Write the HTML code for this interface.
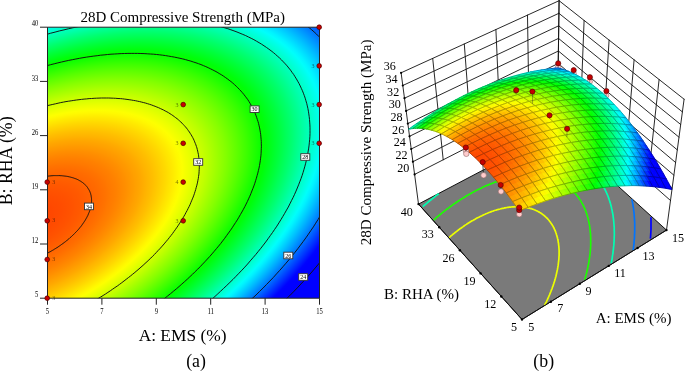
<!DOCTYPE html><html><head><meta charset="utf-8"><style>html,body{margin:0;padding:0;background:#fff}svg{display:block;will-change:transform}path.c{fill:currentColor;stroke:currentColor;stroke-width:.9;stroke-linejoin:round}path.m{fill:none;stroke:#000;stroke-opacity:.55;stroke-width:.5;stroke-linejoin:round}text{font-family:"Liberation Serif",serif;fill:#000}</style></head><body>
<svg width="685" height="371" viewBox="0 0 685 371">
<rect width="685" height="371" fill="#fff"/>
<defs><radialGradient id="g" gradientUnits="userSpaceOnUse" cx="0" cy="0" r="1" gradientTransform="matrix(-385.3995 193.5474 -107.9328 -213.3428 28.974 220.615)">
<stop offset="0.0000" stop-color="#ff4400"/>
<stop offset="0.0083" stop-color="#ff4400"/>
<stop offset="0.0167" stop-color="#ff4400"/>
<stop offset="0.0250" stop-color="#ff4500"/>
<stop offset="0.0333" stop-color="#ff4500"/>
<stop offset="0.0417" stop-color="#ff4600"/>
<stop offset="0.0500" stop-color="#ff4700"/>
<stop offset="0.0583" stop-color="#ff4800"/>
<stop offset="0.0667" stop-color="#ff4a00"/>
<stop offset="0.0750" stop-color="#ff4b00"/>
<stop offset="0.0833" stop-color="#ff4d00"/>
<stop offset="0.0917" stop-color="#ff4f00"/>
<stop offset="0.1000" stop-color="#ff5100"/>
<stop offset="0.1083" stop-color="#ff5300"/>
<stop offset="0.1167" stop-color="#ff5600"/>
<stop offset="0.1250" stop-color="#ff5800"/>
<stop offset="0.1333" stop-color="#ff5b00"/>
<stop offset="0.1417" stop-color="#ff5e00"/>
<stop offset="0.1500" stop-color="#ff6100"/>
<stop offset="0.1583" stop-color="#ff6400"/>
<stop offset="0.1667" stop-color="#ff6800"/>
<stop offset="0.1750" stop-color="#ff6b00"/>
<stop offset="0.1833" stop-color="#ff6f00"/>
<stop offset="0.1917" stop-color="#ff7300"/>
<stop offset="0.2000" stop-color="#ff7800"/>
<stop offset="0.2083" stop-color="#ff7c00"/>
<stop offset="0.2167" stop-color="#ff8000"/>
<stop offset="0.2250" stop-color="#ff8500"/>
<stop offset="0.2333" stop-color="#ff8a00"/>
<stop offset="0.2417" stop-color="#ff8f00"/>
<stop offset="0.2500" stop-color="#ff9500"/>
<stop offset="0.2583" stop-color="#ff9a00"/>
<stop offset="0.2667" stop-color="#ffa000"/>
<stop offset="0.2750" stop-color="#ffa500"/>
<stop offset="0.2833" stop-color="#ffab00"/>
<stop offset="0.2917" stop-color="#ffb200"/>
<stop offset="0.3000" stop-color="#ffb800"/>
<stop offset="0.3083" stop-color="#ffbe00"/>
<stop offset="0.3167" stop-color="#ffc500"/>
<stop offset="0.3250" stop-color="#ffcc00"/>
<stop offset="0.3333" stop-color="#ffd300"/>
<stop offset="0.3417" stop-color="#ffda00"/>
<stop offset="0.3500" stop-color="#ffe200"/>
<stop offset="0.3583" stop-color="#ffe900"/>
<stop offset="0.3667" stop-color="#fff100"/>
<stop offset="0.3750" stop-color="#fff900"/>
<stop offset="0.3833" stop-color="#fdff00"/>
<stop offset="0.3917" stop-color="#f4ff00"/>
<stop offset="0.4000" stop-color="#ecff00"/>
<stop offset="0.4083" stop-color="#e3ff00"/>
<stop offset="0.4167" stop-color="#daff00"/>
<stop offset="0.4250" stop-color="#d1ff00"/>
<stop offset="0.4333" stop-color="#c8ff00"/>
<stop offset="0.4417" stop-color="#bfff00"/>
<stop offset="0.4500" stop-color="#b5ff00"/>
<stop offset="0.4583" stop-color="#abff00"/>
<stop offset="0.4667" stop-color="#a1ff00"/>
<stop offset="0.4750" stop-color="#97ff00"/>
<stop offset="0.4833" stop-color="#8dff00"/>
<stop offset="0.4917" stop-color="#83ff00"/>
<stop offset="0.5000" stop-color="#78ff00"/>
<stop offset="0.5083" stop-color="#6dff00"/>
<stop offset="0.5167" stop-color="#62ff00"/>
<stop offset="0.5250" stop-color="#57ff00"/>
<stop offset="0.5333" stop-color="#4bff00"/>
<stop offset="0.5417" stop-color="#40ff00"/>
<stop offset="0.5500" stop-color="#34ff00"/>
<stop offset="0.5583" stop-color="#28ff00"/>
<stop offset="0.5667" stop-color="#1cff00"/>
<stop offset="0.5750" stop-color="#10ff00"/>
<stop offset="0.5833" stop-color="#04ff00"/>
<stop offset="0.5917" stop-color="#00ff09"/>
<stop offset="0.6000" stop-color="#00ff16"/>
<stop offset="0.6083" stop-color="#00ff23"/>
<stop offset="0.6167" stop-color="#00ff30"/>
<stop offset="0.6250" stop-color="#00ff3d"/>
<stop offset="0.6333" stop-color="#00ff4b"/>
<stop offset="0.6417" stop-color="#00ff59"/>
<stop offset="0.6500" stop-color="#00ff66"/>
<stop offset="0.6583" stop-color="#00ff74"/>
<stop offset="0.6667" stop-color="#00ff83"/>
<stop offset="0.6750" stop-color="#00ff91"/>
<stop offset="0.6833" stop-color="#00ffa0"/>
<stop offset="0.6917" stop-color="#00ffae"/>
<stop offset="0.7000" stop-color="#00ffbd"/>
<stop offset="0.7083" stop-color="#00ffcd"/>
<stop offset="0.7167" stop-color="#00ffdc"/>
<stop offset="0.7250" stop-color="#00ffeb"/>
<stop offset="0.7333" stop-color="#00fffb"/>
<stop offset="0.7417" stop-color="#00f3ff"/>
<stop offset="0.7500" stop-color="#00e3ff"/>
<stop offset="0.7583" stop-color="#00d3ff"/>
<stop offset="0.7667" stop-color="#00c3ff"/>
<stop offset="0.7750" stop-color="#00b2ff"/>
<stop offset="0.7833" stop-color="#00a1ff"/>
<stop offset="0.7917" stop-color="#0090ff"/>
<stop offset="0.8000" stop-color="#007fff"/>
<stop offset="0.8083" stop-color="#006eff"/>
<stop offset="0.8167" stop-color="#005dff"/>
<stop offset="0.8250" stop-color="#004bff"/>
<stop offset="0.8333" stop-color="#0039ff"/>
<stop offset="0.8417" stop-color="#0027ff"/>
<stop offset="0.8500" stop-color="#0015ff"/>
<stop offset="0.8583" stop-color="#0003ff"/>
<stop offset="0.8667" stop-color="#0000ff"/>
<stop offset="0.8750" stop-color="#0000ff"/>
<stop offset="0.8833" stop-color="#0000ff"/>
<stop offset="0.8917" stop-color="#0000ff"/>
<stop offset="0.9000" stop-color="#0000ff"/>
<stop offset="0.9083" stop-color="#0000ff"/>
<stop offset="0.9167" stop-color="#0000ff"/>
<stop offset="0.9250" stop-color="#0000ff"/>
<stop offset="0.9333" stop-color="#0000ff"/>
<stop offset="0.9417" stop-color="#0000ff"/>
<stop offset="0.9500" stop-color="#0000ff"/>
<stop offset="0.9583" stop-color="#0000ff"/>
<stop offset="0.9667" stop-color="#0000ff"/>
<stop offset="0.9750" stop-color="#0000ff"/>
<stop offset="0.9833" stop-color="#0000ff"/>
<stop offset="0.9917" stop-color="#0000ff"/>
<stop offset="1.0000" stop-color="#0000ff"/>
</radialGradient><clipPath id="cp"><rect x="47.5" y="27.2" width="272.0" height="271.0"/></clipPath></defs>
<rect x="47.5" y="27.2" width="272.0" height="271.0" fill="url(#g)"/>
<g clip-path="url(#cp)" fill="none" stroke="#111" stroke-width="0.95">
<path d="M-316.8 394.3 L-318.3 391.2 L-319.7 388.2 L-321.0 385.0 L-322.2 381.9 L-323.4 378.7 L-324.4 375.4 L-325.4 372.2 L-326.3 368.8 L-327.0 365.5 L-327.7 362.1 L-328.3 358.7 L-328.9 355.2 L-329.3 351.7 L-329.6 348.2 L-329.9 344.7 L-330.0 341.1 L-330.1 337.5 L-330.1 333.8 L-330.0 330.1 L-329.8 326.4 L-329.5 322.7 L-329.2 319.0 L-328.7 315.2 L-328.2 311.4 L-327.5 307.6 L-326.8 303.7 L-326.0 299.9 L-325.1 296.0 L-324.1 292.1 L-323.0 288.1 L-321.9 284.2 L-320.6 280.3 L-319.3 276.3 L-317.8 272.3 L-316.3 268.3 L-314.7 264.3 L-313.1 260.3 L-311.3 256.3 L-309.4 252.2 L-307.5 248.2 L-305.5 244.1 L-303.4 240.1 L-301.2 236.0 L-298.9 232.0 L-296.6 227.9 L-294.2 223.8 L-291.7 219.8 L-289.1 215.7 L-286.4 211.6 L-283.7 207.5 L-280.9 203.5 L-278.0 199.4 L-275.0 195.4 L-271.9 191.3 L-268.8 187.3 L-265.6 183.3 L-262.3 179.2 L-259.0 175.2 L-255.6 171.2 L-252.1 167.2 L-248.5 163.3 L-244.9 159.3 L-241.2 155.3 L-237.5 151.4 L-233.7 147.5 L-229.8 143.6 L-225.8 139.7 L-221.8 135.9 L-217.7 132.0 L-213.6 128.2 L-209.4 124.4 L-205.1 120.7 L-200.8 116.9 L-196.4 113.2 L-192.0 109.5 L-187.5 105.9 L-183.0 102.2 L-178.4 98.6 L-173.7 95.1 L-169.0 91.5 L-164.3 88.0 L-159.5 84.5 L-154.7 81.1 L-149.8 77.7 L-144.9 74.3 L-139.9 71.0 L-134.9 67.7 L-129.8 64.4 L-124.7 61.2 L-119.6 58.0 L-114.4 54.9 L-109.2 51.8 L-104.0 48.7 L-98.7 45.7 L-93.4 42.7 L-88.1 39.8 L-82.7 36.9 L-77.4 34.1 L-71.9 31.3 L-66.5 28.5 L-61.0 25.8 L-55.6 23.2 L-50.1 20.6 L-44.5 18.0 L-39.0 15.5 L-33.4 13.1 L-27.8 10.7 L-22.3 8.3 L-16.7 6.0 L-11.0 3.8 L-5.4 1.6 L0.2 -0.5 L5.9 -2.6 L11.5 -4.6 L17.2 -6.6 L22.8 -8.5 L28.5 -10.4 L34.1 -12.2 L39.8 -13.9 L45.4 -15.6 L51.1 -17.2 L56.7 -18.8 L62.3 -20.3 L68.0 -21.7 L73.6 -23.1 L79.2 -24.4 L84.8 -25.7 L90.4 -26.9 L95.9 -28.0 L101.5 -29.1 L107.0 -30.1 L112.5 -31.1 L118.0 -32.0 L123.5 -32.8 L128.9 -33.6 L134.3 -34.3 L139.7 -34.9 L145.1 -35.5 L150.4 -36.0 L155.7 -36.5 L161.0 -36.9 L166.3 -37.2 L171.5 -37.4 L176.6 -37.6 L181.8 -37.8 L186.9 -37.8 L191.9 -37.8 L196.9 -37.8 L201.9 -37.6 L206.9 -37.5 L211.7 -37.2 L216.6 -36.9 L221.4 -36.5 L226.1 -36.1 L230.8 -35.5 L235.5 -35.0 L240.1 -34.3 L244.6 -33.6 L249.1 -32.9 L253.6 -32.1 L258.0 -31.2 L262.3 -30.2 L266.6 -29.2 L270.8 -28.1 L274.9 -27.0 L279.0 -25.8 L283.0 -24.5 L287.0 -23.2 L290.9 -21.8 L294.7 -20.4 L298.5 -18.9 L302.2 -17.3 L305.8 -15.7 L309.4 -14.0 L312.9 -12.3 L316.3 -10.5 L319.7 -8.7 L323.0 -6.8 L326.2 -4.8 L329.3 -2.8 L332.4 -0.7 L335.4 1.4 L338.3 3.6 L341.1 5.8 L343.9 8.1 L346.6 10.5 L349.2 12.9 L351.7 15.3 L354.1 17.8 L356.5 20.4 L358.8 23.0 L361.0 25.6 L363.1 28.3 L365.1 31.0 L367.0 33.8 L368.9 36.7 L370.7 39.6 L372.4 42.5 L374.0 45.5 L375.5 48.5 L377.0 51.5 L378.3 54.6 L379.6 57.8 L380.8 60.9 L381.9 64.2 L382.9 67.4 L383.8 70.7 L384.6 74.1 L385.3 77.4 L386.0 80.8 L386.6 84.3 L387.0 87.7 L387.4 91.3 L387.7 94.8 L387.9 98.4 L388.0 102.0 L388.1 105.6 L388.0 109.3 L387.9 112.9 L387.6 116.7 L387.3 120.4 L386.9 124.2 L386.4 127.9 L385.8 131.8 L385.1 135.6 L384.3 139.4 L383.5 143.3 L382.5 147.2 L381.5 151.1 L380.4 155.0 L379.2 159.0 L377.9 163.0 L376.5 166.9 L375.0 170.9 L373.5 174.9 L371.9 178.9 L370.1 182.9 L368.3 187.0 L366.4 191.0 L364.5 195.1 L362.4 199.1 L360.3 203.2 L358.0 207.2 L355.7 211.3 L353.3 215.4 L350.9 219.4 L348.3 223.5 L345.7 227.6 L343.0 231.6 L340.2 235.7 L337.4 239.8 L334.4 243.8 L331.4 247.9 L328.3 251.9 L325.2 256.0 L321.9 260.0 L318.6 264.0 L315.2 268.0 L311.8 272.0 L308.3 276.0 L304.7 280.0 L301.0 283.9 L297.3 287.9 L293.5 291.8 L289.7 295.7 L285.7 299.6 L281.8 303.4 L277.7 307.3 L273.6 311.1 L269.4 314.9 L265.2 318.7 L260.9 322.4 L256.6 326.2 L252.2 329.9 L247.7 333.5 L243.2 337.2 L238.6 340.8 L234.0 344.4 L229.3 347.9 L224.6 351.5 L219.9 355.0 L215.0 358.4 L210.2 361.8 L205.3 365.2 L200.3 368.6 L195.3 371.9 L190.3 375.2 L185.2 378.4 L180.1 381.6 L175.0 384.8 L169.8 387.9 L164.6 391.0 L159.3 394.0 L154.0 397.0 L148.7 400.0 L143.4 402.9 L138.0 405.8 L132.6 408.6 L127.2 411.4 L121.7 414.1 L116.3 416.7 L110.8 419.4 L105.2 422.0 L99.7 424.5 L94.2 427.0 L88.6 429.4 L83.0 431.8 L77.4 434.1 L71.8 436.3 L66.2 438.6 L60.5 440.7 L54.9 442.8 L49.3 444.9 L43.6 446.9 L38.0 448.8 L32.3 450.7 L26.7 452.5 L21.0 454.3 L15.3 456.0 L9.7 457.6 L4.1 459.2 L-1.6 460.8 L-7.2 462.2 L-12.8 463.7 L-18.4 465.0 L-24.0 466.3 L-29.6 467.5 L-35.2 468.7 L-40.8 469.8 L-46.3 470.9 L-51.8 471.9 L-57.3 472.8 L-62.8 473.6 L-68.2 474.4 L-73.7 475.2 L-79.1 475.8 L-84.5 476.5 L-89.8 477.0 L-95.1 477.5 L-100.4 477.9 L-105.7 478.3 L-110.9 478.5 L-116.1 478.8 L-121.3 478.9 L-126.4 479.0 L-131.5 479.1 L-136.5 479.0 L-141.5 478.9 L-146.4 478.8 L-151.4 478.6 L-156.2 478.3 L-161.0 477.9 L-165.8 477.5 L-170.6 477.0 L-175.2 476.5 L-179.9 475.9 L-184.4 475.2 L-188.9 474.5 L-193.4 473.7 L-197.8 472.8 L-202.2 471.9 L-206.5 470.9 L-210.7 469.9 L-214.9 468.8 L-219.0 467.6 L-223.1 466.4 L-227.1 465.1 L-231.0 463.8 L-234.9 462.4 L-238.7 460.9 L-242.4 459.4 L-246.1 457.8 L-249.7 456.1 L-253.2 454.4 L-256.7 452.7 L-260.1 450.8 L-263.4 449.0 L-266.6 447.0 L-269.8 445.0 L-272.9 443.0 L-275.9 440.9 L-278.9 438.7 L-281.8 436.5 L-284.6 434.2 L-287.3 431.9 L-289.9 429.6 L-292.5 427.1 L-295.0 424.7 L-297.4 422.1 L-299.7 419.6 L-301.9 416.9 L-304.1 414.3 L-306.1 411.6 L-308.1 408.8 L-310.0 406.0 L-311.9 403.1 L-313.6 400.2 L-315.3 397.3 L-316.8 394.3Z"/>
<path d="M-281.5 376.5 L-282.9 373.8 L-284.1 371.1 L-285.3 368.3 L-286.4 365.4 L-287.4 362.5 L-288.3 359.6 L-289.2 356.7 L-290.0 353.7 L-290.7 350.7 L-291.3 347.7 L-291.9 344.6 L-292.3 341.5 L-292.7 338.4 L-293.0 335.2 L-293.3 332.0 L-293.4 328.8 L-293.5 325.5 L-293.5 322.3 L-293.4 319.0 L-293.2 315.6 L-292.9 312.3 L-292.6 308.9 L-292.2 305.5 L-291.7 302.1 L-291.1 298.7 L-290.5 295.2 L-289.7 291.8 L-288.9 288.3 L-288.1 284.8 L-287.1 281.3 L-286.0 277.7 L-284.9 274.2 L-283.7 270.6 L-282.4 267.0 L-281.1 263.4 L-279.7 259.9 L-278.1 256.2 L-276.6 252.6 L-274.9 249.0 L-273.2 245.4 L-271.4 241.7 L-269.5 238.1 L-267.5 234.4 L-265.5 230.8 L-263.4 227.1 L-261.2 223.5 L-258.9 219.8 L-256.6 216.2 L-254.2 212.5 L-251.8 208.9 L-249.2 205.2 L-246.6 201.6 L-244.0 197.9 L-241.2 194.3 L-238.4 190.7 L-235.5 187.1 L-232.6 183.5 L-229.6 179.9 L-226.5 176.3 L-223.4 172.7 L-220.2 169.1 L-217.0 165.6 L-213.7 162.0 L-210.3 158.5 L-206.8 155.0 L-203.4 151.5 L-199.8 148.0 L-196.2 144.5 L-192.5 141.1 L-188.8 137.7 L-185.0 134.3 L-181.2 130.9 L-177.3 127.5 L-173.4 124.2 L-169.4 120.9 L-165.4 117.6 L-161.3 114.3 L-157.2 111.1 L-153.0 107.9 L-148.8 104.7 L-144.6 101.5 L-140.3 98.4 L-135.9 95.3 L-131.5 92.3 L-127.1 89.2 L-122.7 86.2 L-118.2 83.3 L-113.6 80.4 L-109.1 77.5 L-104.4 74.6 L-99.8 71.8 L-95.1 69.0 L-90.4 66.2 L-85.7 63.5 L-80.9 60.9 L-76.2 58.2 L-71.3 55.6 L-66.5 53.1 L-61.6 50.6 L-56.8 48.1 L-51.9 45.7 L-46.9 43.3 L-42.0 41.0 L-37.0 38.7 L-32.0 36.4 L-27.1 34.2 L-22.0 32.1 L-17.0 30.0 L-12.0 27.9 L-7.0 25.9 L-1.9 23.9 L3.2 22.0 L8.2 20.2 L13.3 18.3 L18.4 16.6 L23.4 14.9 L28.5 13.2 L33.6 11.6 L38.7 10.0 L43.7 8.5 L48.8 7.1 L53.9 5.7 L58.9 4.3 L64.0 3.0 L69.0 1.8 L74.1 0.6 L79.1 -0.6 L84.1 -1.6 L89.1 -2.7 L94.1 -3.6 L99.0 -4.5 L104.0 -5.4 L108.9 -6.2 L113.8 -7.0 L118.7 -7.6 L123.6 -8.3 L128.4 -8.8 L133.2 -9.4 L138.0 -9.8 L142.8 -10.2 L147.5 -10.6 L152.2 -10.9 L156.9 -11.1 L161.6 -11.3 L166.2 -11.4 L170.8 -11.5 L175.3 -11.5 L179.8 -11.4 L184.3 -11.3 L188.7 -11.1 L193.1 -10.9 L197.4 -10.6 L201.7 -10.3 L206.0 -9.9 L210.2 -9.4 L214.4 -8.9 L218.5 -8.3 L222.6 -7.7 L226.7 -7.0 L230.7 -6.3 L234.6 -5.5 L238.5 -4.6 L242.3 -3.7 L246.1 -2.7 L249.8 -1.7 L253.5 -0.6 L257.1 0.5 L260.7 1.7 L264.2 2.9 L267.6 4.2 L271.0 5.5 L274.3 6.9 L277.6 8.4 L280.8 9.9 L283.9 11.5 L287.0 13.1 L290.0 14.7 L293.0 16.4 L295.8 18.2 L298.7 20.0 L301.4 21.9 L304.1 23.8 L306.7 25.8 L309.3 27.8 L311.7 29.8 L314.1 31.9 L316.5 34.1 L318.7 36.3 L320.9 38.5 L323.0 40.8 L325.1 43.1 L327.1 45.5 L329.0 47.9 L330.8 50.4 L332.5 52.9 L334.2 55.4 L335.8 58.0 L337.3 60.7 L338.8 63.3 L340.1 66.0 L341.4 68.8 L342.7 71.6 L343.8 74.4 L344.9 77.2 L345.8 80.1 L346.7 83.1 L347.6 86.0 L348.3 89.0 L349.0 92.0 L349.6 95.1 L350.1 98.2 L350.5 101.3 L350.8 104.5 L351.1 107.6 L351.3 110.8 L351.4 114.1 L351.4 117.3 L351.4 120.6 L351.2 123.9 L351.0 127.3 L350.7 130.6 L350.4 134.0 L349.9 137.4 L349.4 140.8 L348.8 144.3 L348.1 147.7 L347.3 151.2 L346.5 154.7 L345.5 158.2 L344.5 161.7 L343.4 165.3 L342.3 168.8 L341.0 172.4 L339.7 176.0 L338.3 179.6 L336.9 183.2 L335.3 186.8 L333.7 190.4 L332.0 194.0 L330.2 197.7 L328.4 201.3 L326.4 205.0 L324.4 208.6 L322.4 212.3 L320.2 215.9 L318.0 219.6 L315.7 223.2 L313.4 226.9 L310.9 230.5 L308.4 234.2 L305.9 237.8 L303.2 241.5 L300.5 245.1 L297.8 248.7 L294.9 252.4 L292.0 256.0 L289.1 259.6 L286.0 263.2 L282.9 266.8 L279.8 270.3 L276.5 273.9 L273.3 277.5 L269.9 281.0 L266.5 284.5 L263.1 288.0 L259.5 291.5 L256.0 295.0 L252.3 298.4 L248.6 301.9 L244.9 305.3 L241.1 308.7 L237.2 312.0 L233.3 315.4 L229.4 318.7 L225.4 322.0 L221.3 325.3 L217.2 328.5 L213.1 331.8 L208.9 334.9 L204.7 338.1 L200.4 341.2 L196.1 344.4 L191.7 347.4 L187.3 350.5 L182.8 353.5 L178.4 356.5 L173.8 359.4 L169.3 362.3 L164.7 365.2 L160.1 368.0 L155.4 370.8 L150.7 373.6 L146.0 376.3 L141.3 379.0 L136.5 381.7 L131.7 384.3 L126.9 386.9 L122.0 389.4 L117.2 391.9 L112.3 394.3 L107.3 396.7 L102.4 399.1 L97.5 401.4 L92.5 403.7 L87.5 405.9 L82.5 408.1 L77.5 410.2 L72.5 412.3 L67.4 414.3 L62.4 416.3 L57.3 418.3 L52.3 420.1 L47.2 422.0 L42.1 423.8 L37.0 425.5 L32.0 427.2 L26.9 428.8 L21.8 430.4 L16.7 432.0 L11.7 433.5 L6.6 434.9 L1.5 436.3 L-3.5 437.6 L-8.6 438.9 L-13.6 440.1 L-18.6 441.2 L-23.6 442.3 L-28.7 443.4 L-33.6 444.4 L-38.6 445.3 L-43.6 446.2 L-48.5 447.0 L-53.4 447.8 L-58.3 448.5 L-63.2 449.2 L-68.1 449.8 L-72.9 450.3 L-77.7 450.8 L-82.5 451.3 L-87.2 451.6 L-91.9 452.0 L-96.6 452.2 L-101.3 452.4 L-105.9 452.6 L-110.5 452.7 L-115.1 452.7 L-119.6 452.7 L-124.1 452.6 L-128.5 452.4 L-133.0 452.2 L-137.3 452.0 L-141.7 451.7 L-145.9 451.3 L-150.2 450.9 L-154.4 450.4 L-158.5 449.8 L-162.6 449.2 L-166.7 448.6 L-170.7 447.9 L-174.7 447.1 L-178.6 446.3 L-182.4 445.4 L-186.3 444.5 L-190.0 443.5 L-193.7 442.4 L-197.4 441.3 L-200.9 440.2 L-204.5 438.9 L-207.9 437.7 L-211.4 436.4 L-214.7 435.0 L-218.0 433.6 L-221.2 432.1 L-224.4 430.6 L-227.5 429.0 L-230.6 427.3 L-233.6 425.6 L-236.5 423.9 L-239.3 422.1 L-242.1 420.3 L-244.8 418.4 L-247.5 416.5 L-250.0 414.5 L-252.6 412.4 L-255.0 410.4 L-257.4 408.2 L-259.7 406.1 L-261.9 403.8 L-264.0 401.6 L-266.1 399.3 L-268.1 396.9 L-270.1 394.5 L-271.9 392.1 L-273.7 389.6 L-275.4 387.1 L-277.1 384.5 L-278.6 381.9 L-280.1 379.2 L-281.5 376.5Z"/>
<path d="M-241.7 356.5 L-242.8 354.2 L-243.9 351.7 L-244.9 349.3 L-245.9 346.8 L-246.8 344.3 L-247.6 341.8 L-248.4 339.2 L-249.0 336.6 L-249.7 334.0 L-250.2 331.4 L-250.7 328.7 L-251.1 326.0 L-251.4 323.2 L-251.7 320.5 L-251.9 317.7 L-252.0 314.9 L-252.1 312.1 L-252.1 309.2 L-252.0 306.3 L-251.8 303.4 L-251.6 300.5 L-251.3 297.6 L-251.0 294.6 L-250.5 291.7 L-250.0 288.7 L-249.5 285.7 L-248.8 282.6 L-248.1 279.6 L-247.4 276.5 L-246.5 273.5 L-245.6 270.4 L-244.6 267.3 L-243.6 264.2 L-242.5 261.1 L-241.3 257.9 L-240.0 254.8 L-238.7 251.7 L-237.3 248.5 L-235.9 245.4 L-234.4 242.2 L-232.8 239.0 L-231.2 235.9 L-229.4 232.7 L-227.7 229.5 L-225.8 226.3 L-223.9 223.1 L-222.0 219.9 L-220.0 216.8 L-217.9 213.6 L-215.7 210.4 L-213.5 207.2 L-211.2 204.0 L-208.9 200.9 L-206.5 197.7 L-204.1 194.5 L-201.6 191.4 L-199.0 188.2 L-196.4 185.1 L-193.7 182.0 L-191.0 178.8 L-188.2 175.7 L-185.4 172.6 L-182.5 169.5 L-179.6 166.5 L-176.6 163.4 L-173.5 160.3 L-170.4 157.3 L-167.3 154.3 L-164.1 151.3 L-160.9 148.3 L-157.6 145.3 L-154.2 142.4 L-150.9 139.5 L-147.4 136.6 L-144.0 133.7 L-140.5 130.8 L-136.9 128.0 L-133.3 125.1 L-129.7 122.4 L-126.0 119.6 L-122.3 116.8 L-118.5 114.1 L-114.8 111.4 L-110.9 108.7 L-107.1 106.1 L-103.2 103.5 L-99.3 100.9 L-95.3 98.4 L-91.3 95.8 L-87.3 93.3 L-83.3 90.9 L-79.2 88.5 L-75.1 86.1 L-71.0 83.7 L-66.8 81.4 L-62.7 79.1 L-58.5 76.8 L-54.2 74.6 L-50.0 72.4 L-45.8 70.3 L-41.5 68.2 L-37.2 66.1 L-32.9 64.0 L-28.6 62.0 L-24.2 60.1 L-19.9 58.2 L-15.5 56.3 L-11.1 54.5 L-6.7 52.7 L-2.3 50.9 L2.1 49.2 L6.5 47.5 L10.9 45.9 L15.3 44.3 L19.7 42.8 L24.1 41.3 L28.6 39.8 L33.0 38.4 L37.4 37.1 L41.8 35.7 L46.3 34.5 L50.7 33.2 L55.1 32.1 L59.5 30.9 L63.9 29.9 L68.3 28.8 L72.7 27.8 L77.0 26.9 L81.4 26.0 L85.7 25.2 L90.0 24.4 L94.4 23.6 L98.7 22.9 L102.9 22.3 L107.2 21.7 L111.4 21.1 L115.7 20.6 L119.9 20.2 L124.0 19.8 L128.2 19.4 L132.3 19.1 L136.4 18.9 L140.5 18.6 L144.5 18.5 L148.6 18.4 L152.5 18.3 L156.5 18.3 L160.4 18.4 L164.3 18.5 L168.2 18.6 L172.0 18.8 L175.8 19.1 L179.6 19.4 L183.3 19.7 L187.0 20.1 L190.6 20.6 L194.2 21.1 L197.8 21.6 L201.3 22.2 L204.8 22.9 L208.2 23.6 L211.6 24.3 L214.9 25.1 L218.2 25.9 L221.5 26.8 L224.7 27.8 L227.8 28.7 L230.9 29.8 L234.0 30.9 L237.0 32.0 L239.9 33.2 L242.8 34.4 L245.7 35.6 L248.5 37.0 L251.2 38.3 L253.9 39.7 L256.5 41.2 L259.1 42.7 L261.6 44.2 L264.0 45.8 L266.4 47.4 L268.8 49.1 L271.1 50.8 L273.3 52.5 L275.4 54.3 L277.5 56.2 L279.6 58.0 L281.5 59.9 L283.4 61.9 L285.3 63.9 L287.1 65.9 L288.8 68.0 L290.5 70.1 L292.0 72.3 L293.6 74.4 L295.0 76.7 L296.4 78.9 L297.7 81.2 L299.0 83.5 L300.2 85.9 L301.3 88.3 L302.4 90.7 L303.4 93.2 L304.3 95.6 L305.2 98.2 L305.9 100.7 L306.7 103.3 L307.3 105.9 L307.9 108.5 L308.4 111.2 L308.8 113.9 L309.2 116.6 L309.5 119.4 L309.7 122.1 L309.9 124.9 L310.0 127.8 L310.0 130.6 L310.0 133.5 L309.9 136.3 L309.7 139.2 L309.4 142.2 L309.1 145.1 L308.7 148.1 L308.2 151.1 L307.7 154.1 L307.1 157.1 L306.4 160.1 L305.7 163.2 L304.9 166.2 L304.0 169.3 L303.1 172.4 L302.1 175.5 L301.0 178.6 L299.8 181.7 L298.6 184.8 L297.3 188.0 L296.0 191.1 L294.6 194.3 L293.1 197.5 L291.5 200.6 L289.9 203.8 L288.3 207.0 L286.5 210.1 L284.7 213.3 L282.8 216.5 L280.9 219.7 L278.9 222.9 L276.9 226.1 L274.7 229.3 L272.6 232.4 L270.3 235.6 L268.0 238.8 L265.7 242.0 L263.3 245.1 L260.8 248.3 L258.3 251.4 L255.7 254.6 L253.0 257.7 L250.3 260.8 L247.6 264.0 L244.8 267.1 L241.9 270.2 L239.0 273.2 L236.0 276.3 L233.0 279.4 L229.9 282.4 L226.8 285.4 L223.6 288.4 L220.4 291.4 L217.2 294.4 L213.9 297.4 L210.5 300.3 L207.1 303.2 L203.7 306.1 L200.2 309.0 L196.6 311.8 L193.1 314.7 L189.4 317.5 L185.8 320.3 L182.1 323.0 L178.4 325.8 L174.6 328.5 L170.8 331.2 L167.0 333.8 L163.1 336.4 L159.2 339.0 L155.2 341.6 L151.3 344.1 L147.3 346.6 L143.2 349.1 L139.2 351.6 L135.1 354.0 L131.0 356.3 L126.9 358.7 L122.7 361.0 L118.5 363.3 L114.3 365.5 L110.1 367.7 L105.8 369.9 L101.6 372.0 L97.3 374.1 L93.0 376.2 L88.7 378.2 L84.3 380.2 L80.0 382.1 L75.6 384.0 L71.3 385.9 L66.9 387.7 L62.5 389.5 L58.1 391.2 L53.7 392.9 L49.3 394.5 L44.9 396.1 L40.4 397.7 L36.0 399.2 L31.6 400.7 L27.2 402.1 L22.7 403.5 L18.3 404.8 L13.9 406.1 L9.5 407.4 L5.1 408.6 L0.7 409.7 L-3.7 410.8 L-8.1 411.9 L-12.5 412.9 L-16.9 413.9 L-21.3 414.8 L-25.6 415.7 L-29.9 416.5 L-34.3 417.2 L-38.6 418.0 L-42.8 418.6 L-47.1 419.3 L-51.4 419.8 L-55.6 420.4 L-59.8 420.8 L-64.0 421.3 L-68.2 421.7 L-72.3 422.0 L-76.4 422.3 L-80.5 422.5 L-84.6 422.7 L-88.6 422.8 L-92.6 422.9 L-96.6 422.9 L-100.5 422.9 L-104.4 422.8 L-108.3 422.7 L-112.2 422.5 L-116.0 422.3 L-119.7 422.0 L-123.5 421.7 L-127.2 421.3 L-130.8 420.9 L-134.5 420.4 L-138.0 419.9 L-141.6 419.3 L-145.1 418.7 L-148.5 418.0 L-151.9 417.3 L-155.3 416.5 L-158.6 415.7 L-161.9 414.9 L-165.1 413.9 L-168.3 413.0 L-171.4 412.0 L-174.5 410.9 L-177.5 409.8 L-180.5 408.7 L-183.4 407.5 L-186.3 406.2 L-189.1 404.9 L-191.9 403.6 L-194.6 402.2 L-197.3 400.8 L-199.8 399.3 L-202.4 397.8 L-204.9 396.3 L-207.3 394.6 L-209.7 393.0 L-212.0 391.3 L-214.2 389.6 L-216.4 387.8 L-218.5 386.0 L-220.6 384.1 L-222.6 382.3 L-224.6 380.3 L-226.4 378.3 L-228.2 376.3 L-230.0 374.3 L-231.7 372.2 L-233.3 370.1 L-234.9 367.9 L-236.4 365.7 L-237.8 363.5 L-239.1 361.2 L-240.4 358.9 L-241.7 356.5Z"/>
<path d="M-194.8 333.0 L-195.8 331.0 L-196.7 329.0 L-197.5 327.0 L-198.3 325.0 L-199.0 322.9 L-199.7 320.8 L-200.3 318.7 L-200.9 316.5 L-201.4 314.4 L-201.9 312.2 L-202.3 310.0 L-202.6 307.7 L-202.9 305.5 L-203.1 303.2 L-203.3 300.9 L-203.4 298.6 L-203.4 296.2 L-203.4 293.9 L-203.3 291.5 L-203.2 289.1 L-203.0 286.7 L-202.8 284.3 L-202.5 281.8 L-202.1 279.4 L-201.7 276.9 L-201.3 274.4 L-200.7 271.9 L-200.2 269.4 L-199.5 266.9 L-198.8 264.3 L-198.1 261.8 L-197.3 259.2 L-196.4 256.6 L-195.5 254.1 L-194.5 251.5 L-193.5 248.9 L-192.4 246.3 L-191.2 243.7 L-190.0 241.1 L-188.8 238.5 L-187.5 235.8 L-186.1 233.2 L-184.7 230.6 L-183.2 228.0 L-181.7 225.3 L-180.2 222.7 L-178.5 220.1 L-176.9 217.4 L-175.1 214.8 L-173.4 212.2 L-171.5 209.5 L-169.7 206.9 L-167.7 204.3 L-165.8 201.7 L-163.7 199.0 L-161.7 196.4 L-159.6 193.8 L-157.4 191.2 L-155.2 188.6 L-152.9 186.1 L-150.6 183.5 L-148.3 180.9 L-145.9 178.4 L-143.5 175.8 L-141.0 173.3 L-138.5 170.8 L-135.9 168.3 L-133.3 165.8 L-130.7 163.3 L-128.0 160.8 L-125.3 158.4 L-122.5 155.9 L-119.7 153.5 L-116.9 151.1 L-114.0 148.7 L-111.1 146.4 L-108.2 144.0 L-105.2 141.7 L-102.2 139.4 L-99.2 137.1 L-96.1 134.8 L-93.0 132.5 L-89.9 130.3 L-86.7 128.1 L-83.5 125.9 L-80.3 123.8 L-77.1 121.6 L-73.8 119.5 L-70.5 117.4 L-67.2 115.4 L-63.8 113.3 L-60.5 111.3 L-57.1 109.4 L-53.7 107.4 L-50.2 105.5 L-46.8 103.6 L-43.3 101.7 L-39.8 99.9 L-36.3 98.1 L-32.8 96.3 L-29.3 94.5 L-25.7 92.8 L-22.2 91.1 L-18.6 89.5 L-15.0 87.9 L-11.4 86.3 L-7.8 84.7 L-4.2 83.2 L-0.6 81.7 L3.1 80.3 L6.7 78.9 L10.4 77.5 L14.0 76.1 L17.7 74.8 L21.3 73.6 L25.0 72.3 L28.6 71.1 L32.3 70.0 L36.0 68.8 L39.6 67.7 L43.3 66.7 L46.9 65.7 L50.6 64.7 L54.2 63.8 L57.8 62.9 L61.5 62.0 L65.1 61.2 L68.7 60.4 L72.3 59.7 L75.9 59.0 L79.5 58.3 L83.0 57.7 L86.6 57.1 L90.1 56.6 L93.7 56.1 L97.2 55.7 L100.6 55.2 L104.1 54.9 L107.6 54.5 L111.0 54.2 L114.4 54.0 L117.8 53.8 L121.2 53.6 L124.5 53.5 L127.9 53.4 L131.2 53.4 L134.4 53.4 L137.7 53.4 L140.9 53.5 L144.1 53.6 L147.3 53.8 L150.4 54.0 L153.5 54.2 L156.6 54.5 L159.6 54.8 L162.6 55.2 L165.6 55.6 L168.5 56.1 L171.5 56.6 L174.3 57.1 L177.2 57.7 L180.0 58.3 L182.7 58.9 L185.5 59.6 L188.1 60.4 L190.8 61.1 L193.4 62.0 L196.0 62.8 L198.5 63.7 L201.0 64.6 L203.4 65.6 L205.8 66.6 L208.2 67.7 L210.5 68.8 L212.7 69.9 L214.9 71.0 L217.1 72.2 L219.2 73.5 L221.3 74.7 L223.3 76.0 L225.3 77.4 L227.3 78.8 L229.1 80.2 L231.0 81.6 L232.8 83.1 L234.5 84.6 L236.2 86.2 L237.8 87.8 L239.4 89.4 L240.9 91.0 L242.4 92.7 L243.8 94.4 L245.2 96.2 L246.5 97.9 L247.8 99.7 L249.0 101.6 L250.1 103.4 L251.2 105.3 L252.3 107.3 L253.2 109.2 L254.2 111.2 L255.1 113.2 L255.9 115.2 L256.6 117.3 L257.3 119.4 L258.0 121.5 L258.6 123.6 L259.1 125.8 L259.6 127.9 L260.0 130.2 L260.4 132.4 L260.7 134.6 L260.9 136.9 L261.1 139.2 L261.3 141.5 L261.3 143.8 L261.4 146.2 L261.3 148.5 L261.2 150.9 L261.1 153.3 L260.9 155.8 L260.6 158.2 L260.3 160.6 L259.9 163.1 L259.5 165.6 L259.0 168.1 L258.4 170.6 L257.8 173.1 L257.1 175.6 L256.4 178.2 L255.6 180.7 L254.8 183.3 L253.9 185.9 L252.9 188.5 L251.9 191.0 L250.9 193.6 L249.8 196.2 L248.6 198.8 L247.4 201.5 L246.1 204.1 L244.8 206.7 L243.4 209.3 L241.9 212.0 L240.4 214.6 L238.9 217.2 L237.3 219.9 L235.6 222.5 L233.9 225.1 L232.2 227.8 L230.4 230.4 L228.5 233.0 L226.6 235.6 L224.7 238.3 L222.7 240.9 L220.7 243.5 L218.6 246.1 L216.4 248.7 L214.2 251.3 L212.0 253.9 L209.7 256.5 L207.4 259.0 L205.0 261.6 L202.6 264.1 L200.2 266.7 L197.7 269.2 L195.1 271.7 L192.6 274.2 L189.9 276.7 L187.3 279.2 L184.6 281.6 L181.8 284.1 L179.1 286.5 L176.3 288.9 L173.4 291.3 L170.5 293.7 L167.6 296.0 L164.7 298.4 L161.7 300.7 L158.6 303.0 L155.6 305.3 L152.5 307.6 L149.4 309.8 L146.2 312.0 L143.1 314.2 L139.9 316.4 L136.6 318.5 L133.4 320.7 L130.1 322.7 L126.8 324.8 L123.5 326.9 L120.1 328.9 L116.7 330.9 L113.3 332.9 L109.9 334.8 L106.5 336.7 L103.0 338.6 L99.5 340.4 L96.0 342.3 L92.5 344.1 L89.0 345.8 L85.5 347.5 L81.9 349.2 L78.3 350.9 L74.7 352.5 L71.2 354.1 L67.5 355.7 L63.9 357.3 L60.3 358.8 L56.7 360.2 L53.0 361.7 L49.4 363.1 L45.8 364.4 L42.1 365.7 L38.4 367.0 L34.8 368.3 L31.1 369.5 L27.5 370.7 L23.8 371.8 L20.2 372.9 L16.5 374.0 L12.8 375.0 L9.2 376.0 L5.6 377.0 L1.9 377.9 L-1.7 378.8 L-5.3 379.6 L-9.0 380.4 L-12.6 381.2 L-16.2 381.9 L-19.7 382.6 L-23.3 383.2 L-26.9 383.8 L-30.4 384.4 L-33.9 384.9 L-37.5 385.4 L-41.0 385.8 L-44.4 386.2 L-47.9 386.5 L-51.3 386.8 L-54.8 387.1 L-58.2 387.3 L-61.6 387.5 L-64.9 387.7 L-68.2 387.8 L-71.6 387.9 L-74.8 387.9 L-78.1 387.9 L-81.3 387.8 L-84.6 387.7 L-87.7 387.6 L-90.9 387.4 L-94.0 387.1 L-97.1 386.9 L-100.1 386.6 L-103.2 386.2 L-106.2 385.8 L-109.1 385.4 L-112.1 384.9 L-114.9 384.4 L-117.8 383.8 L-120.6 383.3 L-123.4 382.6 L-126.1 381.9 L-128.9 381.2 L-131.5 380.5 L-134.1 379.7 L-136.7 378.8 L-139.3 378.0 L-141.8 377.1 L-144.2 376.1 L-146.7 375.1 L-149.0 374.1 L-151.4 373.0 L-153.7 371.9 L-155.9 370.8 L-158.1 369.6 L-160.2 368.4 L-162.3 367.1 L-164.4 365.8 L-166.4 364.5 L-168.4 363.2 L-170.3 361.8 L-172.1 360.3 L-173.9 358.9 L-175.7 357.4 L-177.4 355.8 L-179.1 354.3 L-180.7 352.7 L-182.2 351.0 L-183.7 349.4 L-185.2 347.7 L-186.6 345.9 L-187.9 344.2 L-189.2 342.4 L-190.4 340.6 L-191.6 338.7 L-192.7 336.8 L-193.8 334.9 L-194.8 333.0Z"/>
<path d="M-135.1 303.0 L-135.8 301.6 L-136.4 300.1 L-137.1 298.6 L-137.6 297.1 L-138.2 295.6 L-138.7 294.1 L-139.1 292.5 L-139.6 290.9 L-139.9 289.3 L-140.3 287.7 L-140.5 286.1 L-140.8 284.5 L-141.0 282.8 L-141.2 281.1 L-141.3 279.5 L-141.4 277.8 L-141.4 276.0 L-141.4 274.3 L-141.3 272.6 L-141.2 270.8 L-141.1 269.1 L-140.9 267.3 L-140.7 265.5 L-140.5 263.7 L-140.2 261.9 L-139.8 260.0 L-139.4 258.2 L-139.0 256.4 L-138.5 254.5 L-138.0 252.7 L-137.5 250.8 L-136.9 248.9 L-136.2 247.0 L-135.6 245.1 L-134.8 243.2 L-134.1 241.3 L-133.3 239.4 L-132.5 237.5 L-131.6 235.6 L-130.7 233.7 L-129.7 231.8 L-128.7 229.9 L-127.7 227.9 L-126.6 226.0 L-125.5 224.1 L-124.3 222.1 L-123.1 220.2 L-121.9 218.3 L-120.7 216.3 L-119.4 214.4 L-118.0 212.5 L-116.6 210.6 L-115.2 208.6 L-113.8 206.7 L-112.3 204.8 L-110.8 202.9 L-109.2 201.0 L-107.6 199.1 L-106.0 197.2 L-104.4 195.3 L-102.7 193.4 L-101.0 191.5 L-99.2 189.6 L-97.4 187.8 L-95.6 185.9 L-93.8 184.1 L-91.9 182.2 L-90.0 180.4 L-88.1 178.6 L-86.1 176.8 L-84.1 175.0 L-82.1 173.2 L-80.0 171.4 L-78.0 169.7 L-75.9 167.9 L-73.7 166.2 L-71.6 164.5 L-69.4 162.7 L-67.2 161.0 L-65.0 159.4 L-62.7 157.7 L-60.4 156.1 L-58.2 154.4 L-55.8 152.8 L-53.5 151.2 L-51.1 149.6 L-48.8 148.1 L-46.4 146.5 L-44.0 145.0 L-41.5 143.5 L-39.1 142.0 L-36.6 140.5 L-34.1 139.1 L-31.6 137.6 L-29.1 136.2 L-26.6 134.8 L-24.0 133.5 L-21.5 132.1 L-18.9 130.8 L-16.3 129.5 L-13.7 128.2 L-11.1 126.9 L-8.5 125.7 L-5.9 124.5 L-3.3 123.3 L-0.6 122.1 L2.0 121.0 L4.7 119.9 L7.3 118.8 L10.0 117.7 L12.7 116.7 L15.3 115.7 L18.0 114.7 L20.7 113.7 L23.4 112.8 L26.0 111.9 L28.7 111.0 L31.4 110.2 L34.1 109.3 L36.8 108.5 L39.5 107.8 L42.1 107.0 L44.8 106.3 L47.5 105.6 L50.1 105.0 L52.8 104.4 L55.5 103.8 L58.1 103.2 L60.7 102.6 L63.4 102.1 L66.0 101.6 L68.6 101.2 L71.2 100.8 L73.8 100.4 L76.4 100.0 L79.0 99.7 L81.5 99.4 L84.1 99.1 L86.6 98.9 L89.1 98.6 L91.6 98.5 L94.1 98.3 L96.6 98.2 L99.0 98.1 L101.5 98.0 L103.9 98.0 L106.3 98.0 L108.7 98.0 L111.0 98.1 L113.4 98.2 L115.7 98.3 L118.0 98.5 L120.3 98.6 L122.5 98.8 L124.7 99.1 L127.0 99.4 L129.1 99.7 L131.3 100.0 L133.4 100.4 L135.5 100.7 L137.6 101.2 L139.7 101.6 L141.7 102.1 L143.7 102.6 L145.7 103.1 L147.6 103.7 L149.5 104.3 L151.4 104.9 L153.2 105.6 L155.1 106.3 L156.8 107.0 L158.6 107.7 L160.3 108.5 L162.0 109.3 L163.7 110.1 L165.3 111.0 L166.9 111.8 L168.5 112.7 L170.0 113.7 L171.5 114.6 L172.9 115.6 L174.3 116.6 L175.7 117.7 L177.1 118.7 L178.4 119.8 L179.6 120.9 L180.9 122.1 L182.1 123.2 L183.2 124.4 L184.3 125.6 L185.4 126.8 L186.5 128.1 L187.5 129.4 L188.4 130.7 L189.4 132.0 L190.2 133.3 L191.1 134.7 L191.9 136.1 L192.7 137.5 L193.4 138.9 L194.1 140.4 L194.7 141.9 L195.3 143.4 L195.9 144.9 L196.4 146.4 L196.9 147.9 L197.3 149.5 L197.7 151.1 L198.0 152.7 L198.4 154.3 L198.6 155.9 L198.8 157.6 L199.0 159.2 L199.2 160.9 L199.3 162.6 L199.3 164.3 L199.3 166.0 L199.3 167.8 L199.2 169.5 L199.1 171.3 L199.0 173.1 L198.8 174.9 L198.5 176.6 L198.3 178.5 L197.9 180.3 L197.6 182.1 L197.2 183.9 L196.7 185.8 L196.2 187.6 L195.7 189.5 L195.1 191.4 L194.5 193.3 L193.9 195.1 L193.2 197.0 L192.4 198.9 L191.6 200.8 L190.8 202.7 L190.0 204.7 L189.1 206.6 L188.1 208.5 L187.2 210.4 L186.1 212.3 L185.1 214.3 L184.0 216.2 L182.9 218.1 L181.7 220.1 L180.5 222.0 L179.2 223.9 L178.0 225.8 L176.6 227.8 L175.3 229.7 L173.9 231.6 L172.5 233.6 L171.0 235.5 L169.5 237.4 L168.0 239.3 L166.4 241.2 L164.8 243.1 L163.2 245.0 L161.5 246.9 L159.8 248.8 L158.0 250.6 L156.3 252.5 L154.5 254.4 L152.7 256.2 L150.8 258.1 L148.9 259.9 L147.0 261.7 L145.0 263.5 L143.1 265.3 L141.0 267.1 L139.0 268.9 L136.9 270.7 L134.9 272.4 L132.7 274.2 L130.6 275.9 L128.4 277.6 L126.2 279.3 L124.0 281.0 L121.8 282.7 L119.5 284.4 L117.3 286.0 L114.9 287.6 L112.6 289.2 L110.3 290.8 L107.9 292.4 L105.5 294.0 L103.1 295.5 L100.7 297.0 L98.2 298.5 L95.8 300.0 L93.3 301.5 L90.8 302.9 L88.3 304.3 L85.8 305.7 L83.3 307.1 L80.7 308.5 L78.1 309.8 L75.6 311.1 L73.0 312.4 L70.4 313.7 L67.8 314.9 L65.2 316.1 L62.5 317.3 L59.9 318.5 L57.3 319.7 L54.6 320.8 L51.9 321.9 L49.3 323.0 L46.6 324.0 L44.0 325.0 L41.3 326.0 L38.6 327.0 L35.9 328.0 L33.2 328.9 L30.6 329.8 L27.9 330.6 L25.2 331.5 L22.5 332.3 L19.8 333.1 L17.2 333.8 L14.5 334.6 L11.8 335.3 L9.1 335.9 L6.5 336.6 L3.8 337.2 L1.2 337.8 L-1.5 338.3 L-4.1 338.8 L-6.7 339.3 L-9.4 339.8 L-12.0 340.2 L-14.6 340.7 L-17.2 341.0 L-19.7 341.4 L-22.3 341.7 L-24.8 342.0 L-27.4 342.3 L-29.9 342.5 L-32.4 342.7 L-34.9 342.8 L-37.4 343.0 L-39.9 343.1 L-42.3 343.2 L-44.7 343.2 L-47.1 343.2 L-49.5 343.2 L-51.9 343.2 L-54.3 343.1 L-56.6 343.0 L-58.9 342.9 L-61.2 342.7 L-63.4 342.5 L-65.7 342.3 L-67.9 342.0 L-70.1 341.7 L-72.3 341.4 L-74.4 341.1 L-76.5 340.7 L-78.6 340.3 L-80.7 339.8 L-82.7 339.4 L-84.7 338.9 L-86.7 338.4 L-88.7 337.8 L-90.6 337.2 L-92.5 336.6 L-94.4 336.0 L-96.2 335.3 L-98.0 334.6 L-99.8 333.9 L-101.5 333.1 L-103.2 332.3 L-104.9 331.5 L-106.5 330.7 L-108.2 329.8 L-109.7 328.9 L-111.3 328.0 L-112.8 327.1 L-114.3 326.1 L-115.7 325.1 L-117.1 324.1 L-118.4 323.0 L-119.8 322.0 L-121.1 320.9 L-122.3 319.7 L-123.5 318.6 L-124.7 317.4 L-125.8 316.2 L-126.9 315.0 L-128.0 313.8 L-129.0 312.5 L-130.0 311.2 L-131.0 309.9 L-131.9 308.6 L-132.7 307.2 L-133.6 305.8 L-134.3 304.4 L-135.1 303.0Z"/>
<path d="M-31.3 250.9 L-31.6 250.4 L-31.8 249.8 L-32.0 249.3 L-32.2 248.7 L-32.4 248.2 L-32.6 247.6 L-32.8 247.0 L-32.9 246.5 L-33.1 245.9 L-33.2 245.3 L-33.3 244.7 L-33.4 244.1 L-33.5 243.5 L-33.5 242.9 L-33.6 242.2 L-33.6 241.6 L-33.6 241.0 L-33.6 240.3 L-33.6 239.7 L-33.6 239.1 L-33.5 238.4 L-33.4 237.8 L-33.4 237.1 L-33.3 236.4 L-33.2 235.8 L-33.0 235.1 L-32.9 234.4 L-32.7 233.7 L-32.6 233.1 L-32.4 232.4 L-32.2 231.7 L-32.0 231.0 L-31.7 230.3 L-31.5 229.6 L-31.2 228.9 L-30.9 228.2 L-30.6 227.5 L-30.3 226.8 L-30.0 226.1 L-29.7 225.4 L-29.3 224.7 L-29.0 224.0 L-28.6 223.3 L-28.2 222.6 L-27.8 221.9 L-27.3 221.2 L-26.9 220.5 L-26.5 219.8 L-26.0 219.0 L-25.5 218.3 L-25.0 217.6 L-24.5 216.9 L-24.0 216.2 L-23.5 215.5 L-22.9 214.8 L-22.4 214.1 L-21.8 213.4 L-21.2 212.7 L-20.6 212.0 L-20.0 211.3 L-19.4 210.6 L-18.8 209.9 L-18.1 209.2 L-17.5 208.6 L-16.8 207.9 L-16.1 207.2 L-15.4 206.5 L-14.7 205.8 L-14.0 205.2 L-13.3 204.5 L-12.6 203.9 L-11.8 203.2 L-11.1 202.5 L-10.3 201.9 L-9.5 201.3 L-8.8 200.6 L-8.0 200.0 L-7.2 199.4 L-6.4 198.7 L-5.5 198.1 L-4.7 197.5 L-3.9 196.9 L-3.0 196.3 L-2.2 195.7 L-1.3 195.1 L-0.5 194.5 L0.4 194.0 L1.3 193.4 L2.2 192.8 L3.1 192.3 L4.0 191.7 L4.9 191.2 L5.8 190.7 L6.7 190.1 L7.6 189.6 L8.6 189.1 L9.5 188.6 L10.4 188.1 L11.4 187.6 L12.3 187.1 L13.3 186.7 L14.2 186.2 L15.2 185.7 L16.2 185.3 L17.1 184.9 L18.1 184.4 L19.1 184.0 L20.0 183.6 L21.0 183.2 L22.0 182.8 L23.0 182.4 L24.0 182.1 L24.9 181.7 L25.9 181.4 L26.9 181.0 L27.9 180.7 L28.9 180.4 L29.9 180.0 L30.9 179.7 L31.8 179.4 L32.8 179.2 L33.8 178.9 L34.8 178.6 L35.8 178.4 L36.8 178.1 L37.7 177.9 L38.7 177.7 L39.7 177.5 L40.6 177.3 L41.6 177.1 L42.6 176.9 L43.5 176.7 L44.5 176.6 L45.4 176.4 L46.4 176.3 L47.3 176.2 L48.3 176.1 L49.2 176.0 L50.1 175.9 L51.1 175.8 L52.0 175.7 L52.9 175.7 L53.8 175.6 L54.7 175.6 L55.6 175.6 L56.5 175.6 L57.4 175.6 L58.3 175.6 L59.1 175.6 L60.0 175.6 L60.8 175.7 L61.7 175.7 L62.5 175.8 L63.3 175.9 L64.2 176.0 L65.0 176.1 L65.8 176.2 L66.6 176.3 L67.3 176.4 L68.1 176.6 L68.9 176.7 L69.6 176.9 L70.4 177.1 L71.1 177.3 L71.8 177.5 L72.6 177.7 L73.3 177.9 L73.9 178.1 L74.6 178.4 L75.3 178.6 L76.0 178.9 L76.6 179.1 L77.2 179.4 L77.9 179.7 L78.5 180.0 L79.1 180.3 L79.6 180.7 L80.2 181.0 L80.8 181.3 L81.3 181.7 L81.9 182.0 L82.4 182.4 L82.9 182.8 L83.4 183.2 L83.9 183.6 L84.3 184.0 L84.8 184.4 L85.2 184.8 L85.6 185.3 L86.1 185.7 L86.5 186.2 L86.8 186.6 L87.2 187.1 L87.6 187.6 L87.9 188.1 L88.2 188.6 L88.5 189.1 L88.8 189.6 L89.1 190.1 L89.4 190.6 L89.6 191.1 L89.9 191.7 L90.1 192.2 L90.3 192.8 L90.5 193.3 L90.7 193.9 L90.8 194.5 L91.0 195.1 L91.1 195.7 L91.2 196.3 L91.3 196.9 L91.4 197.5 L91.5 198.1 L91.5 198.7 L91.5 199.3 L91.6 199.9 L91.6 200.6 L91.6 201.2 L91.5 201.8 L91.5 202.5 L91.4 203.1 L91.4 203.8 L91.3 204.5 L91.2 205.1 L91.0 205.8 L90.9 206.5 L90.8 207.1 L90.6 207.8 L90.4 208.5 L90.2 209.2 L90.0 209.9 L89.8 210.6 L89.5 211.3 L89.3 212.0 L89.0 212.6 L88.7 213.3 L88.4 214.0 L88.1 214.8 L87.8 215.5 L87.4 216.2 L87.1 216.9 L86.7 217.6 L86.3 218.3 L85.9 219.0 L85.5 219.7 L85.1 220.4 L84.6 221.1 L84.2 221.8 L83.7 222.5 L83.2 223.2 L82.7 224.0 L82.2 224.7 L81.7 225.4 L81.2 226.1 L80.6 226.8 L80.0 227.5 L79.5 228.2 L78.9 228.9 L78.3 229.6 L77.7 230.3 L77.0 231.0 L76.4 231.6 L75.7 232.3 L75.1 233.0 L74.4 233.7 L73.7 234.4 L73.0 235.0 L72.3 235.7 L71.6 236.4 L70.9 237.0 L70.1 237.7 L69.4 238.4 L68.6 239.0 L67.9 239.7 L67.1 240.3 L66.3 240.9 L65.5 241.6 L64.7 242.2 L63.9 242.8 L63.1 243.4 L62.2 244.0 L61.4 244.6 L60.6 245.2 L59.7 245.8 L58.8 246.4 L58.0 247.0 L57.1 247.6 L56.2 248.1 L55.3 248.7 L54.4 249.2 L53.5 249.8 L52.6 250.3 L51.7 250.8 L50.8 251.4 L49.8 251.9 L48.9 252.4 L48.0 252.9 L47.0 253.4 L46.1 253.9 L45.1 254.3 L44.2 254.8 L43.2 255.3 L42.3 255.7 L41.3 256.1 L40.3 256.6 L39.4 257.0 L38.4 257.4 L37.4 257.8 L36.4 258.2 L35.5 258.6 L34.5 259.0 L33.5 259.3 L32.5 259.7 L31.5 260.1 L30.5 260.4 L29.6 260.7 L28.6 261.0 L27.6 261.3 L26.6 261.6 L25.6 261.9 L24.6 262.2 L23.6 262.5 L22.7 262.7 L21.7 263.0 L20.7 263.2 L19.7 263.4 L18.8 263.7 L17.8 263.9 L16.8 264.1 L15.9 264.2 L14.9 264.4 L13.9 264.6 L13.0 264.7 L12.0 264.9 L11.1 265.0 L10.1 265.1 L9.2 265.2 L8.3 265.3 L7.3 265.4 L6.4 265.5 L5.5 265.5 L4.6 265.6 L3.7 265.6 L2.8 265.6 L1.9 265.7 L1.0 265.7 L0.1 265.7 L-0.7 265.6 L-1.6 265.6 L-2.5 265.6 L-3.3 265.5 L-4.1 265.5 L-5.0 265.4 L-5.8 265.3 L-6.6 265.2 L-7.4 265.1 L-8.2 265.0 L-9.0 264.9 L-9.8 264.7 L-10.6 264.6 L-11.3 264.4 L-12.1 264.2 L-12.8 264.1 L-13.5 263.9 L-14.3 263.7 L-15.0 263.5 L-15.7 263.2 L-16.3 263.0 L-17.0 262.8 L-17.7 262.5 L-18.3 262.2 L-19.0 262.0 L-19.6 261.7 L-20.2 261.4 L-20.8 261.1 L-21.4 260.7 L-22.0 260.4 L-22.6 260.1 L-23.1 259.7 L-23.6 259.4 L-24.2 259.0 L-24.7 258.6 L-25.2 258.2 L-25.7 257.9 L-26.1 257.4 L-26.6 257.0 L-27.1 256.6 L-27.5 256.2 L-27.9 255.7 L-28.3 255.3 L-28.7 254.8 L-29.1 254.4 L-29.4 253.9 L-29.8 253.4 L-30.1 252.9 L-30.4 252.4 L-30.7 251.9 L-31.0 251.4 L-31.3 250.9Z"/>
</g>
<g stroke="#222" stroke-width="1" fill="none">
<path d="M47.5 27.2 V298.2 H319.5"/>
<path d="M47.5 27.2 H319.5 V298.2"/>
<path d="M40.0 27.2 H47.5"/>
<path d="M47.5 298.2 V304.7"/>
<path d="M40.0 81.4 H47.5"/>
<path d="M101.9 298.2 V304.7"/>
<path d="M40.0 135.6 H47.5"/>
<path d="M156.3 298.2 V304.7"/>
<path d="M40.0 189.8 H47.5"/>
<path d="M210.7 298.2 V304.7"/>
<path d="M40.0 244.0 H47.5"/>
<path d="M265.1 298.2 V304.7"/>
<path d="M40.0 298.2 H47.5"/>
<path d="M319.5 298.2 V304.7"/>
</g>
<text x="38.3" y="26.4" font-size="8" text-anchor="end" fill="#222" textLength="6.6" lengthAdjust="spacingAndGlyphs">40</text>
<text x="38.3" y="80.6" font-size="8" text-anchor="end" fill="#222" textLength="6.6" lengthAdjust="spacingAndGlyphs">33</text>
<text x="38.3" y="134.8" font-size="8" text-anchor="end" fill="#222" textLength="6.6" lengthAdjust="spacingAndGlyphs">26</text>
<text x="38.3" y="189.0" font-size="8" text-anchor="end" fill="#222" textLength="6.6" lengthAdjust="spacingAndGlyphs">19</text>
<text x="38.3" y="243.2" font-size="8" text-anchor="end" fill="#222" textLength="6.6" lengthAdjust="spacingAndGlyphs">12</text>
<text x="38.3" y="297.4" font-size="8" text-anchor="end" fill="#222" textLength="3.3" lengthAdjust="spacingAndGlyphs">5</text>
<text x="47.5" y="313.7" font-size="8" text-anchor="middle" fill="#222" textLength="3.3" lengthAdjust="spacingAndGlyphs">5</text>
<text x="101.9" y="313.7" font-size="8" text-anchor="middle" fill="#222" textLength="3.3" lengthAdjust="spacingAndGlyphs">7</text>
<text x="156.3" y="313.7" font-size="8" text-anchor="middle" fill="#222" textLength="3.3" lengthAdjust="spacingAndGlyphs">9</text>
<text x="210.7" y="313.7" font-size="8" text-anchor="middle" fill="#222" textLength="6.6" lengthAdjust="spacingAndGlyphs">11</text>
<text x="265.1" y="313.7" font-size="8" text-anchor="middle" fill="#222" textLength="6.6" lengthAdjust="spacingAndGlyphs">13</text>
<text x="319.5" y="313.7" font-size="8" text-anchor="middle" fill="#222" textLength="6.6" lengthAdjust="spacingAndGlyphs">15</text>
<rect x="84.5" y="203.1" width="9" height="6.6" fill="#fff" stroke="#333" stroke-width="0.9"/>
<text x="89.0" y="208.5" font-size="6" text-anchor="middle" fill="#333">34</text>
<rect x="193.7" y="158.7" width="9" height="6.6" fill="#fff" stroke="#333" stroke-width="0.9"/>
<text x="198.2" y="164.1" font-size="6" text-anchor="middle" fill="#333">32</text>
<rect x="250.1" y="105.9" width="9" height="6.6" fill="#fff" stroke="#333" stroke-width="0.9"/>
<text x="254.6" y="111.3" font-size="6" text-anchor="middle" fill="#333">30</text>
<rect x="300.8" y="153.7" width="9" height="6.6" fill="#fff" stroke="#333" stroke-width="0.9"/>
<text x="305.3" y="159.1" font-size="6" text-anchor="middle" fill="#333">28</text>
<rect x="283.8" y="252.2" width="9" height="6.6" fill="#fff" stroke="#333" stroke-width="0.9"/>
<text x="288.3" y="257.6" font-size="6" text-anchor="middle" fill="#333">26</text>
<rect x="298.7" y="273.7" width="9" height="6.6" fill="#fff" stroke="#333" stroke-width="0.9"/>
<text x="303.2" y="279.1" font-size="6" text-anchor="middle" fill="#333">24</text>
<circle cx="47.2" cy="182.1" r="2.35" fill="#c80000" stroke="#500000" stroke-width="0.7"/>
<text x="53.7" y="183.7" font-size="6" text-anchor="middle" fill="#301800" fill-opacity="0.55">3</text>
<circle cx="47.2" cy="220.8" r="2.35" fill="#c80000" stroke="#500000" stroke-width="0.7"/>
<text x="53.7" y="222.4" font-size="6" text-anchor="middle" fill="#301800" fill-opacity="0.55">3</text>
<circle cx="47.2" cy="259.5" r="2.35" fill="#c80000" stroke="#500000" stroke-width="0.7"/>
<text x="53.7" y="261.1" font-size="6" text-anchor="middle" fill="#301800" fill-opacity="0.55">3</text>
<circle cx="47.2" cy="298.2" r="2.35" fill="#c80000" stroke="#500000" stroke-width="0.7"/>
<text x="53.7" y="299.8" font-size="6" text-anchor="middle" fill="#301800" fill-opacity="0.55">3</text>
<circle cx="183.2" cy="104.6" r="2.35" fill="#c80000" stroke="#500000" stroke-width="0.7"/>
<text x="176.9" y="106.7" font-size="6" text-anchor="middle" fill="#301800" fill-opacity="0.55">3</text>
<circle cx="183.2" cy="143.3" r="2.35" fill="#c80000" stroke="#500000" stroke-width="0.7"/>
<text x="176.9" y="145.4" font-size="6" text-anchor="middle" fill="#301800" fill-opacity="0.55">3</text>
<circle cx="183.2" cy="182.1" r="2.35" fill="#c80000" stroke="#500000" stroke-width="0.7"/>
<text x="176.9" y="184.2" font-size="6" text-anchor="middle" fill="#301800" fill-opacity="0.55">4</text>
<circle cx="183.2" cy="220.8" r="2.35" fill="#c80000" stroke="#500000" stroke-width="0.7"/>
<text x="176.9" y="222.9" font-size="6" text-anchor="middle" fill="#301800" fill-opacity="0.55">3</text>
<circle cx="319.2" cy="27.2" r="2.35" fill="#c80000" stroke="#500000" stroke-width="0.7"/>
<circle cx="319.2" cy="65.9" r="2.35" fill="#c80000" stroke="#500000" stroke-width="0.7"/>
<text x="312.9" y="68.0" font-size="6" text-anchor="middle" fill="#301800" fill-opacity="0.55">3</text>
<circle cx="319.2" cy="104.6" r="2.35" fill="#c80000" stroke="#500000" stroke-width="0.7"/>
<text x="312.9" y="106.7" font-size="6" text-anchor="middle" fill="#301800" fill-opacity="0.55">3</text>
<circle cx="319.2" cy="143.3" r="2.35" fill="#c80000" stroke="#500000" stroke-width="0.7"/>
<text x="312.9" y="145.4" font-size="6" text-anchor="middle" fill="#301800" fill-opacity="0.55">3</text>
<text x="182.7" y="21.5" font-size="15" text-anchor="middle">28D Compressive Strength (MPa)</text>
<text transform="translate(12.2 160.9) rotate(-90)" font-size="17.8" text-anchor="middle">B: RHA (%)</text>
<text x="182.6" y="340.8" font-size="17.4" text-anchor="middle">A: EMS (%)</text>
<text x="196" y="367.1" font-size="17.8" text-anchor="middle">(a)</text>
<g stroke="#111" stroke-width="0.9" fill="none" stroke-linecap="round">
<path d="M414.6 174.4 L557.7 101.3"/>
<path d="M557.7 101.3 L670.5 200.5"/>
<path d="M412.9 161.7 L557.8 88.7"/>
<path d="M557.8 88.7 L672.2 187.9"/>
<path d="M411.2 149.0 L558.0 76.1"/>
<path d="M558.0 76.1 L673.9 175.2"/>
<path d="M409.5 136.3 L558.2 63.5"/>
<path d="M558.2 63.5 L675.6 162.5"/>
<path d="M407.8 123.6 L558.4 51.0"/>
<path d="M558.4 51.0 L677.3 149.9"/>
<path d="M406.1 110.9 L558.5 38.4"/>
<path d="M558.5 38.4 L679.0 137.2"/>
<path d="M404.5 98.2 L558.7 25.8"/>
<path d="M558.7 25.8 L680.7 124.5"/>
<path d="M402.8 85.5 L558.9 13.3"/>
<path d="M558.9 13.3 L682.4 111.9"/>
<path d="M401.1 72.8 L559.1 0.7"/>
<path d="M559.1 0.7 L684.1 99.2"/>
<path d="M414.6 174.4 L401.1 72.8"/>
<path d="M557.7 101.3 L559.1 0.7"/>
<path d="M443.2 159.8 L432.7 58.4"/>
<path d="M580.2 121.1 L584.1 20.4"/>
<path d="M471.8 145.1 L464.3 44.0"/>
<path d="M602.8 141.0 L609.1 40.1"/>
<path d="M500.4 130.5 L495.9 29.5"/>
<path d="M625.4 160.8 L634.1 59.8"/>
<path d="M529.1 115.9 L527.5 15.1"/>
<path d="M648.0 180.7 L659.1 79.5"/>
<path d="M557.7 101.3 L559.1 0.7"/>
<path d="M670.5 200.5 L684.1 99.2"/>
<path d="M414.6 174.4 L418.5 204.1"/>
<path d="M670.5 200.5 L666.5 230.1"/>
</g>
<path d="M522.0 319.5 L666.5 230.1 L557.3 131.0 L418.5 204.1Z" fill="#7a7a7a" stroke="#111" stroke-width="1"/>
<path d="M650.9 217.2 L651.0 218.9 L651.0 220.6 L651.0 222.3 L651.0 224.1 L651.0 225.9 L651.0 227.6 L651.0 229.4 L650.9 231.2 L650.8 233.0 L650.7 234.9 L650.6 236.7 L650.4 238.6" fill="none" stroke="#0000ff" stroke-width="1.7"/>
<path d="M552.3 133.7 L553.6 133.7 L554.9 133.8 L556.2 133.9 L557.4 133.9 L558.7 134.0 L559.9 134.1" fill="none" stroke="#0074ff" stroke-width="1.7"/>
<path d="M631.9 199.4 L632.1 200.7 L632.4 202.1 L632.7 203.5 L632.9 204.9 L633.1 206.3 L633.4 207.7 L633.6 209.1 L633.7 210.6 L633.9 212.0 L634.1 213.5 L634.2 215.0 L634.3 216.5 L634.4 218.0 L634.5 219.5 L634.6 221.0 L634.7 222.5 L634.7 224.1 L634.7 225.7 L634.7 227.2 L634.7 228.8 L634.7 230.4 L634.7 232.0 L634.6 233.6 L634.5 235.3 L634.5 236.9 L634.4 238.5 L634.2 240.2 L634.1 241.9 L634.0 243.6 L633.8 245.2 L633.6 246.9 L633.4 248.7 L633.2 250.4" fill="none" stroke="#0074ff" stroke-width="1.7"/>
<path d="M422.8 206.7 L424.1 205.5 L425.4 204.4 L426.7 203.3 L428.1 202.1 L429.4 201.0 L430.7 200.0 L432.1 198.9 L433.4 197.8 L434.7 196.8 L436.1 195.7 L437.4 194.7 L438.8 193.7" fill="none" stroke="#00ffb2" stroke-width="1.7"/>
<path d="M505.7 158.4 L506.9 158.0 L508.2 157.6 L509.5 157.3 L510.8 157.0 L512.0 156.6 L513.3 156.3 L514.6 156.0 L515.8 155.7 L517.1 155.5 L518.3 155.2 L519.6 154.9 L520.8 154.7 L522.1 154.5 L523.3 154.3 L524.5 154.1 L525.7 153.9 L527.0 153.7 L528.2 153.6 L529.4 153.5 L530.6 153.3 L531.8 153.2 L533.0 153.1 L534.2 153.0 L535.3 153.0 L536.5 152.9 L537.7 152.8 L538.8 152.8 L540.0 152.8 L541.2 152.8 L542.3 152.8 L543.4 152.8 L544.6 152.8 L545.7 152.9 L546.8 152.9 L547.9 153.0 L549.0 153.1 L550.1 153.2 L551.2 153.3 L552.3 153.4 L553.4 153.6 L554.5 153.7 L555.6 153.9 L556.6 154.1 L557.7 154.3 L558.7 154.5 L559.8 154.7 L560.8 154.9 L561.8 155.2 L562.8 155.4 L563.8 155.7 L564.8 156.0 L565.8 156.3 L566.8 156.6 L567.8 156.9 L568.8 157.2 L569.7 157.6 L570.7 158.0 L571.6 158.3 L572.6 158.7 L573.5 159.1 L574.4 159.5 L575.3 160.0 L576.2 160.4 L577.1 160.9 L578.0 161.3 L578.9 161.8 L579.8 162.3 L580.6 162.8 L581.5 163.3 L582.3 163.9 L583.1 164.4 L584.0 165.0 L584.8 165.5 L585.6 166.1 L586.4 166.7 L587.2 167.3 L587.9 168.0 L588.7 168.6 L589.5 169.2 L590.2 169.9 L591.0 170.6 L591.7 171.3 L592.4 172.0 L593.1 172.7 L593.8 173.4 L594.5 174.1 L595.2 174.9 L595.8 175.7 L596.5 176.4 L597.1 177.2 L597.8 178.0 L598.4 178.8 L599.0 179.6 L599.6 180.5 L600.2 181.3 L600.8 182.2 L601.3 183.1 L601.9 183.9 L602.4 184.8 L603.0 185.8 L603.5 186.7 L604.0 187.6 L604.5 188.6 L605.0 189.5 L605.5 190.5 L605.9 191.5 L606.4 192.5 L606.8 193.5 L607.3 194.5 L607.7 195.5 L608.1 196.5 L608.5 197.6 L608.9 198.7 L609.2 199.7 L609.6 200.8 L609.9 201.9 L610.3 203.0 L610.6 204.1 L610.9 205.3 L611.2 206.4 L611.5 207.6 L611.7 208.7 L612.0 209.9 L612.2 211.1 L612.4 212.3 L612.7 213.5 L612.9 214.7 L613.1 215.9 L613.2 217.2 L613.4 218.4 L613.5 219.7 L613.7 220.9 L613.8 222.2 L613.9 223.5 L614.0 224.8 L614.1 226.1 L614.2 227.4 L614.2 228.8 L614.2 230.1 L614.3 231.4 L614.3 232.8 L614.3 234.2 L614.3 235.5 L614.2 236.9 L614.2 238.3 L614.1 239.7 L614.1 241.1 L614.0 242.6 L613.9 244.0 L613.8 245.4 L613.6 246.9 L613.5 248.3 L613.3 249.8 L613.1 251.3 L613.0 252.8 L612.8 254.2 L612.5 255.7 L612.3 257.2 L612.1 258.8 L611.8 260.3 L611.5 261.8 L611.2 263.3" fill="none" stroke="#00ffb2" stroke-width="1.7"/>
<path d="M433.6 220.1 L434.7 219.1 L435.8 218.2 L436.9 217.2 L438.0 216.3 L439.1 215.4 L440.2 214.5 L441.3 213.6 L442.4 212.7 L443.5 211.8 L444.6 210.9 L445.7 210.1 L446.8 209.2 L447.9 208.4 L449.1 207.6 L450.2 206.7 L451.3 205.9 L452.4 205.1 L453.5 204.3 L454.7 203.6 L455.8 202.8 L456.9 202.0 L458.0 201.3 L459.1 200.5 L460.3 199.8 L461.4 199.1 L462.5 198.4 L463.6 197.7 L464.8 197.0 L465.9 196.3 L467.0 195.6 L468.1 195.0 L469.3 194.3 L470.4 193.7 L471.5 193.0 L472.6 192.4 L473.8 191.8 L474.9 191.2 L476.0 190.6 L477.1 190.1 L478.2 189.5 L479.4 188.9 L480.5 188.4 L481.6 187.9 L482.7 187.3 L483.8 186.8 L484.9 186.3 L486.0 185.8 L487.1 185.4 L488.3 184.9 L489.4 184.4 L490.5 184.0 L491.6 183.6 L492.7 183.1 L493.8 182.7 L494.8 182.3 L495.9 181.9 L497.0 181.6 L498.1 181.2 L499.2 180.8 L500.3 180.5 L501.4 180.2 L502.4 179.8 L503.5 179.5 L504.6 179.2 L505.6 178.9 L506.7 178.7 L507.8 178.4 L508.8 178.1 L509.9 177.9 L510.9 177.7 L512.0 177.4 L513.0 177.2 L514.0 177.0 L515.1 176.8 L516.1 176.7 L517.1 176.5 L518.2 176.3 L519.2 176.2 L520.2 176.1 L521.2 175.9 L522.2 175.8 L523.2 175.7 L524.2 175.7 L525.2 175.6 L526.2 175.5 L527.2 175.5 L528.1 175.4 L529.1 175.4 L530.1 175.4 L531.0 175.4 L532.0 175.4 L533.0 175.4 L533.9 175.4 L534.8 175.5 L535.8 175.5 L536.7 175.6 L537.6 175.6 L538.6 175.7 L539.5 175.8 L540.4 175.9 L541.3 176.0 L542.2 176.2 L543.1 176.3 L544.0 176.5 L544.8 176.6 L545.7 176.8 L546.6 177.0 L547.4 177.2 L548.3 177.4 L549.1 177.6 L550.0 177.8 L550.8 178.1 L551.6 178.3 L552.4 178.6 L553.3 178.9 L554.1 179.2 L554.9 179.5 L555.7 179.8 L556.4 180.1 L557.2 180.4 L558.0 180.8 L558.8 181.1 L559.5 181.5 L560.3 181.9 L561.0 182.3 L561.7 182.7 L562.5 183.1 L563.2 183.5 L563.9 183.9 L564.6 184.4 L565.3 184.8 L566.0 185.3 L566.7 185.8 L567.3 186.2 L568.0 186.7 L568.6 187.2 L569.3 187.8 L569.9 188.3 L570.6 188.8 L571.2 189.4 L571.8 190.0 L572.4 190.5 L573.0 191.1 L573.6 191.7 L574.2 192.3 L574.7 192.9 L575.3 193.5 L575.8 194.2 L576.4 194.8 L576.9 195.5 L577.4 196.1 L578.0 196.8 L578.5 197.5 L579.0 198.2 L579.4 198.9 L579.9 199.6 L580.4 200.4 L580.9 201.1 L581.3 201.9 L581.7 202.6 L582.2 203.4 L582.6 204.2 L583.0 204.9 L583.4 205.7 L583.8 206.6 L584.2 207.4 L584.5 208.2 L584.9 209.0 L585.2 209.9 L585.6 210.7 L585.9 211.6 L586.2 212.5 L586.5 213.4 L586.8 214.3 L587.1 215.2 L587.4 216.1 L587.7 217.0 L587.9 217.9 L588.2 218.9 L588.4 219.8 L588.6 220.8 L588.8 221.7 L589.0 222.7 L589.2 223.7 L589.4 224.7 L589.6 225.7 L589.7 226.7 L589.9 227.7 L590.0 228.8 L590.1 229.8 L590.2 230.8 L590.3 231.9 L590.4 233.0 L590.5 234.0 L590.6 235.1 L590.6 236.2 L590.7 237.3 L590.7 238.4 L590.7 239.5 L590.7 240.6 L590.7 241.7 L590.7 242.9 L590.7 244.0 L590.7 245.1 L590.6 246.3 L590.6 247.5 L590.5 248.6 L590.4 249.8 L590.3 251.0 L590.2 252.2 L590.1 253.4 L589.9 254.6 L589.8 255.8 L589.6 257.0 L589.5 258.2 L589.3 259.4 L589.1 260.6 L588.9 261.9 L588.7 263.1 L588.4 264.4 L588.2 265.6 L587.9 266.9 L587.7 268.2 L587.4 269.4 L587.1 270.7 L586.8 272.0 L586.5 273.3 L586.1 274.6 L585.8 275.9 L585.5 277.2 L585.1 278.5 L584.7 279.8" fill="none" stroke="#1cff00" stroke-width="1.7"/>
<path d="M448.9 237.8 L449.7 237.1 L450.4 236.4 L451.2 235.7 L452.0 235.1 L452.8 234.4 L453.6 233.8 L454.4 233.1 L455.2 232.5 L456.0 231.9 L456.8 231.3 L457.6 230.6 L458.4 230.0 L459.2 229.4 L460.0 228.8 L460.8 228.3 L461.6 227.7 L462.4 227.1 L463.2 226.6 L464.0 226.0 L464.8 225.4 L465.6 224.9 L466.4 224.4 L467.3 223.8 L468.1 223.3 L468.9 222.8 L469.7 222.3 L470.5 221.8 L471.3 221.3 L472.1 220.8 L472.9 220.4 L473.7 219.9 L474.6 219.4 L475.4 219.0 L476.2 218.5 L477.0 218.1 L477.8 217.7 L478.6 217.3 L479.4 216.9 L480.2 216.4 L481.0 216.1 L481.9 215.7 L482.7 215.3 L483.5 214.9 L484.3 214.5 L485.1 214.2 L485.9 213.8 L486.7 213.5 L487.5 213.2 L488.3 212.8 L489.1 212.5 L489.9 212.2 L490.7 211.9 L491.5 211.6 L492.3 211.3 L493.0 211.1 L493.8 210.8 L494.6 210.5 L495.4 210.3 L496.2 210.1 L497.0 209.8 L497.7 209.6 L498.5 209.4 L499.3 209.2 L500.1 209.0 L500.8 208.8 L501.6 208.6 L502.4 208.4 L503.1 208.3 L503.9 208.1 L504.6 207.9 L505.4 207.8 L506.1 207.7 L506.9 207.5 L507.6 207.4 L508.4 207.3 L509.1 207.2 L509.9 207.1 L510.6 207.1 L511.3 207.0 L512.0 206.9 L512.8 206.9 L513.5 206.8 L514.2 206.8 L514.9 206.7 L515.6 206.7 L516.3 206.7 L517.0 206.7 L517.7 206.7 L518.4 206.7 L519.1 206.7 L519.8 206.8 L520.5 206.8 L521.1 206.8 L521.8 206.9 L522.5 207.0 L523.1 207.0 L523.8 207.1 L524.5 207.2 L525.1 207.3 L525.8 207.4 L526.4 207.5 L527.0 207.6 L527.7 207.8 L528.3 207.9 L528.9 208.1 L529.5 208.2 L530.1 208.4 L530.8 208.6 L531.4 208.7 L532.0 208.9 L532.5 209.1 L533.1 209.3 L533.7 209.5 L534.3 209.8 L534.9 210.0 L535.4 210.2 L536.0 210.5 L536.5 210.7 L537.1 211.0 L537.6 211.3 L538.2 211.6 L538.7 211.9 L539.2 212.1 L539.8 212.5 L540.3 212.8 L540.8 213.1 L541.3 213.4 L541.8 213.8 L542.3 214.1 L542.8 214.5 L543.2 214.8 L543.7 215.2 L544.2 215.6 L544.6 216.0 L545.1 216.3 L545.5 216.8 L546.0 217.2 L546.4 217.6 L546.8 218.0 L547.3 218.4 L547.7 218.9 L548.1 219.3 L548.5 219.8 L548.9 220.2 L549.3 220.7 L549.6 221.2 L550.0 221.7 L550.4 222.2 L550.7 222.7 L551.1 223.2 L551.4 223.7 L551.8 224.2 L552.1 224.8 L552.4 225.3 L552.8 225.9 L553.1 226.4 L553.4 227.0 L553.7 227.5 L554.0 228.1 L554.2 228.7 L554.5 229.3 L554.8 229.9 L555.0 230.5 L555.3 231.1 L555.5 231.7 L555.8 232.3 L556.0 233.0 L556.2 233.6 L556.4 234.2 L556.6 234.9 L556.8 235.5 L557.0 236.2 L557.2 236.9 L557.4 237.6 L557.5 238.2 L557.7 238.9 L557.8 239.6 L558.0 240.3 L558.1 241.0 L558.2 241.7 L558.3 242.5 L558.5 243.2 L558.6 243.9 L558.6 244.7 L558.7 245.4 L558.8 246.2 L558.9 246.9 L558.9 247.7 L559.0 248.4 L559.0 249.2 L559.1 250.0 L559.1 250.8 L559.1 251.6 L559.1 252.3 L559.1 253.1 L559.1 254.0 L559.1 254.8 L559.1 255.6 L559.0 256.4 L559.0 257.2 L558.9 258.0 L558.9 258.9 L558.8 259.7 L558.7 260.6 L558.6 261.4 L558.5 262.2 L558.4 263.1 L558.3 264.0 L558.2 264.8 L558.1 265.7 L557.9 266.6 L557.8 267.4 L557.6 268.3 L557.5 269.2 L557.3 270.1 L557.1 271.0 L556.9 271.9 L556.7 272.8 L556.5 273.7 L556.3 274.6 L556.1 275.5 L555.9 276.4 L555.6 277.3 L555.4 278.2 L555.1 279.1 L554.9 280.1 L554.6 281.0 L554.3 281.9 L554.0 282.8 L553.7 283.8 L553.4 284.7 L553.1 285.6 L552.7 286.6 L552.4 287.5 L552.1 288.5 L551.7 289.4 L551.3 290.3 L551.0 291.3 L550.6 292.2 L550.2 293.2 L549.8 294.1 L549.4 295.1 L549.0 296.0 L548.6 297.0 L548.2 298.0 L547.7 298.9 L547.3 299.9 L546.8 300.8 L546.4 301.8 L545.9 302.7 L545.4 303.7 L544.9 304.7 L544.4 305.6" fill="none" stroke="#ecff00" stroke-width="1.7"/>
<path d="M418.5 204.1 L522.0 319.5 L666.5 230.1" fill="none" stroke="#111" stroke-width="1"/>
<circle cx="418.5" cy="204.1" r="1.2" fill="#000"/>
<circle cx="439.2" cy="227.2" r="1.2" fill="#000"/>
<circle cx="550.9" cy="301.7" r="1.2" fill="#000"/>
<circle cx="459.9" cy="250.3" r="1.2" fill="#000"/>
<circle cx="579.8" cy="283.8" r="1.2" fill="#000"/>
<circle cx="480.6" cy="273.4" r="1.2" fill="#000"/>
<circle cx="608.7" cy="265.9" r="1.2" fill="#000"/>
<circle cx="501.3" cy="296.5" r="1.2" fill="#000"/>
<circle cx="637.6" cy="248.0" r="1.2" fill="#000"/>
<circle cx="522.0" cy="319.5" r="1.2" fill="#000"/>
<circle cx="666.5" cy="230.1" r="1.2" fill="#000"/>
<circle cx="414.6" cy="174.4" r="1.1" fill="#000"/>
<circle cx="412.9" cy="161.7" r="1.1" fill="#000"/>
<circle cx="411.2" cy="149.0" r="1.1" fill="#000"/>
<circle cx="409.5" cy="136.3" r="1.1" fill="#000"/>
<circle cx="407.8" cy="123.6" r="1.1" fill="#000"/>
<circle cx="406.1" cy="110.9" r="1.1" fill="#000"/>
<circle cx="404.5" cy="98.2" r="1.1" fill="#000"/>
<circle cx="402.8" cy="85.5" r="1.1" fill="#000"/>
<circle cx="401.1" cy="72.8" r="1.1" fill="#000"/>
<circle cx="558.1" cy="67.3" r="2.75" fill="#ffcccc" stroke="#906868" stroke-width="0.6"/>
<circle cx="573.6" cy="73.5" r="2.75" fill="#ffcccc" stroke="#906868" stroke-width="0.6"/>
<circle cx="589.7" cy="81.7" r="2.75" fill="#ffcccc" stroke="#906868" stroke-width="0.6"/>
<circle cx="606.1" cy="95.4" r="2.75" fill="#ffcccc" stroke="#906868" stroke-width="0.6"/>
<path class="c" color="#0068ff" d="M557.4 68.9L560.8 68.6L558.1 67.9L554.7 68.2Z"/>
<path class="c" color="#007fff" d="M553.9 69.2L557.4 68.9L554.7 68.2L551.3 68.6Z"/>
<path class="c" color="#0081ff" d="M560.1 69.7L563.5 69.4L560.8 68.6L557.4 68.9Z"/>
<path class="c" color="#0098ff" d="M556.6 70.0L560.1 69.7L557.4 68.9L553.9 69.2Z"/>
<path class="m" d="M556.6 70.0L563.5 69.4L558.1 67.9L551.3 68.6Z"/>
<path class="c" color="#0094ff" d="M550.5 69.6L553.9 69.2L551.3 68.6L547.8 69.0Z"/>
<path class="c" color="#00a9ff" d="M547 70.0L550.5 69.6L547.8 69.0L544.3 69.5Z"/>
<path class="c" color="#00aeff" d="M553.2 70.3L556.6 70.0L553.9 69.2L550.5 69.6Z"/>
<path class="c" color="#00c4ff" d="M549.7 70.7L553.2 70.3L550.5 69.6L547 70.0Z"/>
<path class="m" d="M549.7 70.7L556.6 70.0L551.3 68.6L544.3 69.5Z"/>
<path class="c" color="#00bdff" d="M543.5 70.5L547 70.0L544.3 69.5L540.8 70.0Z"/>
<path class="c" color="#00d0ff" d="M540 71.1L543.5 70.5L540.8 70.0L537.3 70.6Z"/>
<path class="c" color="#00d8ff" d="M546.2 71.2L549.7 70.7L547 70.0L543.5 70.5Z"/>
<path class="c" color="#00ebff" d="M542.6 71.7L546.2 71.2L543.5 70.5L540 71.1Z"/>
<path class="m" d="M542.6 71.7L549.7 70.7L544.3 69.5L537.3 70.6Z"/>
<path class="c" color="#00e2ff" d="M536.4 71.7L540 71.1L537.3 70.6L533.8 71.3Z"/>
<path class="c" color="#00f3ff" d="M532.8 72.4L536.4 71.7L533.8 71.3L530.2 72.0Z"/>
<path class="c" color="#00feff" d="M539.1 72.3L542.6 71.7L540 71.1L536.4 71.7Z"/>
<path class="c" color="#00ffee" d="M535.5 73.0L539.1 72.3L536.4 71.7L532.8 72.4Z"/>
<path class="m" d="M535.5 73.0L542.6 71.7L537.3 70.6L530.2 72.0Z"/>
<path class="c" color="#00fffb" d="M529.3 73.2L532.8 72.4L530.2 72.0L526.6 72.8Z"/>
<path class="c" color="#00ffec" d="M525.7 74.0L529.3 73.2L526.6 72.8L523 73.6Z"/>
<path class="c" color="#00ffde" d="M531.9 73.7L535.5 73.0L532.8 72.4L529.3 73.2Z"/>
<path class="c" color="#00ffce" d="M528.3 74.5L531.9 73.7L529.3 73.2L525.7 74.0Z"/>
<path class="m" d="M528.3 74.5L535.5 73.0L530.2 72.0L523 73.6Z"/>
<path class="c" color="#00ffdd" d="M522 74.9L525.7 74.0L523 73.6L519.4 74.5Z"/>
<path class="c" color="#00ffd0" d="M518.4 75.8L522 74.9L519.4 74.5L515.8 75.5Z"/>
<path class="c" color="#00ffbf" d="M524.6 75.3L528.3 74.5L525.7 74.0L522 74.9Z"/>
<path class="c" color="#00ffb1" d="M521 76.3L524.6 75.3L522 74.9L518.4 75.8Z"/>
<path class="m" d="M521 76.3L528.3 74.5L523 73.6L515.8 75.5Z"/>
<path class="c" color="#00ffc4" d="M514.7 76.8L518.4 75.8L515.8 75.5L512.1 76.5Z"/>
<path class="c" color="#00ffb8" d="M511 77.9L514.7 76.8L512.1 76.5L508.5 77.6Z"/>
<path class="c" color="#00ffa4" d="M517.3 77.2L521 76.3L518.4 75.8L514.7 76.8Z"/>
<path class="c" color="#00ff98" d="M513.6 78.3L517.3 77.2L514.7 76.8L511 77.9Z"/>
<path class="m" d="M513.6 78.3L521 76.3L515.8 75.5L508.5 77.6Z"/>
<path class="c" color="#00ffae" d="M507.3 79.0L511 77.9L508.5 77.6L504.8 78.8Z"/>
<path class="c" color="#00ffa4" d="M503.6 80.2L507.3 79.0L504.8 78.8L501.1 80.0Z"/>
<path class="c" color="#00ff8d" d="M509.9 79.4L513.6 78.3L511 77.9L507.3 79.0Z"/>
<path class="c" color="#00ff83" d="M506.2 80.5L509.9 79.4L507.3 79.0L503.6 80.2Z"/>
<path class="m" d="M506.2 80.5L513.6 78.3L508.5 77.6L501.1 80.0Z"/>
<path class="c" color="#00ff9b" d="M499.9 81.5L503.6 80.2L501.1 80.0L497.3 81.3Z"/>
<path class="c" color="#00ff94" d="M496.1 82.8L499.9 81.5L497.3 81.3L493.6 82.7Z"/>
<path class="c" color="#00ff79" d="M502.4 81.8L506.2 80.5L503.6 80.2L499.9 81.5Z"/>
<path class="c" color="#00ff71" d="M498.7 83.1L502.4 81.8L499.9 81.5L496.1 82.8Z"/>
<path class="m" d="M498.7 83.1L506.2 80.5L501.1 80.0L493.6 82.7Z"/>
<path class="c" color="#00ff8d" d="M492.4 84.2L496.1 82.8L493.6 82.7L489.8 84.1Z"/>
<path class="c" color="#00ff87" d="M488.6 85.7L492.4 84.2L489.8 84.1L486.1 85.6Z"/>
<path class="c" color="#00ff6a" d="M494.9 84.4L498.7 83.1L496.1 82.8L492.4 84.2Z"/>
<path class="c" color="#00ff63" d="M491.1 85.9L494.9 84.4L492.4 84.2L488.6 85.7Z"/>
<path class="m" d="M491.1 85.9L498.7 83.1L493.6 82.7L486.1 85.6Z"/>
<path class="c" color="#00ff82" d="M484.8 87.2L488.6 85.7L486.1 85.6L482.3 87.1Z"/>
<path class="c" color="#00ff7e" d="M481 88.8L484.8 87.2L482.3 87.1L478.5 88.7Z"/>
<path class="c" color="#00ff5d" d="M487.3 87.4L491.1 85.9L488.6 85.7L484.8 87.2Z"/>
<path class="c" color="#00ff59" d="M483.5 88.9L487.3 87.4L484.8 87.2L481 88.8Z"/>
<path class="m" d="M483.5 88.9L491.1 85.9L486.1 85.6L478.5 88.7Z"/>
<path class="c" color="#00ff7b" d="M477.1 90.4L481 88.8L478.5 88.7L474.7 90.4Z"/>
<path class="c" color="#00ff78" d="M473.3 92.2L477.1 90.4L474.7 90.4L470.9 92.2Z"/>
<path class="c" color="#00ff55" d="M479.6 90.5L483.5 88.9L481 88.8L477.1 90.4Z"/>
<path class="c" color="#00ff52" d="M475.8 92.2L479.6 90.5L477.1 90.4L473.3 92.2Z"/>
<path class="m" d="M475.8 92.2L483.5 88.9L478.5 88.7L470.9 92.2Z"/>
<path class="c" color="#00ff77" d="M469.5 93.9L473.3 92.2L470.9 92.2L467 94.0Z"/>
<path class="c" color="#00ff77" d="M465.6 95.8L469.5 93.9L467 94.0L463.2 95.9Z"/>
<path class="c" color="#00ff51" d="M471.9 94.0L475.8 92.2L473.3 92.2L469.5 93.9Z"/>
<path class="c" color="#00ff50" d="M468 95.8L471.9 94.0L469.5 93.9L465.6 95.8Z"/>
<path class="m" d="M468 95.8L475.8 92.2L470.9 92.2L463.2 95.9Z"/>
<path class="c" color="#00ff77" d="M461.7 97.7L465.6 95.8L463.2 95.9L459.4 97.8Z"/>
<path class="c" color="#00ff79" d="M457.9 99.7L461.7 97.7L459.4 97.8L455.5 99.9Z"/>
<path class="c" color="#00ff50" d="M464.1 97.7L468 95.8L465.6 95.8L461.7 97.7Z"/>
<path class="c" color="#00ff51" d="M460.2 99.7L464.1 97.7L461.7 97.7L457.9 99.7Z"/>
<path class="m" d="M460.2 99.7L468 95.8L463.2 95.9L455.5 99.9Z"/>
<path class="c" color="#00ff7b" d="M454 101.8L457.9 99.7L455.5 99.9L451.6 101.9Z"/>
<path class="c" color="#00ff7f" d="M450.1 103.9L454 101.8L451.6 101.9L447.7 104.1Z"/>
<path class="c" color="#00ff52" d="M456.3 101.7L460.2 99.7L457.9 99.7L454 101.8Z"/>
<path class="c" color="#00ff55" d="M452.4 103.8L456.3 101.7L454 101.8L450.1 103.9Z"/>
<path class="m" d="M452.4 103.8L460.2 99.7L455.5 99.9L447.7 104.1Z"/>
<path class="c" color="#00ff83" d="M446.2 106.1L450.1 103.9L447.7 104.1L443.8 106.3Z"/>
<path class="c" color="#00ff88" d="M442.2 108.3L446.2 106.1L443.8 106.3L439.9 108.6Z"/>
<path class="c" color="#00ff59" d="M448.5 106.0L452.4 103.8L450.1 103.9L446.2 106.1Z"/>
<path class="c" color="#00ff5e" d="M444.6 108.2L448.5 106.0L446.2 106.1L442.2 108.3Z"/>
<path class="m" d="M444.6 108.2L452.4 103.8L447.7 104.1L439.9 108.6Z"/>
<path class="c" color="#00ff8f" d="M438.3 110.7L442.2 108.3L439.9 108.6L436 110.9Z"/>
<path class="c" color="#00ff96" d="M434.4 113.1L438.3 110.7L436 110.9L432.1 113.4Z"/>
<path class="c" color="#00ff63" d="M440.6 110.5L444.6 108.2L442.2 108.3L438.3 110.7Z"/>
<path class="c" color="#00ff6a" d="M436.7 112.9L440.6 110.5L438.3 110.7L434.4 113.1Z"/>
<path class="m" d="M436.7 112.9L444.6 108.2L439.9 108.6L432.1 113.4Z"/>
<path class="c" color="#00ff9e" d="M430.4 115.5L434.4 113.1L432.1 113.4L428.2 115.8Z"/>
<path class="c" color="#00ffa7" d="M426.5 118.0L430.4 115.5L428.2 115.8L424.3 118.4Z"/>
<path class="c" color="#00ff71" d="M432.7 115.3L436.7 112.9L434.4 113.1L430.4 115.5Z"/>
<path class="c" color="#00ff7a" d="M428.7 117.8L432.7 115.3L430.4 115.5L426.5 118.0Z"/>
<path class="m" d="M428.7 117.8L436.7 112.9L432.1 113.4L424.3 118.4Z"/>
<path class="c" color="#00ffb1" d="M422.5 120.6L426.5 118.0L424.3 118.4L420.4 121.0Z"/>
<path class="c" color="#00ffbb" d="M418.6 123.3L422.5 120.6L420.4 121.0L416.4 123.7Z"/>
<path class="c" color="#00ff83" d="M424.8 120.4L428.7 117.8L426.5 118.0L422.5 120.6Z"/>
<path class="c" color="#00ff8d" d="M420.8 123.0L424.8 120.4L422.5 120.6L418.6 123.3Z"/>
<path class="m" d="M420.8 123.0L428.7 117.8L424.3 118.4L416.4 123.7Z"/>
<path class="c" color="#00ffc7" d="M414.6 126.0L418.6 123.3L416.4 123.7L412.5 126.4Z"/>
<path class="c" color="#00ffd4" d="M410.7 128.8L414.6 126.0L412.5 126.4L408.6 129.2Z"/>
<path class="c" color="#00ff98" d="M416.8 125.7L420.8 123.0L418.6 123.3L414.6 126.0Z"/>
<path class="c" color="#00ffa5" d="M412.8 128.5L416.8 125.7L414.6 126.0L410.7 128.8Z"/>
<path class="m" d="M412.8 128.5L420.8 123.0L416.4 123.7L408.6 129.2Z"/>
<path class="c" color="#0098ff" d="M562.8 70.6L566.2 70.4L563.5 69.4L560.1 69.7Z"/>
<path class="c" color="#00afff" d="M559.3 70.8L562.8 70.6L560.1 69.7L556.6 70.0Z"/>
<path class="c" color="#00adff" d="M565.5 71.6L568.9 71.4L566.2 70.4L562.8 70.6Z"/>
<path class="c" color="#00c5ff" d="M562.1 71.8L565.5 71.6L562.8 70.6L559.3 70.8Z"/>
<path class="m" d="M562.1 71.8L568.9 71.4L563.5 69.4L556.6 70.0Z"/>
<path class="c" color="#00c6ff" d="M555.9 71.1L559.3 70.8L556.6 70.0L553.2 70.3Z"/>
<path class="c" color="#00dcff" d="M552.4 71.5L555.9 71.1L553.2 70.3L549.7 70.7Z"/>
<path class="c" color="#00ddff" d="M558.6 72.1L562.1 71.8L559.3 70.8L555.9 71.1Z"/>
<path class="c" color="#00f3ff" d="M555.1 72.5L558.6 72.1L555.9 71.1L552.4 71.5Z"/>
<path class="m" d="M555.1 72.5L562.1 71.8L556.6 70.0L549.7 70.7Z"/>
<path class="c" color="#00f1ff" d="M548.9 72.0L552.4 71.5L549.7 70.7L546.2 71.2Z"/>
<path class="c" color="#00fff9" d="M545.3 72.5L548.9 72.0L546.2 71.2L542.6 71.7Z"/>
<path class="c" color="#00fff5" d="M551.6 72.9L555.1 72.5L552.4 71.5L548.9 72.0Z"/>
<path class="c" color="#00ffe1" d="M548 73.3L551.6 72.9L548.9 72.0L545.3 72.5Z"/>
<path class="m" d="M548 73.3L555.1 72.5L549.7 70.7L542.6 71.7Z"/>
<path class="c" color="#00ffe5" d="M541.8 73.0L545.3 72.5L542.6 71.7L539.1 72.3Z"/>
<path class="c" color="#00ffd3" d="M538.2 73.7L541.8 73.0L539.1 72.3L535.5 73.0Z"/>
<path class="c" color="#00ffcd" d="M544.4 73.9L548 73.3L545.3 72.5L541.8 73.0Z"/>
<path class="c" color="#00ffba" d="M540.9 74.5L544.4 73.9L541.8 73.0L538.2 73.7Z"/>
<path class="m" d="M540.9 74.5L548 73.3L542.6 71.7L535.5 73.0Z"/>
<path class="c" color="#00ffc2" d="M534.6 74.4L538.2 73.7L535.5 73.0L531.9 73.7Z"/>
<path class="c" color="#00ffb2" d="M530.9 75.1L534.6 74.4L531.9 73.7L528.3 74.5Z"/>
<path class="c" color="#00ffa8" d="M537.3 75.1L540.9 74.5L538.2 73.7L534.6 74.4Z"/>
<path class="c" color="#00ff97" d="M533.6 75.9L537.3 75.1L534.6 74.4L530.9 75.1Z"/>
<path class="m" d="M533.6 75.9L540.9 74.5L535.5 73.0L528.3 74.5Z"/>
<path class="c" color="#00ffa2" d="M527.3 75.9L530.9 75.1L528.3 74.5L524.6 75.3Z"/>
<path class="c" color="#00ff94" d="M523.6 76.8L527.3 75.9L524.6 75.3L521 76.3Z"/>
<path class="c" color="#00ff87" d="M530 76.6L533.6 75.9L530.9 75.1L527.3 75.9Z"/>
<path class="c" color="#00ff78" d="M526.3 77.5L530 76.6L527.3 75.9L523.6 76.8Z"/>
<path class="m" d="M526.3 77.5L533.6 75.9L528.3 74.5L521 76.3Z"/>
<path class="c" color="#00ff86" d="M519.9 77.8L523.6 76.8L521 76.3L517.3 77.2Z"/>
<path class="c" color="#00ff79" d="M516.2 78.8L519.9 77.8L517.3 77.2L513.6 78.3Z"/>
<path class="c" color="#00ff6a" d="M522.6 78.4L526.3 77.5L523.6 76.8L519.9 77.8Z"/>
<path class="c" color="#00ff5d" d="M518.9 79.4L522.6 78.4L519.9 77.8L516.2 78.8Z"/>
<path class="m" d="M518.9 79.4L526.3 77.5L521 76.3L513.6 78.3Z"/>
<path class="c" color="#00ff6e" d="M512.5 79.8L516.2 78.8L513.6 78.3L509.9 79.4Z"/>
<path class="c" color="#00ff63" d="M508.8 81.0L512.5 79.8L509.9 79.4L506.2 80.5Z"/>
<path class="c" color="#00ff50" d="M515.2 80.4L518.9 79.4L516.2 78.8L512.5 79.8Z"/>
<path class="c" color="#00ff45" d="M511.4 81.5L515.2 80.4L512.5 79.8L508.8 81.0Z"/>
<path class="m" d="M511.4 81.5L518.9 79.4L513.6 78.3L506.2 80.5Z"/>
<path class="c" color="#00ff59" d="M505 82.2L508.8 81.0L506.2 80.5L502.4 81.8Z"/>
<path class="c" color="#00ff50" d="M501.2 83.4L505 82.2L502.4 81.8L498.7 83.1Z"/>
<path class="c" color="#00ff3b" d="M507.6 82.7L511.4 81.5L508.8 81.0L505 82.2Z"/>
<path class="c" color="#00ff31" d="M503.9 83.9L507.6 82.7L505 82.2L501.2 83.4Z"/>
<path class="m" d="M503.9 83.9L511.4 81.5L506.2 80.5L498.7 83.1Z"/>
<path class="c" color="#00ff48" d="M497.5 84.8L501.2 83.4L498.7 83.1L494.9 84.4Z"/>
<path class="c" color="#00ff41" d="M493.7 86.2L497.5 84.8L494.9 84.4L491.1 85.9Z"/>
<path class="c" color="#00ff29" d="M500.1 85.2L503.9 83.9L501.2 83.4L497.5 84.8Z"/>
<path class="c" color="#00ff21" d="M496.2 86.6L500.1 85.2L497.5 84.8L493.7 86.2Z"/>
<path class="m" d="M496.2 86.6L503.9 83.9L498.7 83.1L491.1 85.9Z"/>
<path class="c" color="#00ff3b" d="M489.8 87.6L493.7 86.2L491.1 85.9L487.3 87.4Z"/>
<path class="c" color="#00ff36" d="M486 89.2L489.8 87.6L487.3 87.4L483.5 88.9Z"/>
<path class="c" color="#00ff1a" d="M492.4 88.0L496.2 86.6L493.7 86.2L489.8 87.6Z"/>
<path class="c" color="#00ff14" d="M488.5 89.5L492.4 88.0L489.8 87.6L486 89.2Z"/>
<path class="m" d="M488.5 89.5L496.2 86.6L491.1 85.9L483.5 88.9Z"/>
<path class="c" color="#00ff31" d="M482.1 90.8L486 89.2L483.5 88.9L479.6 90.5Z"/>
<path class="c" color="#00ff2e" d="M478.3 92.4L482.1 90.8L479.6 90.5L475.8 92.2Z"/>
<path class="c" color="#00ff10" d="M484.7 91.1L488.5 89.5L486 89.2L482.1 90.8Z"/>
<path class="c" color="#00ff0c" d="M480.8 92.8L484.7 91.1L482.1 90.8L478.3 92.4Z"/>
<path class="m" d="M480.8 92.8L488.5 89.5L483.5 88.9L475.8 92.2Z"/>
<path class="c" color="#00ff2c" d="M474.4 94.2L478.3 92.4L475.8 92.2L471.9 94.0Z"/>
<path class="c" color="#00ff2a" d="M470.5 96.0L474.4 94.2L471.9 94.0L468 95.8Z"/>
<path class="c" color="#00ff09" d="M476.9 94.5L480.8 92.8L478.3 92.4L474.4 94.2Z"/>
<path class="c" color="#00ff07" d="M473 96.2L476.9 94.5L474.4 94.2L470.5 96.0Z"/>
<path class="m" d="M473 96.2L480.8 92.8L475.8 92.2L468 95.8Z"/>
<path class="c" color="#00ff2a" d="M466.6 97.8L470.5 96.0L468 95.8L464.1 97.7Z"/>
<path class="c" color="#00ff2a" d="M462.7 99.8L466.6 97.8L464.1 97.7L460.2 99.7Z"/>
<path class="c" color="#00ff05" d="M469.1 98.1L473 96.2L470.5 96.0L466.6 97.8Z"/>
<path class="c" color="#00ff05" d="M465.1 100.0L469.1 98.1L466.6 97.8L462.7 99.8Z"/>
<path class="m" d="M465.1 100.0L473 96.2L468 95.8L460.2 99.7Z"/>
<path class="c" color="#00ff2b" d="M458.8 101.8L462.7 99.8L460.2 99.7L456.3 101.7Z"/>
<path class="c" color="#00ff2e" d="M454.8 103.9L458.8 101.8L456.3 101.7L452.4 103.8Z"/>
<path class="c" color="#00ff06" d="M461.2 102.0L465.1 100.0L462.7 99.8L458.8 101.8Z"/>
<path class="c" color="#00ff08" d="M457.2 104.0L461.2 102.0L458.8 101.8L454.8 103.9Z"/>
<path class="m" d="M457.2 104.0L465.1 100.0L460.2 99.7L452.4 103.8Z"/>
<path class="c" color="#00ff31" d="M450.9 106.0L454.8 103.9L452.4 103.8L448.5 106.0Z"/>
<path class="c" color="#00ff35" d="M446.9 108.2L450.9 106.0L448.5 106.0L444.6 108.2Z"/>
<path class="c" color="#00ff0a" d="M453.3 106.1L457.2 104.0L454.8 103.9L450.9 106.0Z"/>
<path class="c" color="#00ff0e" d="M449.3 108.3L453.3 106.1L450.9 106.0L446.9 108.2Z"/>
<path class="m" d="M449.3 108.3L457.2 104.0L452.4 103.8L444.6 108.2Z"/>
<path class="c" color="#00ff3a" d="M442.9 110.5L446.9 108.2L444.6 108.2L440.6 110.5Z"/>
<path class="c" color="#00ff40" d="M439 112.8L442.9 110.5L440.6 110.5L436.7 112.9Z"/>
<path class="c" color="#00ff12" d="M445.3 110.6L449.3 108.3L446.9 108.2L442.9 110.5Z"/>
<path class="c" color="#00ff18" d="M441.3 112.9L445.3 110.6L442.9 110.5L439 112.8Z"/>
<path class="m" d="M441.3 112.9L449.3 108.3L444.6 108.2L436.7 112.9Z"/>
<path class="c" color="#00ff47" d="M435 115.2L439 112.8L436.7 112.9L432.7 115.3Z"/>
<path class="c" color="#00ff4f" d="M431 117.7L435 115.2L432.7 115.3L428.7 117.8Z"/>
<path class="c" color="#00ff1e" d="M437.3 115.3L441.3 112.9L439 112.8L435 115.2Z"/>
<path class="c" color="#00ff25" d="M433.3 117.7L437.3 115.3L435 115.2L431 117.7Z"/>
<path class="m" d="M433.3 117.7L441.3 112.9L436.7 112.9L428.7 117.8Z"/>
<path class="c" color="#00ff57" d="M427 120.3L431 117.7L428.7 117.8L424.8 120.4Z"/>
<path class="c" color="#00ff61" d="M423 122.9L427 120.3L424.8 120.4L420.8 123.0Z"/>
<path class="c" color="#00ff2d" d="M429.3 120.2L433.3 117.7L431 117.7L427 120.3Z"/>
<path class="c" color="#00ff36" d="M425.3 122.8L429.3 120.2L427 120.3L423 122.9Z"/>
<path class="m" d="M425.3 122.8L433.3 117.7L428.7 117.8L420.8 123.0Z"/>
<path class="c" color="#00ff6c" d="M419 125.5L423 122.9L420.8 123.0L416.8 125.7Z"/>
<path class="c" color="#00ff77" d="M415 128.3L419 125.5L416.8 125.7L412.8 128.5Z"/>
<path class="c" color="#00ff40" d="M421.3 125.5L425.3 122.8L423 122.9L419 125.5Z"/>
<path class="c" color="#00ff4b" d="M417.2 128.2L421.3 125.5L419 125.5L415 128.3Z"/>
<path class="m" d="M417.2 128.2L425.3 122.8L420.8 123.0L412.8 128.5Z"/>
<path class="c" color="#00c0ff" d="M568.2 72.7L571.7 72.6L568.9 71.4L565.5 71.6Z"/>
<path class="c" color="#00d9ff" d="M564.8 72.9L568.2 72.7L565.5 71.6L562.1 71.8Z"/>
<path class="c" color="#00d2ff" d="M571 74.0L574.4 73.9L571.7 72.6L568.2 72.7Z"/>
<path class="c" color="#00ebff" d="M567.6 74.1L571 74.0L568.2 72.7L564.8 72.9Z"/>
<path class="m" d="M567.6 74.1L574.4 73.9L568.9 71.4L562.1 71.8Z"/>
<path class="c" color="#00f1ff" d="M561.3 73.2L564.8 72.9L562.1 71.8L558.6 72.1Z"/>
<path class="c" color="#00fff6" d="M557.8 73.5L561.3 73.2L558.6 72.1L555.1 72.5Z"/>
<path class="c" color="#00fffa" d="M564.1 74.4L567.6 74.1L564.8 72.9L561.3 73.2Z"/>
<path class="c" color="#00ffe2" d="M560.6 74.7L564.1 74.4L561.3 73.2L557.8 73.5Z"/>
<path class="m" d="M560.6 74.7L567.6 74.1L562.1 71.8L555.1 72.5Z"/>
<path class="c" color="#00ffdf" d="M554.3 73.9L557.8 73.5L555.1 72.5L551.6 72.9Z"/>
<path class="c" color="#00ffca" d="M550.7 74.3L554.3 73.9L551.6 72.9L548 73.3Z"/>
<path class="c" color="#00ffcb" d="M557 75.0L560.6 74.7L557.8 73.5L554.3 73.9Z"/>
<path class="c" color="#00ffb6" d="M553.5 75.4L557 75.0L554.3 73.9L550.7 74.3Z"/>
<path class="m" d="M553.5 75.4L560.6 74.7L555.1 72.5L548 73.3Z"/>
<path class="c" color="#00ffb6" d="M547.2 74.8L550.7 74.3L548 73.3L544.4 73.9Z"/>
<path class="c" color="#00ffa3" d="M543.6 75.4L547.2 74.8L544.4 73.9L540.9 74.5Z"/>
<path class="c" color="#00ffa1" d="M549.9 75.9L553.5 75.4L550.7 74.3L547.2 74.8Z"/>
<path class="c" color="#00ff8d" d="M546.3 76.4L549.9 75.9L547.2 74.8L543.6 75.4Z"/>
<path class="m" d="M546.3 76.4L553.5 75.4L548 73.3L540.9 74.5Z"/>
<path class="c" color="#00ff90" d="M540 76.0L543.6 75.4L540.9 74.5L537.3 75.1Z"/>
<path class="c" color="#00ff7f" d="M536.3 76.7L540 76.0L537.3 75.1L533.6 75.9Z"/>
<path class="c" color="#00ff7a" d="M542.7 77.0L546.3 76.4L543.6 75.4L540 76.0Z"/>
<path class="c" color="#00ff68" d="M539 77.7L542.7 77.0L540 76.0L536.3 76.7Z"/>
<path class="m" d="M539 77.7L546.3 76.4L540.9 74.5L533.6 75.9Z"/>
<path class="c" color="#00ff6e" d="M532.7 77.5L536.3 76.7L533.6 75.9L530 76.6Z"/>
<path class="c" color="#00ff5e" d="M529 78.3L532.7 77.5L530 76.6L526.3 77.5Z"/>
<path class="c" color="#00ff57" d="M535.4 78.4L539 77.7L536.3 76.7L532.7 77.5Z"/>
<path class="c" color="#00ff46" d="M531.7 79.2L535.4 78.4L532.7 77.5L529 78.3Z"/>
<path class="m" d="M531.7 79.2L539 77.7L533.6 75.9L526.3 77.5Z"/>
<path class="c" color="#00ff50" d="M525.3 79.2L529 78.3L526.3 77.5L522.6 78.4Z"/>
<path class="c" color="#00ff42" d="M521.6 80.1L525.3 79.2L522.6 78.4L518.9 79.4Z"/>
<path class="c" color="#00ff37" d="M528 80.0L531.7 79.2L529 78.3L525.3 79.2Z"/>
<path class="c" color="#00ff29" d="M524.3 81.0L528 80.0L525.3 79.2L521.6 80.1Z"/>
<path class="m" d="M524.3 81.0L531.7 79.2L526.3 77.5L518.9 79.4Z"/>
<path class="c" color="#00ff35" d="M517.8 81.1L521.6 80.1L518.9 79.4L515.2 80.4Z"/>
<path class="c" color="#00ff29" d="M514.1 82.2L517.8 81.1L515.2 80.4L511.4 81.5Z"/>
<path class="c" color="#00ff1b" d="M520.5 81.9L524.3 81.0L521.6 80.1L517.8 81.1Z"/>
<path class="c" color="#00ff0f" d="M516.7 83.0L520.5 81.9L517.8 81.1L514.1 82.2Z"/>
<path class="m" d="M516.7 83.0L524.3 81.0L518.9 79.4L511.4 81.5Z"/>
<path class="c" color="#00ff1e" d="M510.3 83.3L514.1 82.2L511.4 81.5L507.6 82.7Z"/>
<path class="c" color="#00ff14" d="M506.5 84.5L510.3 83.3L507.6 82.7L503.9 83.9Z"/>
<path class="c" color="#00ff03" d="M513 84.1L516.7 83.0L514.1 82.2L510.3 83.3Z"/>
<path class="c" color="#08ff00" d="M509.1 85.3L513 84.1L510.3 83.3L506.5 84.5Z"/>
<path class="m" d="M509.1 85.3L516.7 83.0L511.4 81.5L503.9 83.9Z"/>
<path class="c" color="#00ff0b" d="M502.7 85.8L506.5 84.5L503.9 83.9L500.1 85.2Z"/>
<path class="c" color="#00ff03" d="M498.8 87.2L502.7 85.8L500.1 85.2L496.2 86.6Z"/>
<path class="c" color="#11ff00" d="M505.3 86.5L509.1 85.3L506.5 84.5L502.7 85.8Z"/>
<path class="c" color="#1aff00" d="M501.5 87.8L505.3 86.5L502.7 85.8L498.8 87.2Z"/>
<path class="m" d="M501.5 87.8L509.1 85.3L503.9 83.9L496.2 86.6Z"/>
<path class="c" color="#05ff00" d="M495 88.6L498.8 87.2L496.2 86.6L492.4 88.0Z"/>
<path class="c" color="#0bff00" d="M491.1 90.0L495 88.6L492.4 88.0L488.5 89.5Z"/>
<path class="c" color="#22ff00" d="M497.6 89.2L501.5 87.8L498.8 87.2L495 88.6Z"/>
<path class="c" color="#29ff00" d="M493.7 90.7L497.6 89.2L495 88.6L491.1 90.0Z"/>
<path class="m" d="M493.7 90.7L501.5 87.8L496.2 86.6L488.5 89.5Z"/>
<path class="c" color="#11ff00" d="M487.2 91.6L491.1 90.0L488.5 89.5L484.7 91.1Z"/>
<path class="c" color="#15ff00" d="M483.4 93.2L487.2 91.6L484.7 91.1L480.8 92.8Z"/>
<path class="c" color="#2fff00" d="M489.8 92.2L493.7 90.7L491.1 90.0L487.2 91.6Z"/>
<path class="c" color="#34ff00" d="M485.9 93.7L489.8 92.2L487.2 91.6L483.4 93.2Z"/>
<path class="m" d="M485.9 93.7L493.7 90.7L488.5 89.5L480.8 92.8Z"/>
<path class="c" color="#19ff00" d="M479.4 94.9L483.4 93.2L480.8 92.8L476.9 94.5Z"/>
<path class="c" color="#1bff00" d="M475.5 96.6L479.4 94.9L476.9 94.5L473 96.2Z"/>
<path class="c" color="#38ff00" d="M482 95.4L485.9 93.7L483.4 93.2L479.4 94.9Z"/>
<path class="c" color="#3bff00" d="M478.1 97.1L482 95.4L479.4 94.9L475.5 96.6Z"/>
<path class="m" d="M478.1 97.1L485.9 93.7L480.8 92.8L473 96.2Z"/>
<path class="c" color="#1dff00" d="M471.6 98.4L475.5 96.6L473 96.2L469.1 98.1Z"/>
<path class="c" color="#1eff00" d="M467.6 100.3L471.6 98.4L469.1 98.1L465.1 100.0Z"/>
<path class="c" color="#3eff00" d="M474.1 98.9L478.1 97.1L475.5 96.6L471.6 98.4Z"/>
<path class="c" color="#3fff00" d="M470.2 100.8L474.1 98.9L471.6 98.4L467.6 100.3Z"/>
<path class="m" d="M470.2 100.8L478.1 97.1L473 96.2L465.1 100.0Z"/>
<path class="c" color="#1eff00" d="M463.7 102.3L467.6 100.3L465.1 100.0L461.2 102.0Z"/>
<path class="c" color="#1cff00" d="M459.7 104.3L463.7 102.3L461.2 102.0L457.2 104.0Z"/>
<path class="c" color="#3fff00" d="M466.2 102.7L470.2 100.8L467.6 100.3L463.7 102.3Z"/>
<path class="c" color="#3fff00" d="M462.2 104.7L466.2 102.7L463.7 102.3L459.7 104.3Z"/>
<path class="m" d="M462.2 104.7L470.2 100.8L465.1 100.0L457.2 104.0Z"/>
<path class="c" color="#1aff00" d="M455.7 106.4L459.7 104.3L457.2 104.0L453.3 106.1Z"/>
<path class="c" color="#18ff00" d="M451.7 108.5L455.7 106.4L453.3 106.1L449.3 108.3Z"/>
<path class="c" color="#3dff00" d="M458.2 106.7L462.2 104.7L459.7 104.3L455.7 106.4Z"/>
<path class="c" color="#3bff00" d="M454.2 108.9L458.2 106.7L455.7 106.4L451.7 108.5Z"/>
<path class="m" d="M454.2 108.9L462.2 104.7L457.2 104.0L449.3 108.3Z"/>
<path class="c" color="#14ff00" d="M447.7 110.7L451.7 108.5L449.3 108.3L445.3 110.6Z"/>
<path class="c" color="#0fff00" d="M443.7 113.0L447.7 110.7L445.3 110.6L441.3 112.9Z"/>
<path class="c" color="#38ff00" d="M450.2 111.1L454.2 108.9L451.7 108.5L447.7 110.7Z"/>
<path class="c" color="#33ff00" d="M446.1 113.3L450.2 111.1L447.7 110.7L443.7 113.0Z"/>
<path class="m" d="M446.1 113.3L454.2 108.9L449.3 108.3L441.3 112.9Z"/>
<path class="c" color="#09ff00" d="M439.7 115.4L443.7 113.0L441.3 112.9L437.3 115.3Z"/>
<path class="c" color="#02ff00" d="M435.7 117.8L439.7 115.4L437.3 115.3L433.3 117.7Z"/>
<path class="c" color="#2eff00" d="M442.1 115.7L446.1 113.3L443.7 113.0L439.7 115.4Z"/>
<path class="c" color="#28ff00" d="M438 118.1L442.1 115.7L439.7 115.4L435.7 117.8Z"/>
<path class="m" d="M438 118.1L446.1 113.3L441.3 112.9L433.3 117.7Z"/>
<path class="c" color="#00ff05" d="M431.6 120.3L435.7 117.8L433.3 117.7L429.3 120.2Z"/>
<path class="c" color="#00ff0e" d="M427.6 122.9L431.6 120.3L429.3 120.2L425.3 122.8Z"/>
<path class="c" color="#21ff00" d="M434 120.5L438 118.1L435.7 117.8L431.6 120.3Z"/>
<path class="c" color="#19ff00" d="M429.9 123.1L434 120.5L431.6 120.3L427.6 122.9Z"/>
<path class="m" d="M429.9 123.1L438 118.1L433.3 117.7L425.3 122.8Z"/>
<path class="c" color="#00ff17" d="M423.5 125.5L427.6 122.9L425.3 122.8L421.3 125.5Z"/>
<path class="c" color="#00ff22" d="M419.5 128.2L423.5 125.5L421.3 125.5L417.2 128.2Z"/>
<path class="c" color="#10ff00" d="M425.9 125.7L429.9 123.1L427.6 122.9L423.5 125.5Z"/>
<path class="c" color="#07ff00" d="M421.8 128.4L425.9 125.7L423.5 125.5L419.5 128.2Z"/>
<path class="m" d="M421.8 128.4L429.9 123.1L425.3 122.8L417.2 128.2Z"/>
<path class="c" color="#00e2ff" d="M573.8 75.3L577.2 75.3L574.4 73.9L571 74.0Z"/>
<path class="c" color="#00fcff" d="M570.3 75.5L573.8 75.3L571 74.0L567.6 74.1Z"/>
<path class="c" color="#00f0ff" d="M576.6 76.8L580 76.8L577.2 75.3L573.8 75.3Z"/>
<path class="c" color="#00fff3" d="M573.1 76.9L576.6 76.8L573.8 75.3L570.3 75.5Z"/>
<path class="m" d="M573.1 76.9L580 76.8L574.4 73.9L567.6 74.1Z"/>
<path class="c" color="#00ffe9" d="M566.8 75.7L570.3 75.5L567.6 74.1L564.1 74.4Z"/>
<path class="c" color="#00ffd1" d="M563.3 75.9L566.8 75.7L564.1 74.4L560.6 74.7Z"/>
<path class="c" color="#00ffda" d="M569.6 77.1L573.1 76.9L570.3 75.5L566.8 75.7Z"/>
<path class="c" color="#00ffc1" d="M566.1 77.3L569.6 77.1L566.8 75.7L563.3 75.9Z"/>
<path class="m" d="M566.1 77.3L573.1 76.9L567.6 74.1L560.6 74.7Z"/>
<path class="c" color="#00ffb9" d="M559.8 76.3L563.3 75.9L560.6 74.7L557 75.0Z"/>
<path class="c" color="#00ffa3" d="M556.2 76.6L559.8 76.3L557 75.0L553.5 75.4Z"/>
<path class="c" color="#00ffa9" d="M562.6 77.6L566.1 77.3L563.3 75.9L559.8 76.3Z"/>
<path class="c" color="#00ff92" d="M559 78.0L562.6 77.6L559.8 76.3L556.2 76.6Z"/>
<path class="m" d="M559 78.0L566.1 77.3L560.6 74.7L553.5 75.4Z"/>
<path class="c" color="#00ff8d" d="M552.7 77.1L556.2 76.6L553.5 75.4L549.9 75.9Z"/>
<path class="c" color="#00ff79" d="M549.1 77.6L552.7 77.1L549.9 75.9L546.3 76.4Z"/>
<path class="c" color="#00ff7c" d="M555.4 78.4L559 78.0L556.2 76.6L552.7 77.1Z"/>
<path class="c" color="#00ff67" d="M551.8 78.9L555.4 78.4L552.7 77.1L549.1 77.6Z"/>
<path class="m" d="M551.8 78.9L559 78.0L553.5 75.4L546.3 76.4Z"/>
<path class="c" color="#00ff65" d="M545.4 78.2L549.1 77.6L546.3 76.4L542.7 77.0Z"/>
<path class="c" color="#00ff53" d="M541.8 78.8L545.4 78.2L542.7 77.0L539 77.7Z"/>
<path class="c" color="#00ff53" d="M548.2 79.4L551.8 78.9L549.1 77.6L545.4 78.2Z"/>
<path class="c" color="#00ff3f" d="M544.6 80.0L548.2 79.4L545.4 78.2L541.8 78.8Z"/>
<path class="m" d="M544.6 80.0L551.8 78.9L546.3 76.4L539 77.7Z"/>
<path class="c" color="#00ff41" d="M538.1 79.5L541.8 78.8L539 77.7L535.4 78.4Z"/>
<path class="c" color="#00ff30" d="M534.4 80.2L538.1 79.5L535.4 78.4L531.7 79.2Z"/>
<path class="c" color="#00ff2d" d="M540.9 80.7L544.6 80.0L541.8 78.8L538.1 79.5Z"/>
<path class="c" color="#00ff1c" d="M537.2 81.4L540.9 80.7L538.1 79.5L534.4 80.2Z"/>
<path class="m" d="M537.2 81.4L544.6 80.0L539 77.7L531.7 79.2Z"/>
<path class="c" color="#00ff20" d="M530.7 81.0L534.4 80.2L531.7 79.2L528 80.0Z"/>
<path class="c" color="#00ff11" d="M527 81.9L530.7 81.0L528 80.0L524.3 81.0Z"/>
<path class="c" color="#00ff0b" d="M533.5 82.2L537.2 81.4L534.4 80.2L530.7 81.0Z"/>
<path class="c" color="#04ff00" d="M529.7 83.0L533.5 82.2L530.7 81.0L527 81.9Z"/>
<path class="m" d="M529.7 83.0L537.2 81.4L531.7 79.2L524.3 81.0Z"/>
<path class="c" color="#00ff03" d="M523.2 82.9L527 81.9L524.3 81.0L520.5 81.9Z"/>
<path class="c" color="#0aff00" d="M519.4 83.9L523.2 82.9L520.5 81.9L516.7 83.0Z"/>
<path class="c" color="#13ff00" d="M526 84.0L529.7 83.0L527 81.9L523.2 82.9Z"/>
<path class="c" color="#21ff00" d="M522.2 84.9L526 84.0L523.2 82.9L519.4 83.9Z"/>
<path class="m" d="M522.2 84.9L529.7 83.0L524.3 81.0L516.7 83.0Z"/>
<path class="c" color="#16ff00" d="M515.6 85.0L519.4 83.9L516.7 83.0L513 84.1Z"/>
<path class="c" color="#21ff00" d="M511.8 86.1L515.6 85.0L513 84.1L509.1 85.3Z"/>
<path class="c" color="#2dff00" d="M518.4 86.0L522.2 84.9L519.4 83.9L515.6 85.0Z"/>
<path class="c" color="#39ff00" d="M514.5 87.1L518.4 86.0L515.6 85.0L511.8 86.1Z"/>
<path class="m" d="M514.5 87.1L522.2 84.9L516.7 83.0L509.1 85.3Z"/>
<path class="c" color="#2bff00" d="M508 87.3L511.8 86.1L509.1 85.3L505.3 86.5Z"/>
<path class="c" color="#35ff00" d="M504.1 88.6L508 87.3L505.3 86.5L501.5 87.8Z"/>
<path class="c" color="#44ff00" d="M510.7 88.3L514.5 87.1L511.8 86.1L508 87.3Z"/>
<path class="c" color="#4eff00" d="M506.8 89.5L510.7 88.3L508 87.3L504.1 88.6Z"/>
<path class="m" d="M506.8 89.5L514.5 87.1L509.1 85.3L501.5 87.8Z"/>
<path class="c" color="#3dff00" d="M500.3 90.0L504.1 88.6L501.5 87.8L497.6 89.2Z"/>
<path class="c" color="#45ff00" d="M496.4 91.4L500.3 90.0L497.6 89.2L493.7 90.7Z"/>
<path class="c" color="#57ff00" d="M502.9 90.9L506.8 89.5L504.1 88.6L500.3 90.0Z"/>
<path class="c" color="#5fff00" d="M499 92.2L502.9 90.9L500.3 90.0L496.4 91.4Z"/>
<path class="m" d="M499 92.2L506.8 89.5L501.5 87.8L493.7 90.7Z"/>
<path class="c" color="#4bff00" d="M492.5 92.9L496.4 91.4L493.7 90.7L489.8 92.2Z"/>
<path class="c" color="#51ff00" d="M488.6 94.4L492.5 92.9L489.8 92.2L485.9 93.7Z"/>
<path class="c" color="#66ff00" d="M495.1 93.7L499 92.2L496.4 91.4L492.5 92.9Z"/>
<path class="c" color="#6cff00" d="M491.2 95.2L495.1 93.7L492.5 92.9L488.6 94.4Z"/>
<path class="m" d="M491.2 95.2L499 92.2L493.7 90.7L485.9 93.7Z"/>
<path class="c" color="#56ff00" d="M484.6 96.0L488.6 94.4L485.9 93.7L482 95.4Z"/>
<path class="c" color="#5aff00" d="M480.7 97.7L484.6 96.0L482 95.4L478.1 97.1Z"/>
<path class="c" color="#72ff00" d="M487.3 96.8L491.2 95.2L488.6 94.4L484.6 96.0Z"/>
<path class="c" color="#76ff00" d="M483.3 98.5L487.3 96.8L484.6 96.0L480.7 97.7Z"/>
<path class="m" d="M483.3 98.5L491.2 95.2L485.9 93.7L478.1 97.1Z"/>
<path class="c" color="#5cff00" d="M476.7 99.5L480.7 97.7L478.1 97.1L474.1 98.9Z"/>
<path class="c" color="#5eff00" d="M472.7 101.3L476.7 99.5L474.1 98.9L470.2 100.8Z"/>
<path class="c" color="#79ff00" d="M479.3 100.2L483.3 98.5L480.7 97.7L476.7 99.5Z"/>
<path class="c" color="#7cff00" d="M475.3 102.0L479.3 100.2L476.7 99.5L472.7 101.3Z"/>
<path class="m" d="M475.3 102.0L483.3 98.5L478.1 97.1L470.2 100.8Z"/>
<path class="c" color="#5fff00" d="M468.7 103.2L472.7 101.3L470.2 100.8L466.2 102.7Z"/>
<path class="c" color="#5fff00" d="M464.7 105.2L468.7 103.2L466.2 102.7L462.2 104.7Z"/>
<path class="c" color="#7eff00" d="M471.3 103.9L475.3 102.0L472.7 101.3L468.7 103.2Z"/>
<path class="c" color="#7eff00" d="M467.3 105.8L471.3 103.9L468.7 103.2L464.7 105.2Z"/>
<path class="m" d="M467.3 105.8L475.3 102.0L470.2 100.8L462.2 104.7Z"/>
<path class="c" color="#5fff00" d="M460.7 107.2L464.7 105.2L462.2 104.7L458.2 106.7Z"/>
<path class="c" color="#5dff00" d="M456.7 109.3L460.7 107.2L458.2 106.7L454.2 108.9Z"/>
<path class="c" color="#7eff00" d="M463.3 107.8L467.3 105.8L464.7 105.2L460.7 107.2Z"/>
<path class="c" color="#7dff00" d="M459.2 109.9L463.3 107.8L460.7 107.2L456.7 109.3Z"/>
<path class="m" d="M459.2 109.9L467.3 105.8L462.2 104.7L454.2 108.9Z"/>
<path class="c" color="#5aff00" d="M452.6 111.5L456.7 109.3L454.2 108.9L450.2 111.1Z"/>
<path class="c" color="#56ff00" d="M448.6 113.7L452.6 111.5L450.2 111.1L446.1 113.3Z"/>
<path class="c" color="#7bff00" d="M455.1 112.0L459.2 109.9L456.7 109.3L452.6 111.5Z"/>
<path class="c" color="#77ff00" d="M451.1 114.2L455.1 112.0L452.6 111.5L448.6 113.7Z"/>
<path class="m" d="M451.1 114.2L459.2 109.9L454.2 108.9L446.1 113.3Z"/>
<path class="c" color="#52ff00" d="M444.5 116.0L448.6 113.7L446.1 113.3L442.1 115.7Z"/>
<path class="c" color="#4cff00" d="M440.5 118.4L444.5 116.0L442.1 115.7L438 118.1Z"/>
<path class="c" color="#73ff00" d="M447 116.5L451.1 114.2L448.6 113.7L444.5 116.0Z"/>
<path class="c" color="#6fff00" d="M442.9 118.9L447 116.5L444.5 116.0L440.5 118.4Z"/>
<path class="m" d="M442.9 118.9L451.1 114.2L446.1 113.3L438 118.1Z"/>
<path class="c" color="#46ff00" d="M436.4 120.9L440.5 118.4L438 118.1L434 120.5Z"/>
<path class="c" color="#3eff00" d="M432.3 123.4L436.4 120.9L434 120.5L429.9 123.1Z"/>
<path class="c" color="#69ff00" d="M438.8 121.3L442.9 118.9L440.5 118.4L436.4 120.9Z"/>
<path class="c" color="#62ff00" d="M434.7 123.8L438.8 121.3L436.4 120.9L432.3 123.4Z"/>
<path class="m" d="M434.7 123.8L442.9 118.9L438 118.1L429.9 123.1Z"/>
<path class="c" color="#36ff00" d="M428.2 126.0L432.3 123.4L429.9 123.1L425.9 125.7Z"/>
<path class="c" color="#2dff00" d="M424.1 128.6L428.2 126.0L425.9 125.7L421.8 128.4Z"/>
<path class="c" color="#5aff00" d="M430.6 126.4L434.7 123.8L432.3 123.4L428.2 126.0Z"/>
<path class="c" color="#51ff00" d="M426.5 129.0L430.6 126.4L428.2 126.0L424.1 128.6Z"/>
<path class="m" d="M426.5 129.0L434.7 123.8L429.9 123.1L421.8 128.4Z"/>
<path class="c" color="#00fcff" d="M579.4 78.4L582.8 78.4L580 76.8L576.6 76.8Z"/>
<path class="c" color="#00ffe7" d="M575.9 78.5L579.4 78.4L576.6 76.8L573.1 76.9Z"/>
<path class="c" color="#00fff7" d="M582.2 80.2L585.6 80.2L582.8 78.4L579.4 78.4Z"/>
<path class="c" color="#00ffdb" d="M578.7 80.2L582.2 80.2L579.4 78.4L575.9 78.5Z"/>
<path class="m" d="M578.7 80.2L585.6 80.2L580 76.8L573.1 76.9Z"/>
<path class="c" color="#00ffcc" d="M572.4 78.7L575.9 78.5L573.1 76.9L569.6 77.1Z"/>
<path class="c" color="#00ffb3" d="M568.9 78.9L572.4 78.7L569.6 77.1L566.1 77.3Z"/>
<path class="c" color="#00ffc1" d="M575.2 80.3L578.7 80.2L575.9 78.5L572.4 78.7Z"/>
<path class="c" color="#00ffa7" d="M571.7 80.5L575.2 80.3L572.4 78.7L568.9 78.9Z"/>
<path class="m" d="M571.7 80.5L578.7 80.2L573.1 76.9L566.1 77.3Z"/>
<path class="c" color="#00ff9a" d="M565.4 79.1L568.9 78.9L566.1 77.3L562.6 77.6Z"/>
<path class="c" color="#00ff83" d="M561.8 79.4L565.4 79.1L562.6 77.6L559 78.0Z"/>
<path class="c" color="#00ff8d" d="M568.2 80.7L571.7 80.5L568.9 78.9L565.4 79.1Z"/>
<path class="c" color="#00ff75" d="M564.6 81.0L568.2 80.7L565.4 79.1L561.8 79.4Z"/>
<path class="m" d="M564.6 81.0L571.7 80.5L566.1 77.3L559 78.0Z"/>
<path class="c" color="#00ff6c" d="M558.2 79.8L561.8 79.4L559 78.0L555.4 78.4Z"/>
<path class="c" color="#00ff56" d="M554.6 80.3L558.2 79.8L555.4 78.4L551.8 78.9Z"/>
<path class="c" color="#00ff5e" d="M561.1 81.4L564.6 81.0L561.8 79.4L558.2 79.8Z"/>
<path class="c" color="#00ff48" d="M557.4 81.8L561.1 81.4L558.2 79.8L554.6 80.3Z"/>
<path class="m" d="M557.4 81.8L564.6 81.0L559 78.0L551.8 78.9Z"/>
<path class="c" color="#00ff42" d="M551 80.8L554.6 80.3L551.8 78.9L548.2 79.4Z"/>
<path class="c" color="#00ff2e" d="M547.3 81.3L551 80.8L548.2 79.4L544.6 80.0Z"/>
<path class="c" color="#00ff33" d="M553.8 82.3L557.4 81.8L554.6 80.3L551 80.8Z"/>
<path class="c" color="#00ff1e" d="M550.1 82.8L553.8 82.3L551 80.8L547.3 81.3Z"/>
<path class="m" d="M550.1 82.8L557.4 81.8L551.8 78.9L544.6 80.0Z"/>
<path class="c" color="#00ff1b" d="M543.7 82.0L547.3 81.3L544.6 80.0L540.9 80.7Z"/>
<path class="c" color="#00ff09" d="M540 82.7L543.7 82.0L540.9 80.7L537.2 81.4Z"/>
<path class="c" color="#00ff0b" d="M546.5 83.4L550.1 82.8L547.3 81.3L543.7 82.0Z"/>
<path class="c" color="#08ff00" d="M542.8 84.1L546.5 83.4L543.7 82.0L540 82.7Z"/>
<path class="m" d="M542.8 84.1L550.1 82.8L544.6 80.0L537.2 81.4Z"/>
<path class="c" color="#08ff00" d="M536.2 83.4L540 82.7L537.2 81.4L533.5 82.2Z"/>
<path class="c" color="#18ff00" d="M532.5 84.3L536.2 83.4L533.5 82.2L529.7 83.0Z"/>
<path class="c" color="#19ff00" d="M539 84.8L542.8 84.1L540 82.7L536.2 83.4Z"/>
<path class="c" color="#2aff00" d="M535.3 85.6L539 84.8L536.2 83.4L532.5 84.3Z"/>
<path class="m" d="M535.3 85.6L542.8 84.1L537.2 81.4L529.7 83.0Z"/>
<path class="c" color="#27ff00" d="M528.7 85.1L532.5 84.3L529.7 83.0L526 84.0Z"/>
<path class="c" color="#35ff00" d="M524.9 86.1L528.7 85.1L526 84.0L522.2 84.9Z"/>
<path class="c" color="#3aff00" d="M531.5 86.5L535.3 85.6L532.5 84.3L528.7 85.1Z"/>
<path class="c" color="#49ff00" d="M527.7 87.4L531.5 86.5L528.7 85.1L524.9 86.1Z"/>
<path class="m" d="M527.7 87.4L535.3 85.6L529.7 83.0L522.2 84.9Z"/>
<path class="c" color="#43ff00" d="M521.1 87.1L524.9 86.1L522.2 84.9L518.4 86.0Z"/>
<path class="c" color="#4fff00" d="M517.3 88.2L521.1 87.1L518.4 86.0L514.5 87.1Z"/>
<path class="c" color="#57ff00" d="M523.9 88.4L527.7 87.4L524.9 86.1L521.1 87.1Z"/>
<path class="c" color="#63ff00" d="M520 89.4L523.9 88.4L521.1 87.1L517.3 88.2Z"/>
<path class="m" d="M520 89.4L527.7 87.4L522.2 84.9L514.5 87.1Z"/>
<path class="c" color="#5bff00" d="M513.4 89.4L517.3 88.2L514.5 87.1L510.7 88.3Z"/>
<path class="c" color="#65ff00" d="M509.5 90.6L513.4 89.4L510.7 88.3L506.8 89.5Z"/>
<path class="c" color="#70ff00" d="M516.2 90.6L520 89.4L517.3 88.2L513.4 89.4Z"/>
<path class="c" color="#7bff00" d="M512.3 91.7L516.2 90.6L513.4 89.4L509.5 90.6Z"/>
<path class="m" d="M512.3 91.7L520 89.4L514.5 87.1L506.8 89.5Z"/>
<path class="c" color="#6fff00" d="M505.7 91.9L509.5 90.6L506.8 89.5L502.9 90.9Z"/>
<path class="c" color="#77ff00" d="M501.7 93.2L505.7 91.9L502.9 90.9L499 92.2Z"/>
<path class="c" color="#85ff00" d="M508.4 93.0L512.3 91.7L509.5 90.6L505.7 91.9Z"/>
<path class="c" color="#8eff00" d="M504.5 94.3L508.4 93.0L505.7 91.9L501.7 93.2Z"/>
<path class="m" d="M504.5 94.3L512.3 91.7L506.8 89.5L499 92.2Z"/>
<path class="c" color="#7fff00" d="M497.8 94.7L501.7 93.2L499 92.2L495.1 93.7Z"/>
<path class="c" color="#86ff00" d="M493.9 96.1L497.8 94.7L495.1 93.7L491.2 95.2Z"/>
<path class="c" color="#96ff00" d="M500.5 95.7L504.5 94.3L501.7 93.2L497.8 94.7Z"/>
<path class="c" color="#9eff00" d="M496.6 97.2L500.5 95.7L497.8 94.7L493.9 96.1Z"/>
<path class="m" d="M496.6 97.2L504.5 94.3L499 92.2L491.2 95.2Z"/>
<path class="c" color="#8cff00" d="M489.9 97.7L493.9 96.1L491.2 95.2L487.3 96.8Z"/>
<path class="c" color="#91ff00" d="M485.9 99.3L489.9 97.7L487.3 96.8L483.3 98.5Z"/>
<path class="c" color="#a4ff00" d="M492.6 98.7L496.6 97.2L493.9 96.1L489.9 97.7Z"/>
<path class="c" color="#aaff00" d="M488.6 100.3L492.6 98.7L489.9 97.7L485.9 99.3Z"/>
<path class="m" d="M488.6 100.3L496.6 97.2L491.2 95.2L483.3 98.5Z"/>
<path class="c" color="#95ff00" d="M481.9 101.0L485.9 99.3L483.3 98.5L479.3 100.2Z"/>
<path class="c" color="#98ff00" d="M477.9 102.8L481.9 101.0L479.3 100.2L475.3 102.0Z"/>
<path class="c" color="#aeff00" d="M484.6 102.0L488.6 100.3L485.9 99.3L481.9 101.0Z"/>
<path class="c" color="#b2ff00" d="M480.6 103.7L484.6 102.0L481.9 101.0L477.9 102.8Z"/>
<path class="m" d="M480.6 103.7L488.6 100.3L483.3 98.5L475.3 102.0Z"/>
<path class="c" color="#9aff00" d="M473.9 104.6L477.9 102.8L475.3 102.0L471.3 103.9Z"/>
<path class="c" color="#9bff00" d="M469.9 106.6L473.9 104.6L471.3 103.9L467.3 105.8Z"/>
<path class="c" color="#b5ff00" d="M476.5 105.6L480.6 103.7L477.9 102.8L473.9 104.6Z"/>
<path class="c" color="#b6ff00" d="M472.5 107.4L476.5 105.6L473.9 104.6L469.9 106.6Z"/>
<path class="m" d="M472.5 107.4L480.6 103.7L475.3 102.0L467.3 105.8Z"/>
<path class="c" color="#9bff00" d="M465.8 108.5L469.9 106.6L467.3 105.8L463.3 107.8Z"/>
<path class="c" color="#9bff00" d="M461.8 110.6L465.8 108.5L463.3 107.8L459.2 109.9Z"/>
<path class="c" color="#b7ff00" d="M468.4 109.4L472.5 107.4L469.9 106.6L465.8 108.5Z"/>
<path class="c" color="#b7ff00" d="M464.4 111.4L468.4 109.4L465.8 108.5L461.8 110.6Z"/>
<path class="m" d="M464.4 111.4L472.5 107.4L467.3 105.8L459.2 109.9Z"/>
<path class="c" color="#99ff00" d="M457.7 112.7L461.8 110.6L459.2 109.9L455.1 112.0Z"/>
<path class="c" color="#97ff00" d="M453.6 114.9L457.7 112.7L455.1 112.0L451.1 114.2Z"/>
<path class="c" color="#b6ff00" d="M460.3 113.5L464.4 111.4L461.8 110.6L457.7 112.7Z"/>
<path class="c" color="#b4ff00" d="M456.2 115.7L460.3 113.5L457.7 112.7L453.6 114.9Z"/>
<path class="m" d="M456.2 115.7L464.4 111.4L459.2 109.9L451.1 114.2Z"/>
<path class="c" color="#93ff00" d="M449.5 117.1L453.6 114.9L451.1 114.2L447 116.5Z"/>
<path class="c" color="#8fff00" d="M445.4 119.5L449.5 117.1L447 116.5L442.9 118.9Z"/>
<path class="c" color="#b1ff00" d="M452.1 117.9L456.2 115.7L453.6 114.9L449.5 117.1Z"/>
<path class="c" color="#aeff00" d="M447.9 120.2L452.1 117.9L449.5 117.1L445.4 119.5Z"/>
<path class="m" d="M447.9 120.2L456.2 115.7L451.1 114.2L442.9 118.9Z"/>
<path class="c" color="#8aff00" d="M441.3 121.9L445.4 119.5L442.9 118.9L438.8 121.3Z"/>
<path class="c" color="#83ff00" d="M437.2 124.3L441.3 121.9L438.8 121.3L434.7 123.8Z"/>
<path class="c" color="#a9ff00" d="M443.8 122.6L447.9 120.2L445.4 119.5L441.3 121.9Z"/>
<path class="c" color="#a3ff00" d="M439.7 125.0L443.8 122.6L441.3 121.9L437.2 124.3Z"/>
<path class="m" d="M439.7 125.0L447.9 120.2L442.9 118.9L434.7 123.8Z"/>
<path class="c" color="#7cff00" d="M433 126.9L437.2 124.3L434.7 123.8L430.6 126.4Z"/>
<path class="c" color="#74ff00" d="M428.9 129.5L433 126.9L430.6 126.4L426.5 129.0Z"/>
<path class="c" color="#9dff00" d="M435.5 127.5L439.7 125.0L437.2 124.3L433 126.9Z"/>
<path class="c" color="#95ff00" d="M431.3 130.1L435.5 127.5L433 126.9L428.9 129.5Z"/>
<path class="m" d="M431.3 130.1L439.7 125.0L434.7 123.8L426.5 129.0Z"/>
<path class="c" color="#00ffef" d="M585 82.0L588.4 82.1L585.6 80.2L582.2 80.2Z"/>
<path class="c" color="#00ffd2" d="M581.6 82.1L585 82.0L582.2 80.2L578.7 80.2Z"/>
<path class="c" color="#00ffe8" d="M587.9 84.0L591.3 84.1L588.4 82.1L585 82.0Z"/>
<path class="c" color="#00ffcb" d="M584.4 84.0L587.9 84.0L585 82.0L581.6 82.1Z"/>
<path class="m" d="M584.4 84.0L591.3 84.1L585.6 80.2L578.7 80.2Z"/>
<path class="c" color="#00ffb7" d="M578.1 82.1L581.6 82.1L578.7 80.2L575.2 80.3Z"/>
<path class="c" color="#00ff9c" d="M574.6 82.3L578.1 82.1L575.2 80.3L571.7 80.5Z"/>
<path class="c" color="#00ffaf" d="M580.9 84.1L584.4 84.0L581.6 82.1L578.1 82.1Z"/>
<path class="c" color="#00ff93" d="M577.4 84.2L580.9 84.1L578.1 82.1L574.6 82.3Z"/>
<path class="m" d="M577.4 84.2L584.4 84.0L578.7 80.2L571.7 80.5Z"/>
<path class="c" color="#00ff82" d="M571 82.5L574.6 82.3L571.7 80.5L568.2 80.7Z"/>
<path class="c" color="#00ff6a" d="M567.5 82.7L571 82.5L568.2 80.7L564.6 81.0Z"/>
<path class="c" color="#00ff79" d="M573.9 84.3L577.4 84.2L574.6 82.3L571 82.5Z"/>
<path class="c" color="#00ff60" d="M570.3 84.6L573.9 84.3L571 82.5L567.5 82.7Z"/>
<path class="m" d="M570.3 84.6L577.4 84.2L571.7 80.5L564.6 81.0Z"/>
<path class="c" color="#00ff52" d="M563.9 83.1L567.5 82.7L564.6 81.0L561.1 81.4Z"/>
<path class="c" color="#00ff3b" d="M560.3 83.4L563.9 83.1L561.1 81.4L557.4 81.8Z"/>
<path class="c" color="#00ff48" d="M566.7 84.9L570.3 84.6L567.5 82.7L563.9 83.1Z"/>
<path class="c" color="#00ff30" d="M563.1 85.2L566.7 84.9L563.9 83.1L560.3 83.4Z"/>
<path class="m" d="M563.1 85.2L570.3 84.6L564.6 81.0L557.4 81.8Z"/>
<path class="c" color="#00ff25" d="M556.6 83.9L560.3 83.4L557.4 81.8L553.8 82.3Z"/>
<path class="c" color="#00ff10" d="M553 84.4L556.6 83.9L553.8 82.3L550.1 82.8Z"/>
<path class="c" color="#00ff1a" d="M559.5 85.6L563.1 85.2L560.3 83.4L556.6 83.9Z"/>
<path class="c" color="#00ff04" d="M555.8 86.1L559.5 85.6L556.6 83.9L553 84.4Z"/>
<path class="m" d="M555.8 86.1L563.1 85.2L557.4 81.8L550.1 82.8Z"/>
<path class="c" color="#04ff00" d="M549.3 85.0L553 84.4L550.1 82.8L546.5 83.4Z"/>
<path class="c" color="#17ff00" d="M545.6 85.6L549.3 85.0L546.5 83.4L542.8 84.1Z"/>
<path class="c" color="#10ff00" d="M552.1 86.7L555.8 86.1L553 84.4L549.3 85.0Z"/>
<path class="c" color="#24ff00" d="M548.4 87.3L552.1 86.7L549.3 85.0L545.6 85.6Z"/>
<path class="m" d="M548.4 87.3L555.8 86.1L550.1 82.8L542.8 84.1Z"/>
<path class="c" color="#29ff00" d="M541.8 86.3L545.6 85.6L542.8 84.1L539 84.8Z"/>
<path class="c" color="#3aff00" d="M538.1 87.1L541.8 86.3L539 84.8L535.3 85.6Z"/>
<path class="c" color="#37ff00" d="M544.7 87.9L548.4 87.3L545.6 85.6L541.8 86.3Z"/>
<path class="c" color="#49ff00" d="M540.9 88.7L544.7 87.9L541.8 86.3L538.1 87.1Z"/>
<path class="m" d="M540.9 88.7L548.4 87.3L542.8 84.1L535.3 85.6Z"/>
<path class="c" color="#4bff00" d="M534.3 87.9L538.1 87.1L535.3 85.6L531.5 86.5Z"/>
<path class="c" color="#5aff00" d="M530.5 88.8L534.3 87.9L531.5 86.5L527.7 87.4Z"/>
<path class="c" color="#5aff00" d="M537.1 89.5L540.9 88.7L538.1 87.1L534.3 87.9Z"/>
<path class="c" color="#6aff00" d="M533.3 90.3L537.1 89.5L534.3 87.9L530.5 88.8Z"/>
<path class="m" d="M533.3 90.3L540.9 88.7L535.3 85.6L527.7 87.4Z"/>
<path class="c" color="#68ff00" d="M526.7 89.8L530.5 88.8L527.7 87.4L523.9 88.4Z"/>
<path class="c" color="#76ff00" d="M522.8 90.8L526.7 89.8L523.9 88.4L520 89.4Z"/>
<path class="c" color="#79ff00" d="M529.5 91.3L533.3 90.3L530.5 88.8L526.7 89.8Z"/>
<path class="c" color="#87ff00" d="M525.6 92.3L529.5 91.3L526.7 89.8L522.8 90.8Z"/>
<path class="m" d="M525.6 92.3L533.3 90.3L527.7 87.4L520 89.4Z"/>
<path class="c" color="#83ff00" d="M518.9 91.9L522.8 90.8L520 89.4L516.2 90.6Z"/>
<path class="c" color="#8eff00" d="M515.1 93.0L518.9 91.9L516.2 90.6L512.3 91.7Z"/>
<path class="c" color="#94ff00" d="M521.7 93.3L525.6 92.3L522.8 90.8L518.9 91.9Z"/>
<path class="c" color="#a0ff00" d="M517.8 94.5L521.7 93.3L518.9 91.9L515.1 93.0Z"/>
<path class="m" d="M517.8 94.5L525.6 92.3L520 89.4L512.3 91.7Z"/>
<path class="c" color="#99ff00" d="M511.1 94.3L515.1 93.0L512.3 91.7L508.4 93.0Z"/>
<path class="c" color="#a3ff00" d="M507.2 95.6L511.1 94.3L508.4 93.0L504.5 94.3Z"/>
<path class="c" color="#acff00" d="M513.9 95.7L517.8 94.5L515.1 93.0L511.1 94.3Z"/>
<path class="c" color="#b6ff00" d="M510 96.9L513.9 95.7L511.1 94.3L507.2 95.6Z"/>
<path class="m" d="M510 96.9L517.8 94.5L512.3 91.7L504.5 94.3Z"/>
<path class="c" color="#acff00" d="M503.3 96.9L507.2 95.6L504.5 94.3L500.5 95.7Z"/>
<path class="c" color="#b4ff00" d="M499.3 98.4L503.3 96.9L500.5 95.7L496.6 97.2Z"/>
<path class="c" color="#bfff00" d="M506 98.3L510 96.9L507.2 95.6L503.3 96.9Z"/>
<path class="c" color="#c8ff00" d="M502.1 99.7L506 98.3L503.3 96.9L499.3 98.4Z"/>
<path class="m" d="M502.1 99.7L510 96.9L504.5 94.3L496.6 97.2Z"/>
<path class="c" color="#bbff00" d="M495.3 99.9L499.3 98.4L496.6 97.2L492.6 98.7Z"/>
<path class="c" color="#c1ff00" d="M491.3 101.4L495.3 99.9L492.6 98.7L488.6 100.3Z"/>
<path class="c" color="#cfff00" d="M498.1 101.1L502.1 99.7L499.3 98.4L495.3 99.9Z"/>
<path class="c" color="#d6ff00" d="M494.1 102.7L498.1 101.1L495.3 99.9L491.3 101.4Z"/>
<path class="m" d="M494.1 102.7L502.1 99.7L496.6 97.2L488.6 100.3Z"/>
<path class="c" color="#c6ff00" d="M487.3 103.1L491.3 101.4L488.6 100.3L484.6 102.0Z"/>
<path class="c" color="#caff00" d="M483.3 104.8L487.3 103.1L484.6 102.0L480.6 103.7Z"/>
<path class="c" color="#dcff00" d="M490 104.3L494.1 102.7L491.3 101.4L487.3 103.1Z"/>
<path class="c" color="#e1ff00" d="M486 106.0L490 104.3L487.3 103.1L483.3 104.8Z"/>
<path class="m" d="M486 106.0L494.1 102.7L488.6 100.3L480.6 103.7Z"/>
<path class="c" color="#cdff00" d="M479.2 106.6L483.3 104.8L480.6 103.7L476.5 105.6Z"/>
<path class="c" color="#d0ff00" d="M475.2 108.4L479.2 106.6L476.5 105.6L472.5 107.4Z"/>
<path class="c" color="#e5ff00" d="M481.9 107.7L486 106.0L483.3 104.8L479.2 106.6Z"/>
<path class="c" color="#e8ff00" d="M477.8 109.6L481.9 107.7L479.2 106.6L475.2 108.4Z"/>
<path class="m" d="M477.8 109.6L486 106.0L480.6 103.7L472.5 107.4Z"/>
<path class="c" color="#d1ff00" d="M471.1 110.4L475.2 108.4L472.5 107.4L468.4 109.4Z"/>
<path class="c" color="#d2ff00" d="M467 112.4L471.1 110.4L468.4 109.4L464.4 111.4Z"/>
<path class="c" color="#eaff00" d="M473.7 111.5L477.8 109.6L475.2 108.4L471.1 110.4Z"/>
<path class="c" color="#ebff00" d="M469.6 113.4L473.7 111.5L471.1 110.4L467 112.4Z"/>
<path class="m" d="M469.6 113.4L477.8 109.6L472.5 107.4L464.4 111.4Z"/>
<path class="c" color="#d1ff00" d="M462.9 114.4L467 112.4L464.4 111.4L460.3 113.5Z"/>
<path class="c" color="#d0ff00" d="M458.8 116.6L462.9 114.4L460.3 113.5L456.2 115.7Z"/>
<path class="c" color="#ebff00" d="M465.5 115.5L469.6 113.4L467 112.4L462.9 114.4Z"/>
<path class="c" color="#eaff00" d="M461.4 117.6L465.5 115.5L462.9 114.4L458.8 116.6Z"/>
<path class="m" d="M461.4 117.6L469.6 113.4L464.4 111.4L456.2 115.7Z"/>
<path class="c" color="#ceff00" d="M454.6 118.8L458.8 116.6L456.2 115.7L452.1 117.9Z"/>
<path class="c" color="#cbff00" d="M450.5 121.0L454.6 118.8L452.1 117.9L447.9 120.2Z"/>
<path class="c" color="#e8ff00" d="M457.2 119.8L461.4 117.6L458.8 116.6L454.6 118.8Z"/>
<path class="c" color="#e6ff00" d="M453.1 122.0L457.2 119.8L454.6 118.8L450.5 121.0Z"/>
<path class="m" d="M453.1 122.0L461.4 117.6L456.2 115.7L447.9 120.2Z"/>
<path class="c" color="#c6ff00" d="M446.3 123.4L450.5 121.0L447.9 120.2L443.8 122.6Z"/>
<path class="c" color="#c1ff00" d="M442.2 125.8L446.3 123.4L443.8 122.6L439.7 125.0Z"/>
<path class="c" color="#e2ff00" d="M448.9 124.3L453.1 122.0L450.5 121.0L446.3 123.4Z"/>
<path class="c" color="#deff00" d="M444.7 126.7L448.9 124.3L446.3 123.4L442.2 125.8Z"/>
<path class="m" d="M444.7 126.7L453.1 122.0L447.9 120.2L439.7 125.0Z"/>
<path class="c" color="#bbff00" d="M438 128.3L442.2 125.8L439.7 125.0L435.5 127.5Z"/>
<path class="c" color="#b4ff00" d="M433.8 130.8L438 128.3L435.5 127.5L431.3 130.1Z"/>
<path class="c" color="#d8ff00" d="M440.5 129.2L444.7 126.7L442.2 125.8L438 128.3Z"/>
<path class="c" color="#d2ff00" d="M436.4 131.7L440.5 129.2L438 128.3L433.8 130.8Z"/>
<path class="m" d="M436.4 131.7L444.7 126.7L439.7 125.0L431.3 130.1Z"/>
<path class="c" color="#00ffe2" d="M590.7 86.1L594.1 86.2L591.3 84.1L587.9 84.0Z"/>
<path class="c" color="#00ffc5" d="M587.3 86.1L590.7 86.1L587.9 84.0L584.4 84.0Z"/>
<path class="c" color="#00ffdf" d="M593.6 88.3L597 88.5L594.1 86.2L590.7 86.1Z"/>
<path class="c" color="#00ffc1" d="M590.1 88.3L593.6 88.3L590.7 86.1L587.3 86.1Z"/>
<path class="m" d="M590.1 88.3L597 88.5L591.3 84.1L584.4 84.0Z"/>
<path class="c" color="#00ffa8" d="M583.8 86.1L587.3 86.1L584.4 84.0L580.9 84.1Z"/>
<path class="c" color="#00ff8c" d="M580.3 86.2L583.8 86.1L580.9 84.1L577.4 84.2Z"/>
<path class="c" color="#00ffa4" d="M586.7 88.3L590.1 88.3L587.3 86.1L583.8 86.1Z"/>
<path class="c" color="#00ff87" d="M583.2 88.3L586.7 88.3L583.8 86.1L580.3 86.2Z"/>
<path class="m" d="M583.2 88.3L590.1 88.3L584.4 84.0L577.4 84.2Z"/>
<path class="c" color="#00ff72" d="M576.7 86.3L580.3 86.2L577.4 84.2L573.9 84.3Z"/>
<path class="c" color="#00ff58" d="M573.2 86.5L576.7 86.3L573.9 84.3L570.3 84.6Z"/>
<path class="c" color="#00ff6c" d="M579.6 88.4L583.2 88.3L580.3 86.2L576.7 86.3Z"/>
<path class="c" color="#00ff52" d="M576.1 88.6L579.6 88.4L576.7 86.3L573.2 86.5Z"/>
<path class="m" d="M576.1 88.6L583.2 88.3L577.4 84.2L570.3 84.6Z"/>
<path class="c" color="#00ff3f" d="M569.6 86.8L573.2 86.5L570.3 84.6L566.7 84.9Z"/>
<path class="c" color="#00ff27" d="M566 87.1L569.6 86.8L566.7 84.9L563.1 85.2Z"/>
<path class="c" color="#00ff38" d="M572.5 88.9L576.1 88.6L573.2 86.5L569.6 86.8Z"/>
<path class="c" color="#00ff20" d="M568.9 89.2L572.5 88.9L569.6 86.8L566 87.1Z"/>
<path class="m" d="M568.9 89.2L576.1 88.6L570.3 84.6L563.1 85.2Z"/>
<path class="c" color="#00ff10" d="M562.3 87.5L566 87.1L563.1 85.2L559.5 85.6Z"/>
<path class="c" color="#06ff00" d="M558.7 88.0L562.3 87.5L559.5 85.6L555.8 86.1Z"/>
<path class="c" color="#00ff08" d="M565.2 89.5L568.9 89.2L566 87.1L562.3 87.5Z"/>
<path class="c" color="#0fff00" d="M561.5 89.9L565.2 89.5L562.3 87.5L558.7 88.0Z"/>
<path class="m" d="M561.5 89.9L568.9 89.2L563.1 85.2L555.8 86.1Z"/>
<path class="c" color="#1bff00" d="M555 88.5L558.7 88.0L555.8 86.1L552.1 86.7Z"/>
<path class="c" color="#30ff00" d="M551.3 89.0L555 88.5L552.1 86.7L548.4 87.3Z"/>
<path class="c" color="#25ff00" d="M557.8 90.4L561.5 89.9L558.7 88.0L555 88.5Z"/>
<path class="c" color="#39ff00" d="M554.1 91.0L557.8 90.4L555 88.5L551.3 89.0Z"/>
<path class="m" d="M554.1 91.0L561.5 89.9L555.8 86.1L548.4 87.3Z"/>
<path class="c" color="#43ff00" d="M547.5 89.7L551.3 89.0L548.4 87.3L544.7 87.9Z"/>
<path class="c" color="#55ff00" d="M543.7 90.4L547.5 89.7L544.7 87.9L540.9 88.7Z"/>
<path class="c" color="#4dff00" d="M550.4 91.6L554.1 91.0L551.3 89.0L547.5 89.7Z"/>
<path class="c" color="#60ff00" d="M546.6 92.2L550.4 91.6L547.5 89.7L543.7 90.4Z"/>
<path class="m" d="M546.6 92.2L554.1 91.0L548.4 87.3L540.9 88.7Z"/>
<path class="c" color="#67ff00" d="M540 91.2L543.7 90.4L540.9 88.7L537.1 89.5Z"/>
<path class="c" color="#77ff00" d="M536.1 92.0L540 91.2L537.1 89.5L533.3 90.3Z"/>
<path class="c" color="#72ff00" d="M542.8 93.0L546.6 92.2L543.7 90.4L540 91.2Z"/>
<path class="c" color="#83ff00" d="M539 93.8L542.8 93.0L540 91.2L536.1 92.0Z"/>
<path class="m" d="M539 93.8L546.6 92.2L540.9 88.7L533.3 90.3Z"/>
<path class="c" color="#87ff00" d="M532.3 92.9L536.1 92.0L533.3 90.3L529.5 91.3Z"/>
<path class="c" color="#96ff00" d="M528.4 93.9L532.3 92.9L529.5 91.3L525.6 92.3Z"/>
<path class="c" color="#94ff00" d="M535.2 94.7L539 93.8L536.1 92.0L532.3 92.9Z"/>
<path class="c" color="#a3ff00" d="M531.3 95.6L535.2 94.7L532.3 92.9L528.4 93.9Z"/>
<path class="m" d="M531.3 95.6L539 93.8L533.3 90.3L525.6 92.3Z"/>
<path class="c" color="#a3ff00" d="M524.6 94.9L528.4 93.9L525.6 92.3L521.7 93.3Z"/>
<path class="c" color="#b0ff00" d="M520.7 96.0L524.6 94.9L521.7 93.3L517.8 94.5Z"/>
<path class="c" color="#b1ff00" d="M527.4 96.6L531.3 95.6L528.4 93.9L524.6 94.9Z"/>
<path class="c" color="#bfff00" d="M523.5 97.7L527.4 96.6L524.6 94.9L520.7 96.0Z"/>
<path class="m" d="M523.5 97.7L531.3 95.6L525.6 92.3L517.8 94.5Z"/>
<path class="c" color="#bcff00" d="M516.7 97.2L520.7 96.0L517.8 94.5L513.9 95.7Z"/>
<path class="c" color="#c7ff00" d="M512.8 98.4L516.7 97.2L513.9 95.7L510 96.9Z"/>
<path class="c" color="#cbff00" d="M519.6 98.8L523.5 97.7L520.7 96.0L516.7 97.2Z"/>
<path class="c" color="#d7ff00" d="M515.6 100.0L519.6 98.8L516.7 97.2L512.8 98.4Z"/>
<path class="m" d="M515.6 100.0L523.5 97.7L517.8 94.5L510 96.9Z"/>
<path class="c" color="#d1ff00" d="M508.8 99.7L512.8 98.4L510 96.9L506 98.3Z"/>
<path class="c" color="#daff00" d="M504.8 101.1L508.8 99.7L506 98.3L502.1 99.7Z"/>
<path class="c" color="#e1ff00" d="M511.6 101.3L515.6 100.0L512.8 98.4L508.8 99.7Z"/>
<path class="c" color="#ebff00" d="M507.6 102.7L511.6 101.3L508.8 99.7L504.8 101.1Z"/>
<path class="m" d="M507.6 102.7L515.6 100.0L510 96.9L502.1 99.7Z"/>
<path class="c" color="#e2ff00" d="M500.8 102.5L504.8 101.1L502.1 99.7L498.1 101.1Z"/>
<path class="c" color="#eaff00" d="M496.8 104.1L500.8 102.5L498.1 101.1L494.1 102.7Z"/>
<path class="c" color="#f4ff00" d="M503.6 104.1L507.6 102.7L504.8 101.1L500.8 102.5Z"/>
<path class="c" color="#fcff00" d="M499.6 105.6L503.6 104.1L500.8 102.5L496.8 104.1Z"/>
<path class="m" d="M499.6 105.6L507.6 102.7L502.1 99.7L494.1 102.7Z"/>
<path class="c" color="#f0ff00" d="M492.8 105.6L496.8 104.1L494.1 102.7L490 104.3Z"/>
<path class="c" color="#f5ff00" d="M488.7 107.3L492.8 105.6L490 104.3L486 106.0Z"/>
<path class="c" color="#fffc00" d="M495.6 107.1L499.6 105.6L496.8 104.1L492.8 105.6Z"/>
<path class="c" color="#fff600" d="M491.5 108.8L495.6 107.1L492.8 105.6L488.7 107.3Z"/>
<path class="m" d="M491.5 108.8L499.6 105.6L494.1 102.7L486 106.0Z"/>
<path class="c" color="#faff00" d="M484.6 109.0L488.7 107.3L486 106.0L481.9 107.7Z"/>
<path class="c" color="#fdff00" d="M480.6 110.8L484.6 109.0L481.9 107.7L477.8 109.6Z"/>
<path class="c" color="#fff100" d="M487.4 110.5L491.5 108.8L488.7 107.3L484.6 109.0Z"/>
<path class="c" color="#ffec00" d="M483.3 112.2L487.4 110.5L484.6 109.0L480.6 110.8Z"/>
<path class="m" d="M483.3 112.2L491.5 108.8L486 106.0L477.8 109.6Z"/>
<path class="c" color="#fffe00" d="M476.4 112.7L480.6 110.8L477.8 109.6L473.7 111.5Z"/>
<path class="c" color="#fffc00" d="M472.3 114.6L476.4 112.7L473.7 111.5L469.6 113.4Z"/>
<path class="c" color="#ffe900" d="M479.2 114.1L483.3 112.2L480.6 110.8L476.4 112.7Z"/>
<path class="c" color="#ffe700" d="M475 116.0L479.2 114.1L476.4 112.7L472.3 114.6Z"/>
<path class="m" d="M475 116.0L483.3 112.2L477.8 109.6L469.6 113.4Z"/>
<path class="c" color="#fffc00" d="M468.2 116.6L472.3 114.6L469.6 113.4L465.5 115.5Z"/>
<path class="c" color="#fffc00" d="M464 118.7L468.2 116.6L465.5 115.5L461.4 117.6Z"/>
<path class="c" color="#ffe600" d="M470.9 118.0L475 116.0L472.3 114.6L468.2 116.6Z"/>
<path class="c" color="#ffe500" d="M466.7 120.0L470.9 118.0L468.2 116.6L464 118.7Z"/>
<path class="m" d="M466.7 120.0L475 116.0L469.6 113.4L461.4 117.6Z"/>
<path class="c" color="#fffd00" d="M459.9 120.9L464 118.7L461.4 117.6L457.2 119.8Z"/>
<path class="c" color="#ffff00" d="M455.7 123.1L459.9 120.9L457.2 119.8L453.1 122.0Z"/>
<path class="c" color="#ffe600" d="M462.6 122.1L466.7 120.0L464 118.7L459.9 120.9Z"/>
<path class="c" color="#ffe700" d="M458.4 124.3L462.6 122.1L459.9 120.9L455.7 123.1Z"/>
<path class="m" d="M458.4 124.3L466.7 120.0L461.4 117.6L453.1 122.0Z"/>
<path class="c" color="#fcff00" d="M451.5 125.4L455.7 123.1L453.1 122.0L448.9 124.3Z"/>
<path class="c" color="#f8ff00" d="M447.3 127.8L451.5 125.4L448.9 124.3L444.7 126.7Z"/>
<path class="c" color="#ffea00" d="M454.2 126.6L458.4 124.3L455.7 123.1L451.5 125.4Z"/>
<path class="c" color="#ffed00" d="M450 128.9L454.2 126.6L451.5 125.4L447.3 127.8Z"/>
<path class="m" d="M450 128.9L458.4 124.3L453.1 122.0L444.7 126.7Z"/>
<path class="c" color="#f3ff00" d="M443.1 130.2L447.3 127.8L444.7 126.7L440.5 129.2Z"/>
<path class="c" color="#edff00" d="M438.9 132.7L443.1 130.2L440.5 129.2L436.4 131.7Z"/>
<path class="c" color="#fff100" d="M445.7 131.3L450 128.9L447.3 127.8L443.1 130.2Z"/>
<path class="c" color="#fff700" d="M441.5 133.8L445.7 131.3L443.1 130.2L438.9 132.7Z"/>
<path class="m" d="M441.5 133.8L450 128.9L444.7 126.7L436.4 131.7Z"/>
<path class="c" color="#00ffdd" d="M596.5 90.7L599.9 90.8L597 88.5L593.6 88.3Z"/>
<path class="c" color="#00ffbf" d="M593 90.6L596.5 90.7L593.6 88.3L590.1 88.3Z"/>
<path class="c" color="#00ffde" d="M599.3 93.2L602.8 93.3L599.9 90.8L596.5 90.7Z"/>
<path class="c" color="#00ffbe" d="M595.9 93.1L599.3 93.2L596.5 90.7L593 90.6Z"/>
<path class="m" d="M595.9 93.1L602.8 93.3L597 88.5L590.1 88.3Z"/>
<path class="c" color="#00ffa1" d="M589.5 90.6L593 90.6L590.1 88.3L586.7 88.3Z"/>
<path class="c" color="#00ff84" d="M586 90.6L589.5 90.6L586.7 88.3L583.2 88.3Z"/>
<path class="c" color="#00ffa0" d="M592.4 93.0L595.9 93.1L593 90.6L589.5 90.6Z"/>
<path class="c" color="#00ff82" d="M588.9 93.0L592.4 93.0L589.5 90.6L586 90.6Z"/>
<path class="m" d="M588.9 93.0L595.9 93.1L590.1 88.3L583.2 88.3Z"/>
<path class="c" color="#00ff68" d="M582.5 90.7L586 90.6L583.2 88.3L579.6 88.4Z"/>
<path class="c" color="#00ff4d" d="M578.9 90.8L582.5 90.7L579.6 88.4L576.1 88.6Z"/>
<path class="c" color="#00ff66" d="M585.4 93.1L588.9 93.0L586 90.6L582.5 90.7Z"/>
<path class="c" color="#00ff4a" d="M581.8 93.2L585.4 93.1L582.5 90.7L578.9 90.8Z"/>
<path class="m" d="M581.8 93.2L588.9 93.0L583.2 88.3L576.1 88.6Z"/>
<path class="c" color="#00ff33" d="M575.4 91.0L578.9 90.8L576.1 88.6L572.5 88.9Z"/>
<path class="c" color="#00ff1a" d="M571.7 91.3L575.4 91.0L572.5 88.9L568.9 89.2Z"/>
<path class="c" color="#00ff30" d="M578.3 93.3L581.8 93.2L578.9 90.8L575.4 91.0Z"/>
<path class="c" color="#00ff16" d="M574.6 93.6L578.3 93.3L575.4 91.0L571.7 91.3Z"/>
<path class="m" d="M574.6 93.6L581.8 93.2L576.1 88.6L568.9 89.2Z"/>
<path class="c" color="#00ff02" d="M568.1 91.6L571.7 91.3L568.9 89.2L565.2 89.5Z"/>
<path class="c" color="#16ff00" d="M564.4 92.0L568.1 91.6L565.2 89.5L561.5 89.9Z"/>
<path class="c" color="#03ff00" d="M571 93.9L574.6 93.6L571.7 91.3L568.1 91.6Z"/>
<path class="c" color="#1bff00" d="M567.3 94.2L571 93.9L568.1 91.6L564.4 92.0Z"/>
<path class="m" d="M567.3 94.2L574.6 93.6L568.9 89.2L561.5 89.9Z"/>
<path class="c" color="#2cff00" d="M560.7 92.5L564.4 92.0L561.5 89.9L557.8 90.4Z"/>
<path class="c" color="#41ff00" d="M557 93.0L560.7 92.5L557.8 90.4L554.1 91.0Z"/>
<path class="c" color="#32ff00" d="M563.6 94.7L567.3 94.2L564.4 92.0L560.7 92.5Z"/>
<path class="c" color="#48ff00" d="M559.9 95.2L563.6 94.7L560.7 92.5L557 93.0Z"/>
<path class="m" d="M559.9 95.2L567.3 94.2L561.5 89.9L554.1 91.0Z"/>
<path class="c" color="#56ff00" d="M553.3 93.6L557 93.0L554.1 91.0L550.4 91.6Z"/>
<path class="c" color="#69ff00" d="M549.5 94.2L553.3 93.6L550.4 91.6L546.6 92.2Z"/>
<path class="c" color="#5dff00" d="M556.2 95.7L559.9 95.2L557 93.0L553.3 93.6Z"/>
<path class="c" color="#71ff00" d="M552.4 96.3L556.2 95.7L553.3 93.6L549.5 94.2Z"/>
<path class="m" d="M552.4 96.3L559.9 95.2L554.1 91.0L546.6 92.2Z"/>
<path class="c" color="#7cff00" d="M545.7 94.9L549.5 94.2L546.6 92.2L542.8 93.0Z"/>
<path class="c" color="#8eff00" d="M541.9 95.7L545.7 94.9L542.8 93.0L539 93.8Z"/>
<path class="c" color="#84ff00" d="M548.6 97.0L552.4 96.3L549.5 94.2L545.7 94.9Z"/>
<path class="c" color="#96ff00" d="M544.8 97.8L548.6 97.0L545.7 94.9L541.9 95.7Z"/>
<path class="m" d="M544.8 97.8L552.4 96.3L546.6 92.2L539 93.8Z"/>
<path class="c" color="#9eff00" d="M538 96.6L541.9 95.7L539 93.8L535.2 94.7Z"/>
<path class="c" color="#aeff00" d="M534.2 97.5L538 96.6L535.2 94.7L531.3 95.6Z"/>
<path class="c" color="#a8ff00" d="M540.9 98.6L544.8 97.8L541.9 95.7L538 96.6Z"/>
<path class="c" color="#b8ff00" d="M537.1 99.5L540.9 98.6L538 96.6L534.2 97.5Z"/>
<path class="m" d="M537.1 99.5L544.8 97.8L539 93.8L531.3 95.6Z"/>
<path class="c" color="#bdff00" d="M530.3 98.4L534.2 97.5L531.3 95.6L527.4 96.6Z"/>
<path class="c" color="#cbff00" d="M526.4 99.5L530.3 98.4L527.4 96.6L523.5 97.7Z"/>
<path class="c" color="#c7ff00" d="M533.2 100.4L537.1 99.5L534.2 97.5L530.3 98.4Z"/>
<path class="c" color="#d6ff00" d="M529.2 101.4L533.2 100.4L530.3 98.4L526.4 99.5Z"/>
<path class="m" d="M529.2 101.4L537.1 99.5L531.3 95.6L523.5 97.7Z"/>
<path class="c" color="#d8ff00" d="M522.4 100.6L526.4 99.5L523.5 97.7L519.6 98.8Z"/>
<path class="c" color="#e4ff00" d="M518.5 101.8L522.4 100.6L519.6 98.8L515.6 100.0Z"/>
<path class="c" color="#e4ff00" d="M525.3 102.5L529.2 101.4L526.4 99.5L522.4 100.6Z"/>
<path class="c" color="#f0ff00" d="M521.3 103.7L525.3 102.5L522.4 100.6L518.5 101.8Z"/>
<path class="m" d="M521.3 103.7L529.2 101.4L523.5 97.7L515.6 100.0Z"/>
<path class="c" color="#f0ff00" d="M514.5 103.0L518.5 101.8L515.6 100.0L511.6 101.3Z"/>
<path class="c" color="#faff00" d="M510.5 104.4L514.5 103.0L511.6 101.3L507.6 102.7Z"/>
<path class="c" color="#fcff00" d="M517.3 104.9L521.3 103.7L518.5 101.8L514.5 103.0Z"/>
<path class="c" color="#fff700" d="M513.3 106.2L517.3 104.9L514.5 103.0L510.5 104.4Z"/>
<path class="m" d="M513.3 106.2L521.3 103.7L515.6 100.0L507.6 102.7Z"/>
<path class="c" color="#fffb00" d="M506.5 105.7L510.5 104.4L507.6 102.7L503.6 104.1Z"/>
<path class="c" color="#fff200" d="M502.4 107.2L506.5 105.7L503.6 104.1L499.6 105.6Z"/>
<path class="c" color="#ffed00" d="M509.3 107.5L513.3 106.2L510.5 104.4L506.5 105.7Z"/>
<path class="c" color="#ffe400" d="M505.3 109.0L509.3 107.5L506.5 105.7L502.4 107.2Z"/>
<path class="m" d="M505.3 109.0L513.3 106.2L507.6 102.7L499.6 105.6Z"/>
<path class="c" color="#ffeb00" d="M498.4 108.7L502.4 107.2L499.6 105.6L495.6 107.1Z"/>
<path class="c" color="#ffe400" d="M494.3 110.3L498.4 108.7L495.6 107.1L491.5 108.8Z"/>
<path class="c" color="#ffdc00" d="M501.2 110.5L505.3 109.0L502.4 107.2L498.4 108.7Z"/>
<path class="c" color="#ffd500" d="M497.1 112.0L501.2 110.5L498.4 108.7L494.3 110.3Z"/>
<path class="m" d="M497.1 112.0L505.3 109.0L499.6 105.6L491.5 108.8Z"/>
<path class="c" color="#ffdf00" d="M490.2 112.0L494.3 110.3L491.5 108.8L487.4 110.5Z"/>
<path class="c" color="#ffda00" d="M486.1 113.7L490.2 112.0L487.4 110.5L483.3 112.2Z"/>
<path class="c" color="#ffcf00" d="M493 113.7L497.1 112.0L494.3 110.3L490.2 112.0Z"/>
<path class="c" color="#ffca00" d="M488.9 115.4L493 113.7L490.2 112.0L486.1 113.7Z"/>
<path class="m" d="M488.9 115.4L497.1 112.0L491.5 108.8L483.3 112.2Z"/>
<path class="c" color="#ffd600" d="M481.9 115.6L486.1 113.7L483.3 112.2L479.2 114.1Z"/>
<path class="c" color="#ffd400" d="M477.8 117.4L481.9 115.6L479.2 114.1L475 116.0Z"/>
<path class="c" color="#ffc500" d="M484.7 117.2L488.9 115.4L486.1 113.7L481.9 115.6Z"/>
<path class="c" color="#ffc200" d="M480.6 119.0L484.7 117.2L481.9 115.6L477.8 117.4Z"/>
<path class="m" d="M480.6 119.0L488.9 115.4L483.3 112.2L475 116.0Z"/>
<path class="c" color="#ffd200" d="M473.6 119.4L477.8 117.4L475 116.0L470.9 118.0Z"/>
<path class="c" color="#ffd100" d="M469.5 121.4L473.6 119.4L470.9 118.0L466.7 120.0Z"/>
<path class="c" color="#ffbf00" d="M476.4 121.0L480.6 119.0L477.8 117.4L473.6 119.4Z"/>
<path class="c" color="#ffbe00" d="M472.2 123.0L476.4 121.0L473.6 119.4L469.5 121.4Z"/>
<path class="m" d="M472.2 123.0L480.6 119.0L475 116.0L466.7 120.0Z"/>
<path class="c" color="#ffd100" d="M465.3 123.5L469.5 121.4L466.7 120.0L462.6 122.1Z"/>
<path class="c" color="#ffd200" d="M461.1 125.7L465.3 123.5L462.6 122.1L458.4 124.3Z"/>
<path class="c" color="#ffbd00" d="M468 125.0L472.2 123.0L469.5 121.4L465.3 123.5Z"/>
<path class="c" color="#ffbe00" d="M463.8 127.2L468 125.0L465.3 123.5L461.1 125.7Z"/>
<path class="m" d="M463.8 127.2L472.2 123.0L466.7 120.0L458.4 124.3Z"/>
<path class="c" color="#ffd400" d="M456.8 127.9L461.1 125.7L458.4 124.3L454.2 126.6Z"/>
<path class="c" color="#ffd600" d="M452.6 130.2L456.8 127.9L454.2 126.6L450 128.9Z"/>
<path class="c" color="#ffbf00" d="M459.6 129.4L463.8 127.2L461.1 125.7L456.8 127.9Z"/>
<path class="c" color="#ffc100" d="M455.3 131.7L459.6 129.4L456.8 127.9L452.6 130.2Z"/>
<path class="m" d="M455.3 131.7L463.8 127.2L458.4 124.3L450 128.9Z"/>
<path class="c" color="#ffda00" d="M448.4 132.6L452.6 130.2L450 128.9L445.7 131.3Z"/>
<path class="c" color="#ffdf00" d="M444.1 135.1L448.4 132.6L445.7 131.3L441.5 133.8Z"/>
<path class="c" color="#ffc400" d="M451.1 134.0L455.3 131.7L452.6 130.2L448.4 132.6Z"/>
<path class="c" color="#ffc800" d="M446.8 136.5L451.1 134.0L448.4 132.6L444.1 135.1Z"/>
<path class="m" d="M446.8 136.5L455.3 131.7L450 128.9L441.5 133.8Z"/>
<path class="c" color="#00ffdf" d="M602.2 95.8L605.6 96.0L602.8 93.3L599.3 93.2Z"/>
<path class="c" color="#00ffc0" d="M598.8 95.6L602.2 95.8L599.3 93.2L595.9 93.1Z"/>
<path class="c" color="#00ffe3" d="M605.1 98.5L608.5 98.7L605.6 96.0L602.2 95.8Z"/>
<path class="c" color="#00ffc3" d="M601.7 98.3L605.1 98.5L602.2 95.8L598.8 95.6Z"/>
<path class="m" d="M601.7 98.3L608.5 98.7L602.8 93.3L595.9 93.1Z"/>
<path class="c" color="#00ffa1" d="M595.3 95.5L598.8 95.6L595.9 93.1L592.4 93.0Z"/>
<path class="c" color="#00ff83" d="M591.8 95.5L595.3 95.5L592.4 93.0L588.9 93.0Z"/>
<path class="c" color="#00ffa3" d="M598.2 98.2L601.7 98.3L598.8 95.6L595.3 95.5Z"/>
<path class="c" color="#00ff85" d="M594.7 98.2L598.2 98.2L595.3 95.5L591.8 95.5Z"/>
<path class="m" d="M594.7 98.2L601.7 98.3L595.9 93.1L588.9 93.0Z"/>
<path class="c" color="#00ff66" d="M588.3 95.5L591.8 95.5L588.9 93.0L585.4 93.1Z"/>
<path class="c" color="#00ff49" d="M584.8 95.6L588.3 95.5L585.4 93.1L581.8 93.2Z"/>
<path class="c" color="#00ff67" d="M591.2 98.2L594.7 98.2L591.8 95.5L588.3 95.5Z"/>
<path class="c" color="#00ff4a" d="M587.7 98.2L591.2 98.2L588.3 95.5L584.8 95.6Z"/>
<path class="m" d="M587.7 98.2L594.7 98.2L588.9 93.0L581.8 93.2Z"/>
<path class="c" color="#00ff2e" d="M581.2 95.8L584.8 95.6L581.8 93.2L578.3 93.3Z"/>
<path class="c" color="#00ff14" d="M577.6 96.0L581.2 95.8L578.3 93.3L574.6 93.6Z"/>
<path class="c" color="#00ff2f" d="M584.1 98.3L587.7 98.2L584.8 95.6L581.2 95.8Z"/>
<path class="c" color="#00ff14" d="M580.5 98.5L584.1 98.3L581.2 95.8L577.6 96.0Z"/>
<path class="m" d="M580.5 98.5L587.7 98.2L581.8 93.2L574.6 93.6Z"/>
<path class="c" color="#05ff00" d="M573.9 96.3L577.6 96.0L574.6 93.6L571 93.9Z"/>
<path class="c" color="#1eff00" d="M570.3 96.6L573.9 96.3L571 93.9L567.3 94.2Z"/>
<path class="c" color="#06ff00" d="M576.9 98.8L580.5 98.5L577.6 96.0L573.9 96.3Z"/>
<path class="c" color="#1fff00" d="M573.2 99.1L576.9 98.8L573.9 96.3L570.3 96.6Z"/>
<path class="m" d="M573.2 99.1L580.5 98.5L574.6 93.6L567.3 94.2Z"/>
<path class="c" color="#35ff00" d="M566.6 97.0L570.3 96.6L567.3 94.2L563.6 94.7Z"/>
<path class="c" color="#4cff00" d="M562.8 97.5L566.6 97.0L563.6 94.7L559.9 95.2Z"/>
<path class="c" color="#37ff00" d="M569.5 99.5L573.2 99.1L570.3 96.6L566.6 97.0Z"/>
<path class="c" color="#4fff00" d="M565.8 99.9L569.5 99.5L566.6 97.0L562.8 97.5Z"/>
<path class="m" d="M565.8 99.9L573.2 99.1L567.3 94.2L559.9 95.2Z"/>
<path class="c" color="#62ff00" d="M559.1 98.0L562.8 97.5L559.9 95.2L556.2 95.7Z"/>
<path class="c" color="#76ff00" d="M555.3 98.6L559.1 98.0L556.2 95.7L552.4 96.3Z"/>
<path class="c" color="#65ff00" d="M562 100.4L565.8 99.9L562.8 97.5L559.1 98.0Z"/>
<path class="c" color="#7aff00" d="M558.3 100.9L562 100.4L559.1 98.0L555.3 98.6Z"/>
<path class="m" d="M558.3 100.9L565.8 99.9L559.9 95.2L552.4 96.3Z"/>
<path class="c" color="#8aff00" d="M551.5 99.2L555.3 98.6L552.4 96.3L548.6 97.0Z"/>
<path class="c" color="#9dff00" d="M547.7 100.0L551.5 99.2L548.6 97.0L544.8 97.8Z"/>
<path class="c" color="#8eff00" d="M554.5 101.6L558.3 100.9L555.3 98.6L551.5 99.2Z"/>
<path class="c" color="#a2ff00" d="M550.6 102.3L554.5 101.6L551.5 99.2L547.7 100.0Z"/>
<path class="m" d="M550.6 102.3L558.3 100.9L552.4 96.3L544.8 97.8Z"/>
<path class="c" color="#afff00" d="M543.8 100.7L547.7 100.0L544.8 97.8L540.9 98.6Z"/>
<path class="c" color="#c0ff00" d="M540 101.6L543.8 100.7L540.9 98.6L537.1 99.5Z"/>
<path class="c" color="#b4ff00" d="M546.8 103.0L550.6 102.3L547.7 100.0L543.8 100.7Z"/>
<path class="c" color="#c6ff00" d="M542.9 103.8L546.8 103.0L543.8 100.7L540 101.6Z"/>
<path class="m" d="M542.9 103.8L550.6 102.3L544.8 97.8L537.1 99.5Z"/>
<path class="c" color="#d0ff00" d="M536.1 102.5L540 101.6L537.1 99.5L533.2 100.4Z"/>
<path class="c" color="#dfff00" d="M532.1 103.5L536.1 102.5L533.2 100.4L529.2 101.4Z"/>
<path class="c" color="#d6ff00" d="M539 104.7L542.9 103.8L540 101.6L536.1 102.5Z"/>
<path class="c" color="#e6ff00" d="M535.1 105.7L539 104.7L536.1 102.5L532.1 103.5Z"/>
<path class="m" d="M535.1 105.7L542.9 103.8L537.1 99.5L529.2 101.4Z"/>
<path class="c" color="#edff00" d="M528.2 104.6L532.1 103.5L529.2 101.4L525.3 102.5Z"/>
<path class="c" color="#faff00" d="M524.2 105.7L528.2 104.6L525.3 102.5L521.3 103.7Z"/>
<path class="c" color="#f5ff00" d="M531.1 106.7L535.1 105.7L532.1 103.5L528.2 104.6Z"/>
<path class="c" color="#fffb00" d="M527.1 107.8L531.1 106.7L528.2 104.6L524.2 105.7Z"/>
<path class="m" d="M527.1 107.8L535.1 105.7L529.2 101.4L521.3 103.7Z"/>
<path class="c" color="#fff700" d="M520.2 106.9L524.2 105.7L521.3 103.7L517.3 104.9Z"/>
<path class="c" color="#ffec00" d="M516.2 108.1L520.2 106.9L517.3 104.9L513.3 106.2Z"/>
<path class="c" color="#ffee00" d="M523.1 109.0L527.1 107.8L524.2 105.7L520.2 106.9Z"/>
<path class="c" color="#ffe200" d="M519.1 110.2L523.1 109.0L520.2 106.9L516.2 108.1Z"/>
<path class="m" d="M519.1 110.2L527.1 107.8L521.3 103.7L513.3 106.2Z"/>
<path class="c" color="#ffe100" d="M512.2 109.5L516.2 108.1L513.3 106.2L509.3 107.5Z"/>
<path class="c" color="#ffd800" d="M508.1 110.9L512.2 109.5L509.3 107.5L505.3 109.0Z"/>
<path class="c" color="#ffd700" d="M515.1 111.5L519.1 110.2L516.2 108.1L512.2 109.5Z"/>
<path class="c" color="#ffcd00" d="M511 112.9L515.1 111.5L512.2 109.5L508.1 110.9Z"/>
<path class="m" d="M511 112.9L519.1 110.2L513.3 106.2L505.3 109.0Z"/>
<path class="c" color="#ffcf00" d="M504 112.3L508.1 110.9L505.3 109.0L501.2 110.5Z"/>
<path class="c" color="#ffc700" d="M499.9 113.9L504 112.3L501.2 110.5L497.1 112.0Z"/>
<path class="c" color="#ffc400" d="M506.9 114.3L511 112.9L508.1 110.9L504 112.3Z"/>
<path class="c" color="#ffbc00" d="M502.8 115.9L506.9 114.3L504 112.3L499.9 113.9Z"/>
<path class="m" d="M502.8 115.9L511 112.9L505.3 109.0L497.1 112.0Z"/>
<path class="c" color="#ffc100" d="M495.8 115.5L499.9 113.9L497.1 112.0L493 113.7Z"/>
<path class="c" color="#ffbb00" d="M491.7 117.2L495.8 115.5L493 113.7L488.9 115.4Z"/>
<path class="c" color="#ffb400" d="M498.7 117.4L502.8 115.9L499.9 113.9L495.8 115.5Z"/>
<path class="c" color="#ffae00" d="M494.6 119.1L498.7 117.4L495.8 115.5L491.7 117.2Z"/>
<path class="m" d="M494.6 119.1L502.8 115.9L497.1 112.0L488.9 115.4Z"/>
<path class="c" color="#ffb600" d="M487.5 118.9L491.7 117.2L488.9 115.4L484.7 117.2Z"/>
<path class="c" color="#ffb200" d="M483.4 120.8L487.5 118.9L484.7 117.2L480.6 119.0Z"/>
<path class="c" color="#ffa800" d="M490.4 120.8L494.6 119.1L491.7 117.2L487.5 118.9Z"/>
<path class="c" color="#ffa400" d="M486.2 122.6L490.4 120.8L487.5 118.9L483.4 120.8Z"/>
<path class="m" d="M486.2 122.6L494.6 119.1L488.9 115.4L480.6 119.0Z"/>
<path class="c" color="#ffaf00" d="M479.2 122.7L483.4 120.8L480.6 119.0L476.4 121.0Z"/>
<path class="c" color="#ffad00" d="M475 124.6L479.2 122.7L476.4 121.0L472.2 123.0Z"/>
<path class="c" color="#ffa000" d="M482 124.5L486.2 122.6L483.4 120.8L479.2 122.7Z"/>
<path class="c" color="#ff9e00" d="M477.8 126.4L482 124.5L479.2 122.7L475 124.6Z"/>
<path class="m" d="M477.8 126.4L486.2 122.6L480.6 119.0L472.2 123.0Z"/>
<path class="c" color="#ffac00" d="M470.8 126.7L475 124.6L472.2 123.0L468 125.0Z"/>
<path class="c" color="#ffab00" d="M466.5 128.8L470.8 126.7L468 125.0L463.8 127.2Z"/>
<path class="c" color="#ff9c00" d="M473.6 128.5L477.8 126.4L475 124.6L470.8 126.7Z"/>
<path class="c" color="#ff9b00" d="M469.3 130.5L473.6 128.5L470.8 126.7L466.5 128.8Z"/>
<path class="m" d="M469.3 130.5L477.8 126.4L472.2 123.0L463.8 127.2Z"/>
<path class="c" color="#ffac00" d="M462.3 131.0L466.5 128.8L463.8 127.2L459.6 129.4Z"/>
<path class="c" color="#ffae00" d="M458 133.2L462.3 131.0L459.6 129.4L455.3 131.7Z"/>
<path class="c" color="#ff9b00" d="M465.1 132.7L469.3 130.5L466.5 128.8L462.3 131.0Z"/>
<path class="c" color="#ff9c00" d="M460.8 134.9L465.1 132.7L462.3 131.0L458 133.2Z"/>
<path class="m" d="M460.8 134.9L469.3 130.5L463.8 127.2L455.3 131.7Z"/>
<path class="c" color="#ffb000" d="M453.8 135.6L458 133.2L455.3 131.7L451.1 134.0Z"/>
<path class="c" color="#ffb400" d="M449.5 138.0L453.8 135.6L451.1 134.0L446.8 136.5Z"/>
<path class="c" color="#ff9e00" d="M456.5 137.3L460.8 134.9L458 133.2L453.8 135.6Z"/>
<path class="c" color="#ffa100" d="M452.2 139.6L456.5 137.3L453.8 135.6L449.5 138.0Z"/>
<path class="m" d="M452.2 139.6L460.8 134.9L455.3 131.7L446.8 136.5Z"/>
<path class="c" color="#00ffe9" d="M608 101.3L611.4 101.6L608.5 98.7L605.1 98.5Z"/>
<path class="c" color="#00ffc8" d="M604.6 101.1L608 101.3L605.1 98.5L601.7 98.3Z"/>
<path class="c" color="#00fff0" d="M610.9 104.3L614.3 104.6L611.4 101.6L608 101.3Z"/>
<path class="c" color="#00ffce" d="M607.5 104.1L610.9 104.3L608 101.3L604.6 101.1Z"/>
<path class="m" d="M607.5 104.1L614.3 104.6L608.5 98.7L601.7 98.3Z"/>
<path class="c" color="#00ffa8" d="M601.2 101.0L604.6 101.1L601.7 98.3L598.2 98.2Z"/>
<path class="c" color="#00ff88" d="M597.7 100.9L601.2 101.0L598.2 98.2L594.7 98.2Z"/>
<path class="c" color="#00ffae" d="M604.1 103.9L607.5 104.1L604.6 101.1L601.2 101.0Z"/>
<path class="c" color="#00ff8e" d="M600.6 103.8L604.1 103.9L601.2 101.0L597.7 100.9Z"/>
<path class="m" d="M600.6 103.8L607.5 104.1L601.7 98.3L594.7 98.2Z"/>
<path class="c" color="#00ff6a" d="M594.2 100.9L597.7 100.9L594.7 98.2L591.2 98.2Z"/>
<path class="c" color="#00ff4d" d="M590.6 100.9L594.2 100.9L591.2 98.2L587.7 98.2Z"/>
<path class="c" color="#00ff6f" d="M597.1 103.8L600.6 103.8L597.7 100.9L594.2 100.9Z"/>
<path class="c" color="#00ff51" d="M593.6 103.8L597.1 103.8L594.2 100.9L590.6 100.9Z"/>
<path class="m" d="M593.6 103.8L600.6 103.8L594.7 98.2L587.7 98.2Z"/>
<path class="c" color="#00ff31" d="M587 101.0L590.6 100.9L587.7 98.2L584.1 98.3Z"/>
<path class="c" color="#00ff15" d="M583.4 101.2L587 101.0L584.1 98.3L580.5 98.5Z"/>
<path class="c" color="#00ff34" d="M590 103.9L593.6 103.8L590.6 100.9L587 101.0Z"/>
<path class="c" color="#00ff18" d="M586.4 104.0L590 103.9L587 101.0L583.4 101.2Z"/>
<path class="m" d="M586.4 104.0L593.6 103.8L587.7 98.2L580.5 98.5Z"/>
<path class="c" color="#05ff00" d="M579.8 101.4L583.4 101.2L580.5 98.5L576.9 98.8Z"/>
<path class="c" color="#1fff00" d="M576.1 101.7L579.8 101.4L576.9 98.8L573.2 99.1Z"/>
<path class="c" color="#03ff00" d="M582.7 104.2L586.4 104.0L583.4 101.2L579.8 101.4Z"/>
<path class="c" color="#1dff00" d="M579.1 104.4L582.7 104.2L579.8 101.4L576.1 101.7Z"/>
<path class="m" d="M579.1 104.4L586.4 104.0L580.5 98.5L573.2 99.1Z"/>
<path class="c" color="#38ff00" d="M572.4 102.0L576.1 101.7L573.2 99.1L569.5 99.5Z"/>
<path class="c" color="#4fff00" d="M568.7 102.4L572.4 102.0L569.5 99.5L565.8 99.9Z"/>
<path class="c" color="#36ff00" d="M575.4 104.8L579.1 104.4L576.1 101.7L572.4 102.0Z"/>
<path class="c" color="#4eff00" d="M571.7 105.1L575.4 104.8L572.4 102.0L568.7 102.4Z"/>
<path class="m" d="M571.7 105.1L579.1 104.4L573.2 99.1L565.8 99.9Z"/>
<path class="c" color="#66ff00" d="M565 102.9L568.7 102.4L565.8 99.9L562 100.4Z"/>
<path class="c" color="#7cff00" d="M561.2 103.4L565 102.9L562 100.4L558.3 100.9Z"/>
<path class="c" color="#66ff00" d="M567.9 105.6L571.7 105.1L568.7 102.4L565 102.9Z"/>
<path class="c" color="#7cff00" d="M564.2 106.1L567.9 105.6L565 102.9L561.2 103.4Z"/>
<path class="m" d="M564.2 106.1L571.7 105.1L565.8 99.9L558.3 100.9Z"/>
<path class="c" color="#91ff00" d="M557.4 104.0L561.2 103.4L558.3 100.9L554.5 101.6Z"/>
<path class="c" color="#a5ff00" d="M553.6 104.7L557.4 104.0L554.5 101.6L550.6 102.3Z"/>
<path class="c" color="#92ff00" d="M560.4 106.7L564.2 106.1L561.2 103.4L557.4 104.0Z"/>
<path class="c" color="#a6ff00" d="M556.5 107.3L560.4 106.7L557.4 104.0L553.6 104.7Z"/>
<path class="m" d="M556.5 107.3L564.2 106.1L558.3 100.9L550.6 102.3Z"/>
<path class="c" color="#b8ff00" d="M549.7 105.4L553.6 104.7L550.6 102.3L546.8 103.0Z"/>
<path class="c" color="#caff00" d="M545.8 106.2L549.7 105.4L546.8 103.0L542.9 103.8Z"/>
<path class="c" color="#baff00" d="M552.7 108.0L556.5 107.3L553.6 104.7L549.7 105.4Z"/>
<path class="c" color="#cdff00" d="M548.8 108.8L552.7 108.0L549.7 105.4L545.8 106.2Z"/>
<path class="m" d="M548.8 108.8L556.5 107.3L550.6 102.3L542.9 103.8Z"/>
<path class="c" color="#dbff00" d="M541.9 107.1L545.8 106.2L542.9 103.8L539 104.7Z"/>
<path class="c" color="#ecff00" d="M538 108.0L541.9 107.1L539 104.7L535.1 105.7Z"/>
<path class="c" color="#deff00" d="M544.9 109.6L548.8 108.8L545.8 106.2L541.9 107.1Z"/>
<path class="c" color="#efff00" d="M541 110.5L544.9 109.6L541.9 107.1L538 108.0Z"/>
<path class="m" d="M541 110.5L548.8 108.8L542.9 103.8L535.1 105.7Z"/>
<path class="c" color="#fbff00" d="M534 109.0L538 108.0L535.1 105.7L531.1 106.7Z"/>
<path class="c" color="#fff500" d="M530.1 110.1L534 109.0L531.1 106.7L527.1 107.8Z"/>
<path class="c" color="#ffff00" d="M537 111.5L541 110.5L538 108.0L534 109.0Z"/>
<path class="c" color="#fff000" d="M533 112.5L537 111.5L534 109.0L530.1 110.1Z"/>
<path class="m" d="M533 112.5L541 110.5L535.1 105.7L527.1 107.8Z"/>
<path class="c" color="#ffe700" d="M526.1 111.2L530.1 110.1L527.1 107.8L523.1 109.0Z"/>
<path class="c" color="#ffdb00" d="M522 112.4L526.1 111.2L523.1 109.0L519.1 110.2Z"/>
<path class="c" color="#ffe200" d="M529 113.6L533 112.5L530.1 110.1L526.1 111.2Z"/>
<path class="c" color="#ffd500" d="M525 114.8L529 113.6L526.1 111.2L522 112.4Z"/>
<path class="m" d="M525 114.8L533 112.5L527.1 107.8L519.1 110.2Z"/>
<path class="c" color="#ffcf00" d="M518 113.7L522 112.4L519.1 110.2L515.1 111.5Z"/>
<path class="c" color="#ffc400" d="M513.9 115.1L518 113.7L515.1 111.5L511 112.9Z"/>
<path class="c" color="#ffc800" d="M520.9 116.0L525 114.8L522 112.4L518 113.7Z"/>
<path class="c" color="#ffbd00" d="M516.9 117.4L520.9 116.0L518 113.7L513.9 115.1Z"/>
<path class="m" d="M516.9 117.4L525 114.8L519.1 110.2L511 112.9Z"/>
<path class="c" color="#ffba00" d="M509.8 116.5L513.9 115.1L511 112.9L506.9 114.3Z"/>
<path class="c" color="#ffb200" d="M505.7 118.0L509.8 116.5L506.9 114.3L502.8 115.9Z"/>
<path class="c" color="#ffb300" d="M512.8 118.7L516.9 117.4L513.9 115.1L509.8 116.5Z"/>
<path class="c" color="#ffa900" d="M508.6 120.2L512.8 118.7L509.8 116.5L505.7 118.0Z"/>
<path class="m" d="M508.6 120.2L516.9 117.4L511 112.9L502.8 115.9Z"/>
<path class="c" color="#ffaa00" d="M501.6 119.5L505.7 118.0L502.8 115.9L498.7 117.4Z"/>
<path class="c" color="#ffa300" d="M497.4 121.2L501.6 119.5L498.7 117.4L494.6 119.1Z"/>
<path class="c" color="#ffa100" d="M504.5 121.7L508.6 120.2L505.7 118.0L501.6 119.5Z"/>
<path class="c" color="#ff9900" d="M500.3 123.3L504.5 121.7L501.6 119.5L497.4 121.2Z"/>
<path class="m" d="M500.3 123.3L508.6 120.2L502.8 115.9L494.6 119.1Z"/>
<path class="c" color="#ff9d00" d="M493.3 122.9L497.4 121.2L494.6 119.1L490.4 120.8Z"/>
<path class="c" color="#ff9800" d="M489.1 124.6L493.3 122.9L490.4 120.8L486.2 122.6Z"/>
<path class="c" color="#ff9300" d="M496.2 125.0L500.3 123.3L497.4 121.2L493.3 122.9Z"/>
<path class="c" color="#ff8d00" d="M492 126.8L496.2 125.0L493.3 122.9L489.1 124.6Z"/>
<path class="m" d="M492 126.8L500.3 123.3L494.6 119.1L486.2 122.6Z"/>
<path class="c" color="#ff9300" d="M484.9 126.5L489.1 124.6L486.2 122.6L482 124.5Z"/>
<path class="c" color="#ff9000" d="M480.6 128.4L484.9 126.5L482 124.5L477.8 126.4Z"/>
<path class="c" color="#ff8800" d="M487.7 128.6L492 126.8L489.1 124.6L484.9 126.5Z"/>
<path class="c" color="#ff8400" d="M483.5 130.5L487.7 128.6L484.9 126.5L480.6 128.4Z"/>
<path class="m" d="M483.5 130.5L492 126.8L486.2 122.6L477.8 126.4Z"/>
<path class="c" color="#ff8e00" d="M476.4 130.4L480.6 128.4L477.8 126.4L473.6 128.5Z"/>
<path class="c" color="#ff8c00" d="M472.1 132.4L476.4 130.4L473.6 128.5L469.3 130.5Z"/>
<path class="c" color="#ff8200" d="M479.3 132.4L483.5 130.5L480.6 128.4L476.4 130.4Z"/>
<path class="c" color="#ff8000" d="M475 134.5L479.3 132.4L476.4 130.4L472.1 132.4Z"/>
<path class="m" d="M475 134.5L483.5 130.5L477.8 126.4L469.3 130.5Z"/>
<path class="c" color="#ff8c00" d="M467.9 134.6L472.1 132.4L469.3 130.5L465.1 132.7Z"/>
<path class="c" color="#ff8c00" d="M463.6 136.8L467.9 134.6L465.1 132.7L460.8 134.9Z"/>
<path class="c" color="#ff7f00" d="M470.7 136.6L475 134.5L472.1 132.4L467.9 134.6Z"/>
<path class="c" color="#ff7e00" d="M466.4 138.8L470.7 136.6L467.9 134.6L463.6 136.8Z"/>
<path class="m" d="M466.4 138.8L475 134.5L469.3 130.5L460.8 134.9Z"/>
<path class="c" color="#ff8e00" d="M459.3 139.1L463.6 136.8L460.8 134.9L456.5 137.3Z"/>
<path class="c" color="#ff9000" d="M455 141.4L459.3 139.1L456.5 137.3L452.2 139.6Z"/>
<path class="c" color="#ff7f00" d="M462.1 141.0L466.4 138.8L463.6 136.8L459.3 139.1Z"/>
<path class="c" color="#ff8100" d="M457.8 143.3L462.1 141.0L459.3 139.1L455 141.4Z"/>
<path class="m" d="M457.8 143.3L466.4 138.8L460.8 134.9L452.2 139.6Z"/>
<path class="c" color="#00fff9" d="M613.9 107.4L617.2 107.7L614.3 104.6L610.9 104.3Z"/>
<path class="c" color="#00ffd7" d="M610.5 107.2L613.9 107.4L610.9 104.3L607.5 104.1Z"/>
<path class="c" color="#00faff" d="M616.8 110.6L620.2 110.9L617.2 107.7L613.9 107.4Z"/>
<path class="c" color="#00ffe1" d="M613.4 110.4L616.8 110.6L613.9 107.4L610.5 107.2Z"/>
<path class="m" d="M613.4 110.4L620.2 110.9L614.3 104.6L607.5 104.1Z"/>
<path class="c" color="#00ffb6" d="M607 107.0L610.5 107.2L607.5 104.1L604.1 103.9Z"/>
<path class="c" color="#00ff95" d="M603.5 106.8L607 107.0L604.1 103.9L600.6 103.8Z"/>
<path class="c" color="#00ffbf" d="M609.9 110.1L613.4 110.4L610.5 107.2L607 107.0Z"/>
<path class="c" color="#00ff9f" d="M606.5 110.0L609.9 110.1L607 107.0L603.5 106.8Z"/>
<path class="m" d="M606.5 110.0L613.4 110.4L607.5 104.1L600.6 103.8Z"/>
<path class="c" color="#00ff76" d="M600 106.8L603.5 106.8L600.6 103.8L597.1 103.8Z"/>
<path class="c" color="#00ff58" d="M596.5 106.8L600 106.8L597.1 103.8L593.6 103.8Z"/>
<path class="c" color="#00ff7f" d="M603 109.9L606.5 110.0L603.5 106.8L600 106.8Z"/>
<path class="c" color="#00ff60" d="M599.5 109.9L603 109.9L600 106.8L596.5 106.8Z"/>
<path class="m" d="M599.5 109.9L606.5 110.0L600.6 103.8L593.6 103.8Z"/>
<path class="c" color="#00ff3a" d="M592.9 106.8L596.5 106.8L593.6 103.8L590 103.9Z"/>
<path class="c" color="#00ff1d" d="M589.3 106.9L592.9 106.8L590 103.9L586.4 104.0Z"/>
<path class="c" color="#00ff41" d="M595.9 109.9L599.5 109.9L596.5 106.8L592.9 106.8Z"/>
<path class="c" color="#00ff24" d="M592.3 110.0L595.9 109.9L592.9 106.8L589.3 106.9Z"/>
<path class="m" d="M592.3 110.0L599.5 109.9L593.6 103.8L586.4 104.0Z"/>
<path class="c" color="#00ff02" d="M585.7 107.1L589.3 106.9L586.4 104.0L582.7 104.2Z"/>
<path class="c" color="#19ff00" d="M582.1 107.3L585.7 107.1L582.7 104.2L579.1 104.4Z"/>
<path class="c" color="#00ff08" d="M588.7 110.1L592.3 110.0L589.3 106.9L585.7 107.1Z"/>
<path class="c" color="#13ff00" d="M585 110.3L588.7 110.1L585.7 107.1L582.1 107.3Z"/>
<path class="m" d="M585 110.3L592.3 110.0L586.4 104.0L579.1 104.4Z"/>
<path class="c" color="#33ff00" d="M578.4 107.6L582.1 107.3L579.1 104.4L575.4 104.8Z"/>
<path class="c" color="#4cff00" d="M574.7 107.9L578.4 107.6L575.4 104.8L571.7 105.1Z"/>
<path class="c" color="#2eff00" d="M581.3 110.6L585 110.3L582.1 107.3L578.4 107.6Z"/>
<path class="c" color="#47ff00" d="M577.6 110.9L581.3 110.6L578.4 107.6L574.7 107.9Z"/>
<path class="m" d="M577.6 110.9L585 110.3L579.1 104.4L571.7 105.1Z"/>
<path class="c" color="#64ff00" d="M570.9 108.4L574.7 107.9L571.7 105.1L567.9 105.6Z"/>
<path class="c" color="#7bff00" d="M567.1 108.8L570.9 108.4L567.9 105.6L564.2 106.1Z"/>
<path class="c" color="#60ff00" d="M573.9 111.3L577.6 110.9L574.7 107.9L570.9 108.4Z"/>
<path class="c" color="#77ff00" d="M570.1 111.7L573.9 111.3L570.9 108.4L567.1 108.8Z"/>
<path class="m" d="M570.1 111.7L577.6 110.9L571.7 105.1L564.2 106.1Z"/>
<path class="c" color="#91ff00" d="M563.3 109.4L567.1 108.8L564.2 106.1L560.4 106.7Z"/>
<path class="c" color="#a6ff00" d="M559.5 110.0L563.3 109.4L560.4 106.7L556.5 107.3Z"/>
<path class="c" color="#8eff00" d="M566.3 112.3L570.1 111.7L567.1 108.8L563.3 109.4Z"/>
<path class="c" color="#a4ff00" d="M562.5 112.8L566.3 112.3L563.3 109.4L559.5 110.0Z"/>
<path class="m" d="M562.5 112.8L570.1 111.7L564.2 106.1L556.5 107.3Z"/>
<path class="c" color="#baff00" d="M555.7 110.7L559.5 110.0L556.5 107.3L552.7 108.0Z"/>
<path class="c" color="#cdff00" d="M551.8 111.4L555.7 110.7L552.7 108.0L548.8 108.8Z"/>
<path class="c" color="#b8ff00" d="M558.7 113.5L562.5 112.8L559.5 110.0L555.7 110.7Z"/>
<path class="c" color="#ccff00" d="M554.8 114.2L558.7 113.5L555.7 110.7L551.8 111.4Z"/>
<path class="m" d="M554.8 114.2L562.5 112.8L556.5 107.3L548.8 108.8Z"/>
<path class="c" color="#e0ff00" d="M547.9 112.2L551.8 111.4L548.8 108.8L544.9 109.6Z"/>
<path class="c" color="#f1ff00" d="M543.9 113.1L547.9 112.2L544.9 109.6L541 110.5Z"/>
<path class="c" color="#dfff00" d="M550.9 115.0L554.8 114.2L551.8 111.4L547.9 112.2Z"/>
<path class="c" color="#f1ff00" d="M546.9 115.8L550.9 115.0L547.9 112.2L543.9 113.1Z"/>
<path class="m" d="M546.9 115.8L554.8 114.2L548.8 108.8L541 110.5Z"/>
<path class="c" color="#fffc00" d="M540 114.0L543.9 113.1L541 110.5L537 111.5Z"/>
<path class="c" color="#ffed00" d="M536 115.1L540 114.0L537 111.5L533 112.5Z"/>
<path class="c" color="#fffc00" d="M543 116.7L546.9 115.8L543.9 113.1L540 114.0Z"/>
<path class="c" color="#ffec00" d="M539 117.7L543 116.7L540 114.0L536 115.1Z"/>
<path class="m" d="M539 117.7L546.9 115.8L541 110.5L533 112.5Z"/>
<path class="c" color="#ffde00" d="M532 116.1L536 115.1L533 112.5L529 113.6Z"/>
<path class="c" color="#ffd000" d="M527.9 117.3L532 116.1L529 113.6L525 114.8Z"/>
<path class="c" color="#ffdc00" d="M535 118.8L539 117.7L536 115.1L532 116.1Z"/>
<path class="c" color="#ffce00" d="M530.9 119.9L535 118.8L532 116.1L527.9 117.3Z"/>
<path class="m" d="M530.9 119.9L539 117.7L533 112.5L525 114.8Z"/>
<path class="c" color="#ffc400" d="M523.9 118.5L527.9 117.3L525 114.8L520.9 116.0Z"/>
<path class="c" color="#ffb800" d="M519.8 119.8L523.9 118.5L520.9 116.0L516.9 117.4Z"/>
<path class="c" color="#ffc100" d="M526.9 121.1L530.9 119.9L527.9 117.3L523.9 118.5Z"/>
<path class="c" color="#ffb400" d="M522.8 122.4L526.9 121.1L523.9 118.5L519.8 119.8Z"/>
<path class="m" d="M522.8 122.4L530.9 119.9L525 114.8L516.9 117.4Z"/>
<path class="c" color="#ffad00" d="M515.7 121.2L519.8 119.8L516.9 117.4L512.8 118.7Z"/>
<path class="c" color="#ffa300" d="M511.6 122.6L515.7 121.2L512.8 118.7L508.6 120.2Z"/>
<path class="c" color="#ffa900" d="M518.7 123.7L522.8 122.4L519.8 119.8L515.7 121.2Z"/>
<path class="c" color="#ff9e00" d="M514.6 125.1L518.7 123.7L515.7 121.2L511.6 122.6Z"/>
<path class="m" d="M514.6 125.1L522.8 122.4L516.9 117.4L508.6 120.2Z"/>
<path class="c" color="#ff9a00" d="M507.4 124.1L511.6 122.6L508.6 120.2L504.5 121.7Z"/>
<path class="c" color="#ff9200" d="M503.3 125.7L507.4 124.1L504.5 121.7L500.3 123.3Z"/>
<path class="c" color="#ff9500" d="M510.4 126.6L514.6 125.1L511.6 122.6L507.4 124.1Z"/>
<path class="c" color="#ff8c00" d="M506.2 128.1L510.4 126.6L507.4 124.1L503.3 125.7Z"/>
<path class="m" d="M506.2 128.1L514.6 125.1L508.6 120.2L500.3 123.3Z"/>
<path class="c" color="#ff8b00" d="M499.1 127.3L503.3 125.7L500.3 123.3L496.2 125.0Z"/>
<path class="c" color="#ff8400" d="M494.9 129.0L499.1 127.3L496.2 125.0L492 126.8Z"/>
<path class="c" color="#ff8400" d="M502 129.7L506.2 128.1L503.3 125.7L499.1 127.3Z"/>
<path class="c" color="#ff7d00" d="M497.8 131.4L502 129.7L499.1 127.3L494.9 129.0Z"/>
<path class="m" d="M497.8 131.4L506.2 128.1L500.3 123.3L492 126.8Z"/>
<path class="c" color="#ff7f00" d="M490.7 130.8L494.9 129.0L492 126.8L487.7 128.6Z"/>
<path class="c" color="#ff7b00" d="M486.4 132.7L490.7 130.8L487.7 128.6L483.5 130.5Z"/>
<path class="c" color="#ff7700" d="M493.6 133.2L497.8 131.4L494.9 129.0L490.7 130.8Z"/>
<path class="c" color="#ff7200" d="M489.3 135.0L493.6 133.2L490.7 130.8L486.4 132.7Z"/>
<path class="m" d="M489.3 135.0L497.8 131.4L492 126.8L483.5 130.5Z"/>
<path class="c" color="#ff7700" d="M482.1 134.6L486.4 132.7L483.5 130.5L479.3 132.4Z"/>
<path class="c" color="#ff7400" d="M477.9 136.6L482.1 134.6L479.3 132.4L475 134.5Z"/>
<path class="c" color="#ff6e00" d="M485.1 136.9L489.3 135.0L486.4 132.7L482.1 134.6Z"/>
<path class="c" color="#ff6b00" d="M480.8 138.9L485.1 136.9L482.1 134.6L477.9 136.6Z"/>
<path class="m" d="M480.8 138.9L489.3 135.0L483.5 130.5L475 134.5Z"/>
<path class="c" color="#ff7300" d="M473.6 138.7L477.9 136.6L475 134.5L470.7 136.6Z"/>
<path class="c" color="#ff7200" d="M469.3 140.9L473.6 138.7L470.7 136.6L466.4 138.8Z"/>
<path class="c" color="#ff6900" d="M476.5 141.0L480.8 138.9L477.9 136.6L473.6 138.7Z"/>
<path class="c" color="#ff6800" d="M472.1 143.1L476.5 141.0L473.6 138.7L469.3 140.9Z"/>
<path class="m" d="M472.1 143.1L480.8 138.9L475 134.5L466.4 138.8Z"/>
<path class="c" color="#ff7200" d="M464.9 143.1L469.3 140.9L466.4 138.8L462.1 141.0Z"/>
<path class="c" color="#ff7400" d="M460.6 145.4L464.9 143.1L462.1 141.0L457.8 143.3Z"/>
<path class="c" color="#ff6700" d="M467.8 145.3L472.1 143.1L469.3 140.9L464.9 143.1Z"/>
<path class="c" color="#ff6800" d="M463.5 147.6L467.8 145.3L464.9 143.1L460.6 145.4Z"/>
<path class="m" d="M463.5 147.6L472.1 143.1L466.4 138.8L457.8 143.3Z"/>
<path class="c" color="#00edff" d="M619.7 114.0L623.1 114.3L620.2 110.9L616.8 110.6Z"/>
<path class="c" color="#00ffed" d="M616.3 113.7L619.7 114.0L616.8 110.6L613.4 110.4Z"/>
<path class="c" color="#00dfff" d="M622.6 117.4L626 117.8L623.1 114.3L619.7 114.0Z"/>
<path class="c" color="#00fffb" d="M619.2 117.1L622.6 117.4L619.7 114.0L616.3 113.7Z"/>
<path class="m" d="M619.2 117.1L626 117.8L620.2 110.9L613.4 110.4Z"/>
<path class="c" color="#00ffcb" d="M612.9 113.4L616.3 113.7L613.4 110.4L609.9 110.1Z"/>
<path class="c" color="#00ffa9" d="M609.4 113.3L612.9 113.4L609.9 110.1L606.5 110.0Z"/>
<path class="c" color="#00ffd8" d="M615.8 116.9L619.2 117.1L616.3 113.7L612.9 113.4Z"/>
<path class="c" color="#00ffb6" d="M612.4 116.7L615.8 116.9L612.9 113.4L609.4 113.3Z"/>
<path class="m" d="M612.4 116.7L619.2 117.1L613.4 110.4L606.5 110.0Z"/>
<path class="c" color="#00ff89" d="M605.9 113.1L609.4 113.3L606.5 110.0L603 109.9Z"/>
<path class="c" color="#00ff69" d="M602.4 113.1L605.9 113.1L603 109.9L599.5 109.9Z"/>
<path class="c" color="#00ff95" d="M608.9 116.5L612.4 116.7L609.4 113.3L605.9 113.1Z"/>
<path class="c" color="#00ff75" d="M605.4 116.4L608.9 116.5L605.9 113.1L602.4 113.1Z"/>
<path class="m" d="M605.4 116.4L612.4 116.7L606.5 110.0L599.5 109.9Z"/>
<path class="c" color="#00ff4b" d="M598.9 113.1L602.4 113.1L599.5 109.9L595.9 109.9Z"/>
<path class="c" color="#00ff2d" d="M595.3 113.1L598.9 113.1L595.9 109.9L592.3 110.0Z"/>
<path class="c" color="#00ff56" d="M601.8 116.4L605.4 116.4L602.4 113.1L598.9 113.1Z"/>
<path class="c" color="#00ff37" d="M598.3 116.4L601.8 116.4L598.9 113.1L595.3 113.1Z"/>
<path class="m" d="M598.3 116.4L605.4 116.4L599.5 109.9L592.3 110.0Z"/>
<path class="c" color="#00ff10" d="M591.7 113.2L595.3 113.1L592.3 110.0L588.7 110.1Z"/>
<path class="c" color="#0cff00" d="M588 113.4L591.7 113.2L588.7 110.1L585 110.3Z"/>
<path class="c" color="#00ff1a" d="M594.6 116.5L598.3 116.4L595.3 113.1L591.7 113.2Z"/>
<path class="c" color="#03ff00" d="M591 116.7L594.6 116.5L591.7 113.2L588 113.4Z"/>
<path class="m" d="M591 116.7L598.3 116.4L592.3 110.0L585 110.3Z"/>
<path class="c" color="#27ff00" d="M584.3 113.7L588 113.4L585 110.3L581.3 110.6Z"/>
<path class="c" color="#41ff00" d="M580.6 114.0L584.3 113.7L581.3 110.6L577.6 110.9Z"/>
<path class="c" color="#1eff00" d="M587.3 116.9L591 116.7L588 113.4L584.3 113.7Z"/>
<path class="c" color="#39ff00" d="M583.6 117.2L587.3 116.9L584.3 113.7L580.6 114.0Z"/>
<path class="m" d="M583.6 117.2L591 116.7L585 110.3L577.6 110.9Z"/>
<path class="c" color="#5aff00" d="M576.9 114.3L580.6 114.0L577.6 110.9L573.9 111.3Z"/>
<path class="c" color="#72ff00" d="M573.1 114.8L576.9 114.3L573.9 111.3L570.1 111.7Z"/>
<path class="c" color="#52ff00" d="M579.9 117.5L583.6 117.2L580.6 114.0L576.9 114.3Z"/>
<path class="c" color="#6bff00" d="M576.1 117.9L579.9 117.5L576.9 114.3L573.1 114.8Z"/>
<path class="m" d="M576.1 117.9L583.6 117.2L577.6 110.9L570.1 111.7Z"/>
<path class="c" color="#89ff00" d="M569.3 115.3L573.1 114.8L570.1 111.7L566.3 112.3Z"/>
<path class="c" color="#a0ff00" d="M565.5 115.8L569.3 115.3L566.3 112.3L562.5 112.8Z"/>
<path class="c" color="#83ff00" d="M572.3 118.4L576.1 117.9L573.1 114.8L569.3 115.3Z"/>
<path class="c" color="#9aff00" d="M568.5 118.9L572.3 118.4L569.3 115.3L565.5 115.8Z"/>
<path class="m" d="M568.5 118.9L576.1 117.9L570.1 111.7L562.5 112.8Z"/>
<path class="c" color="#b5ff00" d="M561.7 116.4L565.5 115.8L562.5 112.8L558.7 113.5Z"/>
<path class="c" color="#c9ff00" d="M557.8 117.1L561.7 116.4L558.7 113.5L554.8 114.2Z"/>
<path class="c" color="#b0ff00" d="M564.7 119.5L568.5 118.9L565.5 115.8L561.7 116.4Z"/>
<path class="c" color="#c5ff00" d="M560.8 120.2L564.7 119.5L561.7 116.4L557.8 117.1Z"/>
<path class="m" d="M560.8 120.2L568.5 118.9L562.5 112.8L554.8 114.2Z"/>
<path class="c" color="#ddff00" d="M553.9 117.9L557.8 117.1L554.8 114.2L550.9 115.0Z"/>
<path class="c" color="#efff00" d="M549.9 118.7L553.9 117.9L550.9 115.0L546.9 115.8Z"/>
<path class="c" color="#d9ff00" d="M556.9 120.9L560.8 120.2L557.8 117.1L553.9 117.9Z"/>
<path class="c" color="#ecff00" d="M553 121.7L556.9 120.9L553.9 117.9L549.9 118.7Z"/>
<path class="m" d="M553 121.7L560.8 120.2L554.8 114.2L546.9 115.8Z"/>
<path class="c" color="#fffd00" d="M546 119.6L549.9 118.7L546.9 115.8L543 116.7Z"/>
<path class="c" color="#ffec00" d="M542 120.5L546 119.6L543 116.7L539 117.7Z"/>
<path class="c" color="#feff00" d="M549 122.6L553 121.7L549.9 118.7L546 119.6Z"/>
<path class="c" color="#ffee00" d="M545 123.5L549 122.6L546 119.6L542 120.5Z"/>
<path class="m" d="M545 123.5L553 121.7L546.9 115.8L539 117.7Z"/>
<path class="c" color="#ffdc00" d="M538 121.6L542 120.5L539 117.7L535 118.8Z"/>
<path class="c" color="#ffcd00" d="M533.9 122.7L538 121.6L535 118.8L530.9 119.9Z"/>
<path class="c" color="#ffde00" d="M541 124.5L545 123.5L542 120.5L538 121.6Z"/>
<path class="c" color="#ffcf00" d="M537 125.6L541 124.5L538 121.6L533.9 122.7Z"/>
<path class="m" d="M537 125.6L545 123.5L539 117.7L530.9 119.9Z"/>
<path class="c" color="#ffc000" d="M529.9 123.8L533.9 122.7L530.9 119.9L526.9 121.1Z"/>
<path class="c" color="#ffb300" d="M525.8 125.1L529.9 123.8L526.9 121.1L522.8 122.4Z"/>
<path class="c" color="#ffc000" d="M532.9 126.7L537 125.6L533.9 122.7L529.9 123.8Z"/>
<path class="c" color="#ffb300" d="M528.8 127.9L532.9 126.7L529.9 123.8L525.8 125.1Z"/>
<path class="m" d="M528.8 127.9L537 125.6L530.9 119.9L522.8 122.4Z"/>
<path class="c" color="#ffa600" d="M521.7 126.4L525.8 125.1L522.8 122.4L518.7 123.7Z"/>
<path class="c" color="#ff9b00" d="M517.5 127.8L521.7 126.4L518.7 123.7L514.6 125.1Z"/>
<path class="c" color="#ffa600" d="M524.7 129.2L528.8 127.9L525.8 125.1L521.7 126.4Z"/>
<path class="c" color="#ff9a00" d="M520.5 130.5L524.7 129.2L521.7 126.4L517.5 127.8Z"/>
<path class="m" d="M520.5 130.5L528.8 127.9L522.8 122.4L514.6 125.1Z"/>
<path class="c" color="#ff9100" d="M513.4 129.2L517.5 127.8L514.6 125.1L510.4 126.6Z"/>
<path class="c" color="#ff8800" d="M509.2 130.7L513.4 129.2L510.4 126.6L506.2 128.1Z"/>
<path class="c" color="#ff8f00" d="M516.4 132.0L520.5 130.5L517.5 127.8L513.4 129.2Z"/>
<path class="c" color="#ff8600" d="M512.2 133.5L516.4 132.0L513.4 129.2L509.2 130.7Z"/>
<path class="m" d="M512.2 133.5L520.5 130.5L514.6 125.1L506.2 128.1Z"/>
<path class="c" color="#ff7f00" d="M505 132.3L509.2 130.7L506.2 128.1L502 129.7Z"/>
<path class="c" color="#ff7800" d="M500.8 134.0L505 132.3L502 129.7L497.8 131.4Z"/>
<path class="c" color="#ff7d00" d="M508 135.0L512.2 133.5L509.2 130.7L505 132.3Z"/>
<path class="c" color="#ff7500" d="M503.8 136.7L508 135.0L505 132.3L500.8 134.0Z"/>
<path class="m" d="M503.8 136.7L512.2 133.5L506.2 128.1L497.8 131.4Z"/>
<path class="c" color="#ff7200" d="M496.5 135.7L500.8 134.0L497.8 131.4L493.6 133.2Z"/>
<path class="c" color="#ff6c00" d="M492.3 137.5L496.5 135.7L493.6 133.2L489.3 135.0Z"/>
<path class="c" color="#ff6e00" d="M499.5 138.4L503.8 136.7L500.8 134.0L496.5 135.7Z"/>
<path class="c" color="#ff6700" d="M495.3 140.2L499.5 138.4L496.5 135.7L492.3 137.5Z"/>
<path class="m" d="M495.3 140.2L503.8 136.7L497.8 131.4L489.3 135.0Z"/>
<path class="c" color="#ff6700" d="M488 139.4L492.3 137.5L489.3 135.0L485.1 136.9Z"/>
<path class="c" color="#ff6400" d="M483.7 141.4L488 139.4L485.1 136.9L480.8 138.9Z"/>
<path class="c" color="#ff6200" d="M491 142.0L495.3 140.2L492.3 137.5L488 139.4Z"/>
<path class="c" color="#ff5e00" d="M486.7 143.9L491 142.0L488 139.4L483.7 141.4Z"/>
<path class="m" d="M486.7 143.9L495.3 140.2L489.3 135.0L480.8 138.9Z"/>
<path class="c" color="#ff6100" d="M479.4 143.4L483.7 141.4L480.8 138.9L476.5 141.0Z"/>
<path class="c" color="#ff5f00" d="M475.1 145.5L479.4 143.4L476.5 141.0L472.1 143.1Z"/>
<path class="c" color="#ff5b00" d="M482.3 145.9L486.7 143.9L483.7 141.4L479.4 143.4Z"/>
<path class="c" color="#ff5800" d="M478 148.0L482.3 145.9L479.4 143.4L475.1 145.5Z"/>
<path class="m" d="M478 148.0L486.7 143.9L480.8 138.9L472.1 143.1Z"/>
<path class="c" color="#ff5e00" d="M470.7 147.7L475.1 145.5L472.1 143.1L467.8 145.3Z"/>
<path class="c" color="#ff5e00" d="M466.3 149.9L470.7 147.7L467.8 145.3L463.5 147.6Z"/>
<path class="c" color="#ff5700" d="M473.6 150.2L478 148.0L475.1 145.5L470.7 147.7Z"/>
<path class="c" color="#ff5600" d="M469.3 152.4L473.6 150.2L470.7 147.7L466.3 149.9Z"/>
<path class="m" d="M469.3 152.4L478 148.0L472.1 143.1L463.5 147.6Z"/>
<path class="c" color="#00cfff" d="M625.6 121.0L628.9 121.4L626 117.8L622.6 117.4Z"/>
<path class="c" color="#00f3ff" d="M622.2 120.7L625.6 121.0L622.6 117.4L619.2 117.1Z"/>
<path class="c" color="#00bdff" d="M628.5 124.7L631.8 125.1L628.9 121.4L625.6 121.0Z"/>
<path class="c" color="#00e2ff" d="M625.1 124.4L628.5 124.7L625.6 121.0L622.2 120.7Z"/>
<path class="m" d="M625.1 124.4L631.8 125.1L626 117.8L619.2 117.1Z"/>
<path class="c" color="#00ffe7" d="M618.8 120.4L622.2 120.7L619.2 117.1L615.8 116.9Z"/>
<path class="c" color="#00ffc5" d="M615.3 120.2L618.8 120.4L615.8 116.9L612.4 116.7Z"/>
<path class="c" color="#00fff8" d="M621.7 124.1L625.1 124.4L622.2 120.7L618.8 120.4Z"/>
<path class="c" color="#00ffd5" d="M618.3 123.8L621.7 124.1L618.8 120.4L615.3 120.2Z"/>
<path class="m" d="M618.3 123.8L625.1 124.4L619.2 117.1L612.4 116.7Z"/>
<path class="c" color="#00ffa3" d="M611.9 120.0L615.3 120.2L612.4 116.7L608.9 116.5Z"/>
<path class="c" color="#00ff82" d="M608.3 119.9L611.9 120.0L608.9 116.5L605.4 116.4Z"/>
<path class="c" color="#00ffb3" d="M614.8 123.6L618.3 123.8L615.3 120.2L611.9 120.0Z"/>
<path class="c" color="#00ff91" d="M611.3 123.5L614.8 123.6L611.9 120.0L608.3 119.9Z"/>
<path class="m" d="M611.3 123.5L618.3 123.8L612.4 116.7L605.4 116.4Z"/>
<path class="c" color="#00ff62" d="M604.8 119.9L608.3 119.9L605.4 116.4L601.8 116.4Z"/>
<path class="c" color="#00ff43" d="M601.2 119.9L604.8 119.9L601.8 116.4L598.3 116.4Z"/>
<path class="c" color="#00ff71" d="M607.8 123.4L611.3 123.5L608.3 119.9L604.8 119.9Z"/>
<path class="c" color="#00ff51" d="M604.2 123.4L607.8 123.4L604.8 119.9L601.2 119.9Z"/>
<path class="m" d="M604.2 123.4L611.3 123.5L605.4 116.4L598.3 116.4Z"/>
<path class="c" color="#00ff25" d="M597.6 119.9L601.2 119.9L598.3 116.4L594.6 116.5Z"/>
<path class="c" color="#00ff08" d="M594 120.1L597.6 119.9L594.6 116.5L591 116.7Z"/>
<path class="c" color="#00ff33" d="M600.6 123.5L604.2 123.4L601.2 119.9L597.6 119.9Z"/>
<path class="c" color="#00ff15" d="M597 123.6L600.6 123.5L597.6 119.9L594 120.1Z"/>
<path class="m" d="M597 123.6L604.2 123.4L598.3 116.4L591 116.7Z"/>
<path class="c" color="#14ff00" d="M590.3 120.3L594 120.1L591 116.7L587.3 116.9Z"/>
<path class="c" color="#2fff00" d="M586.6 120.5L590.3 120.3L587.3 116.9L583.6 117.2Z"/>
<path class="c" color="#07ff00" d="M593.3 123.7L597 123.6L594 120.1L590.3 120.3Z"/>
<path class="c" color="#23ff00" d="M589.7 124.0L593.3 123.7L590.3 120.3L586.6 120.5Z"/>
<path class="m" d="M589.7 124.0L597 123.6L591 116.7L583.6 117.2Z"/>
<path class="c" color="#49ff00" d="M582.9 120.8L586.6 120.5L583.6 117.2L579.9 117.5Z"/>
<path class="c" color="#62ff00" d="M579.2 121.2L582.9 120.8L579.9 117.5L576.1 117.9Z"/>
<path class="c" color="#3eff00" d="M585.9 124.3L589.7 124.0L586.6 120.5L582.9 120.8Z"/>
<path class="c" color="#58ff00" d="M582.2 124.6L585.9 124.3L582.9 120.8L579.2 121.2Z"/>
<path class="m" d="M582.2 124.6L589.7 124.0L583.6 117.2L576.1 117.9Z"/>
<path class="c" color="#7bff00" d="M575.4 121.6L579.2 121.2L576.1 117.9L572.3 118.4Z"/>
<path class="c" color="#92ff00" d="M571.6 122.2L575.4 121.6L572.3 118.4L568.5 118.9Z"/>
<path class="c" color="#71ff00" d="M578.4 125.0L582.2 124.6L579.2 121.2L575.4 121.6Z"/>
<path class="c" color="#89ff00" d="M574.6 125.5L578.4 125.0L575.4 121.6L571.6 122.2Z"/>
<path class="m" d="M574.6 125.5L582.2 124.6L576.1 117.9L568.5 118.9Z"/>
<path class="c" color="#a9ff00" d="M567.7 122.7L571.6 122.2L568.5 118.9L564.7 119.5Z"/>
<path class="c" color="#beff00" d="M563.8 123.4L567.7 122.7L564.7 119.5L560.8 120.2Z"/>
<path class="c" color="#a0ff00" d="M570.7 126.1L574.6 125.5L571.6 122.2L567.7 122.7Z"/>
<path class="c" color="#b6ff00" d="M566.9 126.7L570.7 126.1L567.7 122.7L563.8 123.4Z"/>
<path class="m" d="M566.9 126.7L574.6 125.5L568.5 118.9L560.8 120.2Z"/>
<path class="c" color="#d3ff00" d="M559.9 124.1L563.8 123.4L560.8 120.2L556.9 120.9Z"/>
<path class="c" color="#e7ff00" d="M556 124.8L559.9 124.1L556.9 120.9L553 121.7Z"/>
<path class="c" color="#cbff00" d="M563 127.4L566.9 126.7L563.8 123.4L559.9 124.1Z"/>
<path class="c" color="#e0ff00" d="M559 128.1L563 127.4L559.9 124.1L556 124.8Z"/>
<path class="m" d="M559 128.1L566.9 126.7L560.8 120.2L553 121.7Z"/>
<path class="c" color="#faff00" d="M552 125.7L556 124.8L553 121.7L549 122.6Z"/>
<path class="c" color="#fff300" d="M548 126.6L552 125.7L549 122.6L545 123.5Z"/>
<path class="c" color="#f3ff00" d="M555.1 128.9L559 128.1L556 124.8L552 125.7Z"/>
<path class="c" color="#fff800" d="M551.1 129.8L555.1 128.9L552 125.7L548 126.6Z"/>
<path class="m" d="M551.1 129.8L559 128.1L553 121.7L545 123.5Z"/>
<path class="c" color="#ffe200" d="M544 127.6L548 126.6L545 123.5L541 124.5Z"/>
<path class="c" color="#ffd200" d="M540 128.6L544 127.6L541 124.5L537 125.6Z"/>
<path class="c" color="#ffe700" d="M547.1 130.7L551.1 129.8L548 126.6L544 127.6Z"/>
<path class="c" color="#ffd600" d="M543 131.8L547.1 130.7L544 127.6L540 128.6Z"/>
<path class="m" d="M543 131.8L551.1 129.8L545 123.5L537 125.6Z"/>
<path class="c" color="#ffc300" d="M535.9 129.7L540 128.6L537 125.6L532.9 126.7Z"/>
<path class="c" color="#ffb400" d="M531.8 130.9L535.9 129.7L532.9 126.7L528.8 127.9Z"/>
<path class="c" color="#ffc700" d="M539 132.9L543 131.8L540 128.6L535.9 129.7Z"/>
<path class="c" color="#ffb800" d="M534.9 134.0L539 132.9L535.9 129.7L531.8 130.9Z"/>
<path class="m" d="M534.9 134.0L543 131.8L537 125.6L528.8 127.9Z"/>
<path class="c" color="#ffa700" d="M527.7 132.1L531.8 130.9L528.8 127.9L524.7 129.2Z"/>
<path class="c" color="#ff9b00" d="M523.6 133.5L527.7 132.1L524.7 129.2L520.5 130.5Z"/>
<path class="c" color="#ffaa00" d="M530.8 135.2L534.9 134.0L531.8 130.9L527.7 132.1Z"/>
<path class="c" color="#ff9d00" d="M526.6 136.5L530.8 135.2L527.7 132.1L523.6 133.5Z"/>
<path class="m" d="M526.6 136.5L534.9 134.0L528.8 127.9L520.5 130.5Z"/>
<path class="c" color="#ff9000" d="M519.4 134.9L523.6 133.5L520.5 130.5L516.4 132.0Z"/>
<path class="c" color="#ff8500" d="M515.2 136.3L519.4 134.9L516.4 132.0L512.2 133.5Z"/>
<path class="c" color="#ff9100" d="M522.5 137.9L526.6 136.5L523.6 133.5L519.4 134.9Z"/>
<path class="c" color="#ff8600" d="M518.3 139.3L522.5 137.9L519.4 134.9L515.2 136.3Z"/>
<path class="m" d="M518.3 139.3L526.6 136.5L520.5 130.5L512.2 133.5Z"/>
<path class="c" color="#ff7c00" d="M511 137.9L515.2 136.3L512.2 133.5L508 135.0Z"/>
<path class="c" color="#ff7300" d="M506.8 139.5L511 137.9L508 135.0L503.8 136.7Z"/>
<path class="c" color="#ff7c00" d="M514.1 140.9L518.3 139.3L515.2 136.3L511 137.9Z"/>
<path class="c" color="#ff7300" d="M509.8 142.4L514.1 140.9L511 137.9L506.8 139.5Z"/>
<path class="m" d="M509.8 142.4L518.3 139.3L512.2 133.5L503.8 136.7Z"/>
<path class="c" color="#ff6b00" d="M502.5 141.2L506.8 139.5L503.8 136.7L499.5 138.4Z"/>
<path class="c" color="#ff6500" d="M498.3 142.9L502.5 141.2L499.5 138.4L495.3 140.2Z"/>
<path class="c" color="#ff6b00" d="M505.6 144.1L509.8 142.4L506.8 139.5L502.5 141.2Z"/>
<path class="c" color="#ff6400" d="M501.3 145.8L505.6 144.1L502.5 141.2L498.3 142.9Z"/>
<path class="m" d="M501.3 145.8L509.8 142.4L503.8 136.7L495.3 140.2Z"/>
<path class="c" color="#ff5f00" d="M494 144.8L498.3 142.9L495.3 140.2L491 142.0Z"/>
<path class="c" color="#ff5a00" d="M489.6 146.7L494 144.8L491 142.0L486.7 143.9Z"/>
<path class="c" color="#ff5d00" d="M497 147.6L501.3 145.8L498.3 142.9L494 144.8Z"/>
<path class="c" color="#ff5800" d="M492.7 149.5L497 147.6L494 144.8L489.6 146.7Z"/>
<path class="m" d="M492.7 149.5L501.3 145.8L495.3 140.2L486.7 143.9Z"/>
<path class="c" color="#ff5600" d="M485.3 148.6L489.6 146.7L486.7 143.9L482.3 145.9Z"/>
<path class="c" color="#ff5300" d="M481 150.7L485.3 148.6L482.3 145.9L478 148.0Z"/>
<path class="c" color="#ff5300" d="M488.3 151.5L492.7 149.5L489.6 146.7L485.3 148.6Z"/>
<path class="c" color="#ff5000" d="M483.9 153.5L488.3 151.5L485.3 148.6L481 150.7Z"/>
<path class="m" d="M483.9 153.5L492.7 149.5L486.7 143.9L478 148.0Z"/>
<path class="c" color="#ff5100" d="M476.6 152.8L481 150.7L478 148.0L473.6 150.2Z"/>
<path class="c" color="#ff5000" d="M472.2 155.0L476.6 152.8L473.6 150.2L469.3 152.4Z"/>
<path class="c" color="#ff4d00" d="M479.6 155.6L483.9 153.5L481 150.7L476.6 152.8Z"/>
<path class="c" color="#ff4b00" d="M475.2 157.7L479.6 155.6L476.6 152.8L472.2 155.0Z"/>
<path class="m" d="M475.2 157.7L483.9 153.5L478 148.0L469.3 152.4Z"/>
<path class="c" color="#00a9ff" d="M631.4 128.5L634.7 129.0L631.8 125.1L628.5 124.7Z"/>
<path class="c" color="#00cfff" d="M628 128.2L631.4 128.5L628.5 124.7L625.1 124.4Z"/>
<path class="c" color="#0093ff" d="M634.3 132.5L637.6 132.9L634.7 129.0L631.4 128.5Z"/>
<path class="c" color="#00baff" d="M631 132.1L634.3 132.5L631.4 128.5L628 128.2Z"/>
<path class="m" d="M631 132.1L637.6 132.9L631.8 125.1L625.1 124.4Z"/>
<path class="c" color="#00f3ff" d="M624.7 127.9L628 128.2L625.1 124.4L621.7 124.1Z"/>
<path class="c" color="#00ffe7" d="M621.2 127.6L624.7 127.9L621.7 124.1L618.3 123.8Z"/>
<path class="c" color="#00dfff" d="M627.6 131.8L631 132.1L628 128.2L624.7 127.9Z"/>
<path class="c" color="#00fffb" d="M624.2 131.5L627.6 131.8L624.7 127.9L621.2 127.6Z"/>
<path class="m" d="M624.2 131.5L631 132.1L625.1 124.4L618.3 123.8Z"/>
<path class="c" color="#00ffc4" d="M617.8 127.4L621.2 127.6L618.3 123.8L614.8 123.6Z"/>
<path class="c" color="#00ffa2" d="M614.3 127.2L617.8 127.4L614.8 123.6L611.3 123.5Z"/>
<path class="c" color="#00ffd7" d="M620.8 131.3L624.2 131.5L621.2 127.6L617.8 127.4Z"/>
<path class="c" color="#00ffb5" d="M617.3 131.1L620.8 131.3L617.8 127.4L614.3 127.2Z"/>
<path class="m" d="M617.3 131.1L624.2 131.5L618.3 123.8L611.3 123.5Z"/>
<path class="c" color="#00ff81" d="M610.8 127.1L614.3 127.2L611.3 123.5L607.8 123.4Z"/>
<path class="c" color="#00ff61" d="M607.2 127.1L610.8 127.1L607.8 123.4L604.2 123.4Z"/>
<path class="c" color="#00ff93" d="M613.8 131.0L617.3 131.1L614.3 127.2L610.8 127.1Z"/>
<path class="c" color="#00ff73" d="M610.2 130.9L613.8 131.0L610.8 127.1L607.2 127.1Z"/>
<path class="m" d="M610.2 130.9L617.3 131.1L611.3 123.5L604.2 123.4Z"/>
<path class="c" color="#00ff42" d="M603.6 127.1L607.2 127.1L604.2 123.4L600.6 123.5Z"/>
<path class="c" color="#00ff24" d="M600 127.2L603.6 127.1L600.6 123.5L597 123.6Z"/>
<path class="c" color="#00ff53" d="M606.6 130.9L610.2 130.9L607.2 127.1L603.6 127.1Z"/>
<path class="c" color="#00ff34" d="M603 131.0L606.6 130.9L603.6 127.1L600 127.2Z"/>
<path class="m" d="M603 131.0L610.2 130.9L604.2 123.4L597 123.6Z"/>
<path class="c" color="#00ff07" d="M596.4 127.4L600 127.2L597 123.6L593.3 123.7Z"/>
<path class="c" color="#16ff00" d="M592.7 127.6L596.4 127.4L593.3 123.7L589.7 124.0Z"/>
<path class="c" color="#00ff16" d="M599.4 131.1L603 131.0L600 127.2L596.4 127.4Z"/>
<path class="c" color="#07ff00" d="M595.7 131.3L599.4 131.1L596.4 127.4L592.7 127.6Z"/>
<path class="m" d="M595.7 131.3L603 131.0L597 123.6L589.7 124.0Z"/>
<path class="c" color="#31ff00" d="M589 127.8L592.7 127.6L589.7 124.0L585.9 124.3Z"/>
<path class="c" color="#4cff00" d="M585.2 128.2L589 127.8L585.9 124.3L582.2 124.6Z"/>
<path class="c" color="#22ff00" d="M592 131.5L595.7 131.3L592.7 127.6L589 127.8Z"/>
<path class="c" color="#3eff00" d="M588.3 131.8L592 131.5L589 127.8L585.2 128.2Z"/>
<path class="m" d="M588.3 131.8L595.7 131.3L589.7 124.0L582.2 124.6Z"/>
<path class="c" color="#65ff00" d="M581.4 128.6L585.2 128.2L582.2 124.6L578.4 125.0Z"/>
<path class="c" color="#7eff00" d="M577.6 129.0L581.4 128.6L578.4 125.0L574.6 125.5Z"/>
<path class="c" color="#58ff00" d="M584.5 132.2L588.3 131.8L585.2 128.2L581.4 128.6Z"/>
<path class="c" color="#71ff00" d="M580.7 132.6L584.5 132.2L581.4 128.6L577.6 129.0Z"/>
<path class="m" d="M580.7 132.6L588.3 131.8L582.2 124.6L574.6 125.5Z"/>
<path class="c" color="#95ff00" d="M573.8 129.5L577.6 129.0L574.6 125.5L570.7 126.1Z"/>
<path class="c" color="#acff00" d="M569.9 130.1L573.8 129.5L570.7 126.1L566.9 126.7Z"/>
<path class="c" color="#89ff00" d="M576.9 133.1L580.7 132.6L577.6 129.0L573.8 129.5Z"/>
<path class="c" color="#a0ff00" d="M573 133.7L576.9 133.1L573.8 129.5L569.9 130.1Z"/>
<path class="m" d="M573 133.7L580.7 132.6L574.6 125.5L566.9 126.7Z"/>
<path class="c" color="#c2ff00" d="M566 130.8L569.9 130.1L566.9 126.7L563 127.4Z"/>
<path class="c" color="#d7ff00" d="M562.1 131.5L566 130.8L563 127.4L559 128.1Z"/>
<path class="c" color="#b7ff00" d="M569.1 134.3L573 133.7L569.9 130.1L566 130.8Z"/>
<path class="c" color="#ccff00" d="M565.2 135.0L569.1 134.3L566 130.8L562.1 131.5Z"/>
<path class="m" d="M565.2 135.0L573 133.7L566.9 126.7L559 128.1Z"/>
<path class="c" color="#ebff00" d="M558.2 132.3L562.1 131.5L559 128.1L555.1 128.9Z"/>
<path class="c" color="#feff00" d="M554.2 133.1L558.2 132.3L555.1 128.9L551.1 129.8Z"/>
<path class="c" color="#e1ff00" d="M561.2 135.8L565.2 135.0L562.1 131.5L558.2 132.3Z"/>
<path class="c" color="#f4ff00" d="M557.2 136.6L561.2 135.8L558.2 132.3L554.2 133.1Z"/>
<path class="m" d="M557.2 136.6L565.2 135.0L559 128.1L551.1 129.8Z"/>
<path class="c" color="#ffee00" d="M550.2 134.1L554.2 133.1L551.1 129.8L547.1 130.7Z"/>
<path class="c" color="#ffdd00" d="M546.1 135.1L550.2 134.1L547.1 130.7L543 131.8Z"/>
<path class="c" color="#fff700" d="M553.2 137.5L557.2 136.6L554.2 133.1L550.2 134.1Z"/>
<path class="c" color="#ffe500" d="M549.2 138.5L553.2 137.5L550.2 134.1L546.1 135.1Z"/>
<path class="m" d="M549.2 138.5L557.2 136.6L551.1 129.8L543 131.8Z"/>
<path class="c" color="#ffcd00" d="M542 136.1L546.1 135.1L543 131.8L539 132.9Z"/>
<path class="c" color="#ffbd00" d="M538 137.3L542 136.1L539 132.9L534.9 134.0Z"/>
<path class="c" color="#ffd400" d="M545.1 139.5L549.2 138.5L546.1 135.1L542 136.1Z"/>
<path class="c" color="#ffc500" d="M541 140.6L545.1 139.5L542 136.1L538 137.3Z"/>
<path class="m" d="M541 140.6L549.2 138.5L543 131.8L534.9 134.0Z"/>
<path class="c" color="#ffaf00" d="M533.8 138.5L538 137.3L534.9 134.0L530.8 135.2Z"/>
<path class="c" color="#ffa200" d="M529.7 139.7L533.8 138.5L530.8 135.2L526.6 136.5Z"/>
<path class="c" color="#ffb600" d="M536.9 141.8L541 140.6L538 137.3L533.8 138.5Z"/>
<path class="c" color="#ffa800" d="M532.8 143.1L536.9 141.8L533.8 138.5L529.7 139.7Z"/>
<path class="m" d="M532.8 143.1L541 140.6L534.9 134.0L526.6 136.5Z"/>
<path class="c" color="#ff9500" d="M525.5 141.1L529.7 139.7L526.6 136.5L522.5 137.9Z"/>
<path class="c" color="#ff8900" d="M521.3 142.5L525.5 141.1L522.5 137.9L518.3 139.3Z"/>
<path class="c" color="#ff9a00" d="M528.6 144.4L532.8 143.1L529.7 139.7L525.5 141.1Z"/>
<path class="c" color="#ff8e00" d="M524.4 145.8L528.6 144.4L525.5 141.1L521.3 142.5Z"/>
<path class="m" d="M524.4 145.8L532.8 143.1L526.6 136.5L518.3 139.3Z"/>
<path class="c" color="#ff7f00" d="M517.1 144.0L521.3 142.5L518.3 139.3L514.1 140.9Z"/>
<path class="c" color="#ff7500" d="M512.9 145.5L517.1 144.0L514.1 140.9L509.8 142.4Z"/>
<path class="c" color="#ff8300" d="M520.2 147.2L524.4 145.8L521.3 142.5L517.1 144.0Z"/>
<path class="c" color="#ff7900" d="M515.9 148.8L520.2 147.2L517.1 144.0L512.9 145.5Z"/>
<path class="m" d="M515.9 148.8L524.4 145.8L518.3 139.3L509.8 142.4Z"/>
<path class="c" color="#ff6c00" d="M508.6 147.2L512.9 145.5L509.8 142.4L505.6 144.1Z"/>
<path class="c" color="#ff6400" d="M504.3 148.9L508.6 147.2L505.6 144.1L501.3 145.8Z"/>
<path class="c" color="#ff6f00" d="M511.7 150.4L515.9 148.8L512.9 145.5L508.6 147.2Z"/>
<path class="c" color="#ff6700" d="M507.4 152.1L511.7 150.4L508.6 147.2L504.3 148.9Z"/>
<path class="m" d="M507.4 152.1L515.9 148.8L509.8 142.4L501.3 145.8Z"/>
<path class="c" color="#ff5d00" d="M500 150.6L504.3 148.9L501.3 145.8L497 147.6Z"/>
<path class="c" color="#ff5700" d="M495.7 152.5L500 150.6L497 147.6L492.7 149.5Z"/>
<path class="c" color="#ff5f00" d="M503.1 153.8L507.4 152.1L504.3 148.9L500 150.6Z"/>
<path class="c" color="#ff5900" d="M498.7 155.6L503.1 153.8L500 150.6L495.7 152.5Z"/>
<path class="m" d="M498.7 155.6L507.4 152.1L501.3 145.8L492.7 149.5Z"/>
<path class="c" color="#ff5200" d="M491.3 154.4L495.7 152.5L492.7 149.5L488.3 151.5Z"/>
<path class="c" color="#ff4e00" d="M487 156.4L491.3 154.4L488.3 151.5L483.9 153.5Z"/>
<path class="c" color="#ff5300" d="M494.4 157.5L498.7 155.6L495.7 152.5L491.3 154.4Z"/>
<path class="c" color="#ff4e00" d="M490 159.5L494.4 157.5L491.3 154.4L487 156.4Z"/>
<path class="m" d="M490 159.5L498.7 155.6L492.7 149.5L483.9 153.5Z"/>
<path class="c" color="#ff4b00" d="M482.6 158.5L487 156.4L483.9 153.5L479.6 155.6Z"/>
<path class="c" color="#ff4900" d="M478.2 160.6L482.6 158.5L479.6 155.6L475.2 157.7Z"/>
<path class="c" color="#ff4b00" d="M485.6 161.5L490 159.5L487 156.4L482.6 158.5Z"/>
<path class="c" color="#ff4800" d="M481.2 163.7L485.6 161.5L482.6 158.5L478.2 160.6Z"/>
<path class="m" d="M481.2 163.7L490 159.5L483.9 153.5L475.2 157.7Z"/>
<path class="c" color="#007cff" d="M637.2 136.6L640.5 137.0L637.6 132.9L634.3 132.5Z"/>
<path class="c" color="#00a3ff" d="M633.9 136.2L637.2 136.6L634.3 132.5L631 132.1Z"/>
<path class="c" color="#0063ff" d="M640.2 140.8L643.4 141.2L640.5 137.0L637.2 136.6Z"/>
<path class="c" color="#008aff" d="M636.8 140.3L640.2 140.8L637.2 136.6L633.9 136.2Z"/>
<path class="m" d="M636.8 140.3L643.4 141.2L637.6 132.9L631 132.1Z"/>
<path class="c" color="#00c9ff" d="M630.5 135.8L633.9 136.2L631 132.1L627.6 131.8Z"/>
<path class="c" color="#00eeff" d="M627.1 135.5L630.5 135.8L627.6 131.8L624.2 131.5Z"/>
<path class="c" color="#00b1ff" d="M633.5 139.9L636.8 140.3L633.9 136.2L630.5 135.8Z"/>
<path class="c" color="#00d6ff" d="M630.1 139.6L633.5 139.9L630.5 135.8L627.1 135.5Z"/>
<path class="m" d="M630.1 139.6L636.8 140.3L631 132.1L624.2 131.5Z"/>
<path class="c" color="#00ffec" d="M623.7 135.2L627.1 135.5L624.2 131.5L620.8 131.3Z"/>
<path class="c" color="#00ffc9" d="M620.2 135.1L623.7 135.2L620.8 131.3L617.3 131.1Z"/>
<path class="c" color="#00fbff" d="M626.7 139.4L630.1 139.6L627.1 135.5L623.7 135.2Z"/>
<path class="c" color="#00ffe0" d="M623.2 139.1L626.7 139.4L623.7 135.2L620.2 135.1Z"/>
<path class="m" d="M623.2 139.1L630.1 139.6L624.2 131.5L617.3 131.1Z"/>
<path class="c" color="#00ffa7" d="M616.7 134.9L620.2 135.1L617.3 131.1L613.8 131.0Z"/>
<path class="c" color="#00ff86" d="M613.2 134.8L616.7 134.9L613.8 131.0L610.2 130.9Z"/>
<path class="c" color="#00ffbd" d="M619.7 139.0L623.2 139.1L620.2 135.1L616.7 134.9Z"/>
<path class="c" color="#00ff9b" d="M616.2 138.9L619.7 139.0L616.7 134.9L613.2 134.8Z"/>
<path class="m" d="M616.2 138.9L623.2 139.1L617.3 131.1L610.2 130.9Z"/>
<path class="c" color="#00ff66" d="M609.6 134.8L613.2 134.8L610.2 130.9L606.6 130.9Z"/>
<path class="c" color="#00ff46" d="M606 134.9L609.6 134.8L606.6 130.9L603 131.0Z"/>
<path class="c" color="#00ff7a" d="M612.7 138.9L616.2 138.9L613.2 134.8L609.6 134.8Z"/>
<path class="c" color="#00ff5a" d="M609.1 138.9L612.7 138.9L609.6 134.8L606 134.9Z"/>
<path class="m" d="M609.1 138.9L616.2 138.9L610.2 130.9L603 131.0Z"/>
<path class="c" color="#00ff28" d="M602.4 135.0L606 134.9L603 131.0L599.4 131.1Z"/>
<path class="c" color="#00ff0b" d="M598.7 135.1L602.4 135.0L599.4 131.1L595.7 131.3Z"/>
<path class="c" color="#00ff3b" d="M605.4 139.0L609.1 138.9L606 134.9L602.4 135.0Z"/>
<path class="c" color="#00ff1d" d="M601.8 139.1L605.4 139.0L602.4 135.0L598.7 135.1Z"/>
<path class="m" d="M601.8 139.1L609.1 138.9L603 131.0L595.7 131.3Z"/>
<path class="c" color="#12ff00" d="M595 135.4L598.7 135.1L595.7 131.3L592 131.5Z"/>
<path class="c" color="#2eff00" d="M591.3 135.6L595 135.4L592 131.5L588.3 131.8Z"/>
<path class="c" color="#00ff00" d="M598.1 139.3L601.8 139.1L598.7 135.1L595 135.4Z"/>
<path class="c" color="#1cff00" d="M594.4 139.6L598.1 139.3L595 135.4L591.3 135.6Z"/>
<path class="m" d="M594.4 139.6L601.8 139.1L595.7 131.3L588.3 131.8Z"/>
<path class="c" color="#48ff00" d="M587.5 136.0L591.3 135.6L588.3 131.8L584.5 132.2Z"/>
<path class="c" color="#62ff00" d="M583.8 136.4L587.5 136.0L584.5 132.2L580.7 132.6Z"/>
<path class="c" color="#37ff00" d="M590.6 139.9L594.4 139.6L591.3 135.6L587.5 136.0Z"/>
<path class="c" color="#52ff00" d="M586.8 140.3L590.6 139.9L587.5 136.0L583.8 136.4Z"/>
<path class="m" d="M586.8 140.3L594.4 139.6L588.3 131.8L580.7 132.6Z"/>
<path class="c" color="#7bff00" d="M579.9 136.9L583.8 136.4L580.7 132.6L576.9 133.1Z"/>
<path class="c" color="#93ff00" d="M576.1 137.4L579.9 136.9L576.9 133.1L573 133.7Z"/>
<path class="c" color="#6bff00" d="M583 140.8L586.8 140.3L583.8 136.4L579.9 136.9Z"/>
<path class="c" color="#84ff00" d="M579.1 141.3L583 140.8L579.9 136.9L576.1 137.4Z"/>
<path class="m" d="M579.1 141.3L586.8 140.3L580.7 132.6L573 133.7Z"/>
<path class="c" color="#aaff00" d="M572.2 138.0L576.1 137.4L573 133.7L569.1 134.3Z"/>
<path class="c" color="#c0ff00" d="M568.3 138.7L572.2 138.0L569.1 134.3L565.2 135.0Z"/>
<path class="c" color="#9bff00" d="M575.3 141.9L579.1 141.3L576.1 137.4L572.2 138.0Z"/>
<path class="c" color="#b2ff00" d="M571.3 142.5L575.3 141.9L572.2 138.0L568.3 138.7Z"/>
<path class="m" d="M571.3 142.5L579.1 141.3L573 133.7L565.2 135.0Z"/>
<path class="c" color="#d5ff00" d="M564.3 139.4L568.3 138.7L565.2 135.0L561.2 135.8Z"/>
<path class="c" color="#e9ff00" d="M560.3 140.3L564.3 139.4L561.2 135.8L557.2 136.6Z"/>
<path class="c" color="#c7ff00" d="M567.4 143.2L571.3 142.5L568.3 138.7L564.3 139.4Z"/>
<path class="c" color="#dcff00" d="M563.4 144.0L567.4 143.2L564.3 139.4L560.3 140.3Z"/>
<path class="m" d="M563.4 144.0L571.3 142.5L565.2 135.0L557.2 136.6Z"/>
<path class="c" color="#fcff00" d="M556.3 141.1L560.3 140.3L557.2 136.6L553.2 137.5Z"/>
<path class="c" color="#ffef00" d="M552.3 142.1L556.3 141.1L553.2 137.5L549.2 138.5Z"/>
<path class="c" color="#f0ff00" d="M559.4 144.9L563.4 144.0L560.3 140.3L556.3 141.1Z"/>
<path class="c" color="#fffb00" d="M555.4 145.8L559.4 144.9L556.3 141.1L552.3 142.1Z"/>
<path class="m" d="M555.4 145.8L563.4 144.0L557.2 136.6L549.2 138.5Z"/>
<path class="c" color="#ffde00" d="M548.2 143.1L552.3 142.1L549.2 138.5L545.1 139.5Z"/>
<path class="c" color="#ffcd00" d="M544.1 144.2L548.2 143.1L545.1 139.5L541 140.6Z"/>
<path class="c" color="#ffe900" d="M551.3 146.8L555.4 145.8L552.3 142.1L548.2 143.1Z"/>
<path class="c" color="#ffd800" d="M547.2 147.8L551.3 146.8L548.2 143.1L544.1 144.2Z"/>
<path class="m" d="M547.2 147.8L555.4 145.8L549.2 138.5L541 140.6Z"/>
<path class="c" color="#ffbe00" d="M540 145.3L544.1 144.2L541 140.6L536.9 141.8Z"/>
<path class="c" color="#ffaf00" d="M535.9 146.5L540 145.3L536.9 141.8L532.8 143.1Z"/>
<path class="c" color="#ffc800" d="M543.1 149.0L547.2 147.8L544.1 144.2L540 145.3Z"/>
<path class="c" color="#ffb900" d="M539 150.1L543.1 149.0L540 145.3L535.9 146.5Z"/>
<path class="m" d="M539 150.1L547.2 147.8L541 140.6L532.8 143.1Z"/>
<path class="c" color="#ffa200" d="M531.7 147.8L535.9 146.5L532.8 143.1L528.6 144.4Z"/>
<path class="c" color="#ff9500" d="M527.5 149.2L531.7 147.8L528.6 144.4L524.4 145.8Z"/>
<path class="c" color="#ffab00" d="M534.8 151.4L539 150.1L535.9 146.5L531.7 147.8Z"/>
<path class="c" color="#ff9d00" d="M530.6 152.8L534.8 151.4L531.7 147.8L527.5 149.2Z"/>
<path class="m" d="M530.6 152.8L539 150.1L532.8 143.1L524.4 145.8Z"/>
<path class="c" color="#ff8900" d="M523.3 150.6L527.5 149.2L524.4 145.8L520.2 147.2Z"/>
<path class="c" color="#ff7e00" d="M519 152.1L523.3 150.6L520.2 147.2L515.9 148.8Z"/>
<path class="c" color="#ff9100" d="M526.4 154.2L530.6 152.8L527.5 149.2L523.3 150.6Z"/>
<path class="c" color="#ff8600" d="M522.1 155.7L526.4 154.2L523.3 150.6L519 152.1Z"/>
<path class="m" d="M522.1 155.7L530.6 152.8L524.4 145.8L515.9 148.8Z"/>
<path class="c" color="#ff7400" d="M514.8 153.7L519 152.1L515.9 148.8L511.7 150.4Z"/>
<path class="c" color="#ff6b00" d="M510.5 155.4L514.8 153.7L511.7 150.4L507.4 152.1Z"/>
<path class="c" color="#ff7b00" d="M517.9 157.2L522.1 155.7L519 152.1L514.8 153.7Z"/>
<path class="c" color="#ff7100" d="M513.6 158.8L517.9 157.2L514.8 153.7L510.5 155.4Z"/>
<path class="m" d="M513.6 158.8L522.1 155.7L515.9 148.8L507.4 152.1Z"/>
<path class="c" color="#ff6300" d="M506.2 157.1L510.5 155.4L507.4 152.1L503.1 153.8Z"/>
<path class="c" color="#ff5c00" d="M501.8 158.9L506.2 157.1L503.1 153.8L498.7 155.6Z"/>
<path class="c" color="#ff6900" d="M509.3 160.5L513.6 158.8L510.5 155.4L506.2 157.1Z"/>
<path class="c" color="#ff6100" d="M504.9 162.3L509.3 160.5L506.2 157.1L501.8 158.9Z"/>
<path class="m" d="M504.9 162.3L513.6 158.8L507.4 152.1L498.7 155.6Z"/>
<path class="c" color="#ff5600" d="M497.5 160.8L501.8 158.9L498.7 155.6L494.4 157.5Z"/>
<path class="c" color="#ff5100" d="M493.1 162.7L497.5 160.8L494.4 157.5L490 159.5Z"/>
<path class="c" color="#ff5a00" d="M500.6 164.2L504.9 162.3L501.8 158.9L497.5 160.8Z"/>
<path class="c" color="#ff5400" d="M496.2 166.1L500.6 164.2L497.5 160.8L493.1 162.7Z"/>
<path class="m" d="M496.2 166.1L504.9 162.3L498.7 155.6L490 159.5Z"/>
<path class="c" color="#ff4c00" d="M488.7 164.7L493.1 162.7L490 159.5L485.6 161.5Z"/>
<path class="c" color="#ff4900" d="M484.3 166.8L488.7 164.7L485.6 161.5L481.2 163.7Z"/>
<path class="c" color="#ff4f00" d="M491.8 168.1L496.2 166.1L493.1 162.7L488.7 164.7Z"/>
<path class="c" color="#ff4b00" d="M487.3 170.1L491.8 168.1L488.7 164.7L484.3 166.8Z"/>
<path class="m" d="M487.3 170.1L496.2 166.1L490 159.5L481.2 163.7Z"/>
<path class="c" color="#0048ff" d="M643.1 145.1L646.3 145.6L643.4 141.2L640.2 140.8Z"/>
<path class="c" color="#0070ff" d="M639.8 144.6L643.1 145.1L640.2 140.8L636.8 140.3Z"/>
<path class="c" color="#002bff" d="M646 149.5L649.2 150.0L646.3 145.6L643.1 145.1Z"/>
<path class="c" color="#0054ff" d="M642.7 149.0L646 149.5L643.1 145.1L639.8 144.6Z"/>
<path class="m" d="M642.7 149.0L649.2 150.0L643.4 141.2L636.8 140.3Z"/>
<path class="c" color="#0097ff" d="M636.4 144.2L639.8 144.6L636.8 140.3L633.5 139.9Z"/>
<path class="c" color="#00bdff" d="M633.1 143.9L636.4 144.2L633.5 139.9L630.1 139.6Z"/>
<path class="c" color="#007bff" d="M639.4 148.6L642.7 149.0L639.8 144.6L636.4 144.2Z"/>
<path class="c" color="#00a2ff" d="M636 148.2L639.4 148.6L636.4 144.2L633.1 143.9Z"/>
<path class="m" d="M636 148.2L642.7 149.0L636.8 140.3L630.1 139.6Z"/>
<path class="c" color="#00e2ff" d="M629.6 143.6L633.1 143.9L630.1 139.6L626.7 139.4Z"/>
<path class="c" color="#00fff8" d="M626.2 143.4L629.6 143.6L626.7 139.4L623.2 139.1Z"/>
<path class="c" color="#00c8ff" d="M632.6 147.9L636 148.2L633.1 143.9L629.6 143.6Z"/>
<path class="c" color="#00edff" d="M629.2 147.7L632.6 147.9L629.6 143.6L626.2 143.4Z"/>
<path class="m" d="M629.2 147.7L636 148.2L630.1 139.6L623.2 139.1Z"/>
<path class="c" color="#00ffd4" d="M622.7 143.2L626.2 143.4L623.2 139.1L619.7 139.0Z"/>
<path class="c" color="#00ffb2" d="M619.2 143.1L622.7 143.2L619.7 139.0L616.2 138.9Z"/>
<path class="c" color="#00ffee" d="M625.7 147.5L629.2 147.7L626.2 143.4L622.7 143.2Z"/>
<path class="c" color="#00ffcb" d="M622.2 147.4L625.7 147.5L622.7 143.2L619.2 143.1Z"/>
<path class="m" d="M622.2 147.4L629.2 147.7L623.2 139.1L616.2 138.9Z"/>
<path class="c" color="#00ff91" d="M615.7 143.0L619.2 143.1L616.2 138.9L612.7 138.9Z"/>
<path class="c" color="#00ff70" d="M612.1 143.0L615.7 143.0L612.7 138.9L609.1 138.9Z"/>
<path class="c" color="#00ffa9" d="M618.7 147.3L622.2 147.4L619.2 143.1L615.7 143.0Z"/>
<path class="c" color="#00ff88" d="M615.1 147.3L618.7 147.3L615.7 143.0L612.1 143.0Z"/>
<path class="m" d="M615.1 147.3L622.2 147.4L616.2 138.9L609.1 138.9Z"/>
<path class="c" color="#00ff50" d="M608.5 143.1L612.1 143.0L609.1 138.9L605.4 139.0Z"/>
<path class="c" color="#00ff32" d="M604.8 143.2L608.5 143.1L605.4 139.0L601.8 139.1Z"/>
<path class="c" color="#00ff67" d="M611.5 147.3L615.1 147.3L612.1 143.0L608.5 143.1Z"/>
<path class="c" color="#00ff48" d="M607.9 147.4L611.5 147.3L608.5 143.1L604.8 143.2Z"/>
<path class="m" d="M607.9 147.4L615.1 147.3L609.1 138.9L601.8 139.1Z"/>
<path class="c" color="#00ff14" d="M601.1 143.4L604.8 143.2L601.8 139.1L598.1 139.3Z"/>
<path class="c" color="#09ff00" d="M597.4 143.6L601.1 143.4L598.1 139.3L594.4 139.6Z"/>
<path class="c" color="#00ff2a" d="M604.2 147.6L607.9 147.4L604.8 143.2L601.1 143.4Z"/>
<path class="c" color="#00ff0d" d="M600.5 147.8L604.2 147.6L601.1 143.4L597.4 143.6Z"/>
<path class="m" d="M600.5 147.8L607.9 147.4L601.8 139.1L594.4 139.6Z"/>
<path class="c" color="#24ff00" d="M593.7 143.9L597.4 143.6L594.4 139.6L590.6 139.9Z"/>
<path class="c" color="#3fff00" d="M589.9 144.3L593.7 143.9L590.6 139.9L586.8 140.3Z"/>
<path class="c" color="#10ff00" d="M596.7 148.1L600.5 147.8L597.4 143.6L593.7 143.9Z"/>
<path class="c" color="#2bff00" d="M593 148.5L596.7 148.1L593.7 143.9L589.9 144.3Z"/>
<path class="m" d="M593 148.5L600.5 147.8L594.4 139.6L586.8 140.3Z"/>
<path class="c" color="#59ff00" d="M586.1 144.7L589.9 144.3L586.8 140.3L583 140.8Z"/>
<path class="c" color="#72ff00" d="M582.2 145.2L586.1 144.7L583 140.8L579.1 141.3Z"/>
<path class="c" color="#46ff00" d="M589.2 148.9L593 148.5L589.9 144.3L586.1 144.7Z"/>
<path class="c" color="#5fff00" d="M585.3 149.4L589.2 148.9L586.1 144.7L582.2 145.2Z"/>
<path class="m" d="M585.3 149.4L593 148.5L586.8 140.3L579.1 141.3Z"/>
<path class="c" color="#8bff00" d="M578.4 145.8L582.2 145.2L579.1 141.3L575.3 141.9Z"/>
<path class="c" color="#a2ff00" d="M574.4 146.4L578.4 145.8L575.3 141.9L571.3 142.5Z"/>
<path class="c" color="#78ff00" d="M581.5 149.9L585.3 149.4L582.2 145.2L578.4 145.8Z"/>
<path class="c" color="#90ff00" d="M577.6 150.5L581.5 149.9L578.4 145.8L574.4 146.4Z"/>
<path class="m" d="M577.6 150.5L585.3 149.4L579.1 141.3L571.3 142.5Z"/>
<path class="c" color="#b8ff00" d="M570.5 147.1L574.4 146.4L571.3 142.5L567.4 143.2Z"/>
<path class="c" color="#cdff00" d="M566.5 147.9L570.5 147.1L567.4 143.2L563.4 144.0Z"/>
<path class="c" color="#a7ff00" d="M573.6 151.2L577.6 150.5L574.4 146.4L570.5 147.1Z"/>
<path class="c" color="#bdff00" d="M569.7 151.9L573.6 151.2L570.5 147.1L566.5 147.9Z"/>
<path class="m" d="M569.7 151.9L577.6 150.5L571.3 142.5L563.4 144.0Z"/>
<path class="c" color="#e2ff00" d="M562.5 148.7L566.5 147.9L563.4 144.0L559.4 144.9Z"/>
<path class="c" color="#f5ff00" d="M558.5 149.6L562.5 148.7L559.4 144.9L555.4 145.8Z"/>
<path class="c" color="#d2ff00" d="M565.7 152.7L569.7 151.9L566.5 147.9L562.5 148.7Z"/>
<path class="c" color="#e6ff00" d="M561.6 153.6L565.7 152.7L562.5 148.7L558.5 149.6Z"/>
<path class="m" d="M561.6 153.6L569.7 151.9L563.4 144.0L555.4 145.8Z"/>
<path class="c" color="#fff600" d="M554.5 150.6L558.5 149.6L555.4 145.8L551.3 146.8Z"/>
<path class="c" color="#ffe500" d="M550.4 151.6L554.5 150.6L551.3 146.8L547.2 147.8Z"/>
<path class="c" color="#f9ff00" d="M557.6 154.5L561.6 153.6L558.5 149.6L554.5 150.6Z"/>
<path class="c" color="#fff300" d="M553.5 155.5L557.6 154.5L554.5 150.6L550.4 151.6Z"/>
<path class="m" d="M553.5 155.5L561.6 153.6L555.4 145.8L547.2 147.8Z"/>
<path class="c" color="#ffd400" d="M546.3 152.7L550.4 151.6L547.2 147.8L543.1 149.0Z"/>
<path class="c" color="#ffc400" d="M542.1 153.9L546.3 152.7L543.1 149.0L539 150.1Z"/>
<path class="c" color="#ffe200" d="M549.4 156.6L553.5 155.5L550.4 151.6L546.3 152.7Z"/>
<path class="c" color="#ffd100" d="M545.3 157.8L549.4 156.6L546.3 152.7L542.1 153.9Z"/>
<path class="m" d="M545.3 157.8L553.5 155.5L547.2 147.8L539 150.1Z"/>
<path class="c" color="#ffb500" d="M537.9 155.1L542.1 153.9L539 150.1L534.8 151.4Z"/>
<path class="c" color="#ffa800" d="M533.7 156.5L537.9 155.1L534.8 151.4L530.6 152.8Z"/>
<path class="c" color="#ffc200" d="M541.1 159.0L545.3 157.8L542.1 153.9L537.9 155.1Z"/>
<path class="c" color="#ffb400" d="M536.9 160.3L541.1 159.0L537.9 155.1L533.7 156.5Z"/>
<path class="m" d="M536.9 160.3L545.3 157.8L539 150.1L530.6 152.8Z"/>
<path class="c" color="#ff9b00" d="M529.5 157.8L533.7 156.5L530.6 152.8L526.4 154.2Z"/>
<path class="c" color="#ff8f00" d="M525.3 159.3L529.5 157.8L526.4 154.2L522.1 155.7Z"/>
<path class="c" color="#ffa600" d="M532.7 161.6L536.9 160.3L533.7 156.5L529.5 157.8Z"/>
<path class="c" color="#ff9900" d="M528.4 163.1L532.7 161.6L529.5 157.8L525.3 159.3Z"/>
<path class="m" d="M528.4 163.1L536.9 160.3L530.6 152.8L522.1 155.7Z"/>
<path class="c" color="#ff8300" d="M521 160.8L525.3 159.3L522.1 155.7L517.9 157.2Z"/>
<path class="c" color="#ff7900" d="M516.7 162.4L521 160.8L517.9 157.2L513.6 158.8Z"/>
<path class="c" color="#ff8e00" d="M524.1 164.6L528.4 163.1L525.3 159.3L521 160.8Z"/>
<path class="c" color="#ff8300" d="M519.8 166.2L524.1 164.6L521 160.8L516.7 162.4Z"/>
<path class="m" d="M519.8 166.2L528.4 163.1L522.1 155.7L513.6 158.8Z"/>
<path class="c" color="#ff7000" d="M512.4 164.1L516.7 162.4L513.6 158.8L509.3 160.5Z"/>
<path class="c" color="#ff6800" d="M508 165.9L512.4 164.1L509.3 160.5L504.9 162.3Z"/>
<path class="c" color="#ff7900" d="M515.5 167.8L519.8 166.2L516.7 162.4L512.4 164.1Z"/>
<path class="c" color="#ff7000" d="M511.2 169.5L515.5 167.8L512.4 164.1L508 165.9Z"/>
<path class="m" d="M511.2 169.5L519.8 166.2L513.6 158.8L504.9 162.3Z"/>
<path class="c" color="#ff6000" d="M503.7 167.7L508 165.9L504.9 162.3L500.6 164.2Z"/>
<path class="c" color="#ff5a00" d="M499.3 169.6L503.7 167.7L500.6 164.2L496.2 166.1Z"/>
<path class="c" color="#ff6800" d="M506.8 171.3L511.2 169.5L508 165.9L503.7 167.7Z"/>
<path class="c" color="#ff6100" d="M502.4 173.2L506.8 171.3L503.7 167.7L499.3 169.6Z"/>
<path class="m" d="M502.4 173.2L511.2 169.5L504.9 162.3L496.2 166.1Z"/>
<path class="c" color="#ff5400" d="M494.9 171.5L499.3 169.6L496.2 166.1L491.8 168.1Z"/>
<path class="c" color="#ff5000" d="M490.4 173.6L494.9 171.5L491.8 168.1L487.3 170.1Z"/>
<path class="c" color="#ff5b00" d="M498 175.2L502.4 173.2L499.3 169.6L494.9 171.5Z"/>
<path class="c" color="#ff5600" d="M493.6 177.2L498 175.2L494.9 171.5L490.4 173.6Z"/>
<path class="m" d="M493.6 177.2L502.4 173.2L496.2 166.1L487.3 170.1Z"/>
<path class="c" color="#000dff" d="M648.9 154.0L652.1 154.5L649.2 150.0L646 149.5Z"/>
<path class="c" color="#0036ff" d="M645.6 153.5L648.9 154.0L646 149.5L642.7 149.0Z"/>
<path class="c" color="#0000ff" d="M651.8 158.7L655 159.2L652.1 154.5L648.9 154.0Z"/>
<path class="c" color="#0016ff" d="M648.5 158.2L651.8 158.7L648.9 154.0L645.6 153.5Z"/>
<path class="m" d="M648.5 158.2L655 159.2L649.2 150.0L642.7 149.0Z"/>
<path class="c" color="#005eff" d="M642.3 153.1L645.6 153.5L642.7 149.0L639.4 148.6Z"/>
<path class="c" color="#0085ff" d="M638.9 152.7L642.3 153.1L639.4 148.6L636 148.2Z"/>
<path class="c" color="#003fff" d="M645.2 157.7L648.5 158.2L645.6 153.5L642.3 153.1Z"/>
<path class="c" color="#0067ff" d="M641.9 157.3L645.2 157.7L642.3 153.1L638.9 152.7Z"/>
<path class="m" d="M641.9 157.3L648.5 158.2L642.7 149.0L636 148.2Z"/>
<path class="c" color="#00acff" d="M635.6 152.4L638.9 152.7L636 148.2L632.6 147.9Z"/>
<path class="c" color="#00d1ff" d="M632.1 152.2L635.6 152.4L632.6 147.9L629.2 147.7Z"/>
<path class="c" color="#008eff" d="M638.5 157.0L641.9 157.3L638.9 152.7L635.6 152.4Z"/>
<path class="c" color="#00b4ff" d="M635.1 156.7L638.5 157.0L635.6 152.4L632.1 152.2Z"/>
<path class="m" d="M635.1 156.7L641.9 157.3L636 148.2L629.2 147.7Z"/>
<path class="c" color="#00f5ff" d="M628.7 152.0L632.1 152.2L629.2 147.7L625.7 147.5Z"/>
<path class="c" color="#00ffe5" d="M625.2 151.8L628.7 152.0L625.7 147.5L622.2 147.4Z"/>
<path class="c" color="#00d9ff" d="M631.7 156.5L635.1 156.7L632.1 152.2L628.7 152.0Z"/>
<path class="c" color="#00fdff" d="M628.2 156.3L631.7 156.5L628.7 152.0L625.2 151.8Z"/>
<path class="m" d="M628.2 156.3L635.1 156.7L629.2 147.7L622.2 147.4Z"/>
<path class="c" color="#00ffc2" d="M621.7 151.7L625.2 151.8L622.2 147.4L618.7 147.3Z"/>
<path class="c" color="#00ffa1" d="M618.1 151.7L621.7 151.7L618.7 147.3L615.1 147.3Z"/>
<path class="c" color="#00ffde" d="M624.7 156.2L628.2 156.3L625.2 151.8L621.7 151.7Z"/>
<path class="c" color="#00ffbc" d="M621.1 156.2L624.7 156.2L621.7 151.7L618.1 151.7Z"/>
<path class="m" d="M621.1 156.2L628.2 156.3L622.2 147.4L615.1 147.3Z"/>
<path class="c" color="#00ff80" d="M614.5 151.7L618.1 151.7L615.1 147.3L611.5 147.3Z"/>
<path class="c" color="#00ff60" d="M610.9 151.8L614.5 151.7L611.5 147.3L607.9 147.4Z"/>
<path class="c" color="#00ff9b" d="M617.5 156.2L621.1 156.2L618.1 151.7L614.5 151.7Z"/>
<path class="c" color="#00ff7a" d="M613.9 156.3L617.5 156.2L614.5 151.7L610.9 151.8Z"/>
<path class="m" d="M613.9 156.3L621.1 156.2L615.1 147.3L607.9 147.4Z"/>
<path class="c" color="#00ff41" d="M607.2 151.9L610.9 151.8L607.9 147.4L604.2 147.6Z"/>
<path class="c" color="#00ff24" d="M603.5 152.1L607.2 151.9L604.2 147.6L600.5 147.8Z"/>
<path class="c" color="#00ff5b" d="M610.3 156.4L613.9 156.3L610.9 151.8L607.2 151.9Z"/>
<path class="c" color="#00ff3c" d="M606.6 156.6L610.3 156.4L607.2 151.9L603.5 152.1Z"/>
<path class="m" d="M606.6 156.6L613.9 156.3L607.9 147.4L600.5 147.8Z"/>
<path class="c" color="#00ff07" d="M599.8 152.4L603.5 152.1L600.5 147.8L596.7 148.1Z"/>
<path class="c" color="#15ff00" d="M596 152.7L599.8 152.4L596.7 148.1L593 148.5Z"/>
<path class="c" color="#00ff1f" d="M602.9 156.8L606.6 156.6L603.5 152.1L599.8 152.4Z"/>
<path class="c" color="#00ff02" d="M599.1 157.1L602.9 156.8L599.8 152.4L596 152.7Z"/>
<path class="m" d="M599.1 157.1L606.6 156.6L600.5 147.8L593 148.5Z"/>
<path class="c" color="#31ff00" d="M592.2 153.1L596 152.7L593 148.5L589.2 148.9Z"/>
<path class="c" color="#4bff00" d="M588.4 153.6L592.2 153.1L589.2 148.9L585.3 149.4Z"/>
<path class="c" color="#1aff00" d="M595.3 157.5L599.1 157.1L596 152.7L592.2 153.1Z"/>
<path class="c" color="#34ff00" d="M591.5 157.9L595.3 157.5L592.2 153.1L588.4 153.6Z"/>
<path class="m" d="M591.5 157.9L599.1 157.1L593 148.5L585.3 149.4Z"/>
<path class="c" color="#64ff00" d="M584.6 154.1L588.4 153.6L585.3 149.4L581.5 149.9Z"/>
<path class="c" color="#7cff00" d="M580.7 154.7L584.6 154.1L581.5 149.9L577.6 150.5Z"/>
<path class="c" color="#4eff00" d="M587.7 158.4L591.5 157.9L588.4 153.6L584.6 154.1Z"/>
<path class="c" color="#67ff00" d="M583.8 159.0L587.7 158.4L584.6 154.1L580.7 154.7Z"/>
<path class="m" d="M583.8 159.0L591.5 157.9L585.3 149.4L577.6 150.5Z"/>
<path class="c" color="#94ff00" d="M576.7 155.3L580.7 154.7L577.6 150.5L573.6 151.2Z"/>
<path class="c" color="#aaff00" d="M572.8 156.1L576.7 155.3L573.6 151.2L569.7 151.9Z"/>
<path class="c" color="#7fff00" d="M579.9 159.6L583.8 159.0L580.7 154.7L576.7 155.3Z"/>
<path class="c" color="#96ff00" d="M575.9 160.3L579.9 159.6L576.7 155.3L572.8 156.1Z"/>
<path class="m" d="M575.9 160.3L583.8 159.0L577.6 150.5L569.7 151.9Z"/>
<path class="c" color="#c0ff00" d="M568.8 156.8L572.8 156.1L569.7 151.9L565.7 152.7Z"/>
<path class="c" color="#d4ff00" d="M564.8 157.7L568.8 156.8L565.7 152.7L561.6 153.6Z"/>
<path class="c" color="#acff00" d="M571.9 161.1L575.9 160.3L572.8 156.1L568.8 156.8Z"/>
<path class="c" color="#c1ff00" d="M567.9 161.9L571.9 161.1L568.8 156.8L564.8 157.7Z"/>
<path class="m" d="M567.9 161.9L575.9 160.3L569.7 151.9L561.6 153.6Z"/>
<path class="c" color="#e8ff00" d="M560.7 158.6L564.8 157.7L561.6 153.6L557.6 154.5Z"/>
<path class="c" color="#fbff00" d="M556.6 159.6L560.7 158.6L557.6 154.5L553.5 155.5Z"/>
<path class="c" color="#d6ff00" d="M563.9 162.8L567.9 161.9L564.8 157.7L560.7 158.6Z"/>
<path class="c" color="#e9ff00" d="M559.8 163.8L563.9 162.8L560.7 158.6L556.6 159.6Z"/>
<path class="m" d="M559.8 163.8L567.9 161.9L561.6 153.6L553.5 155.5Z"/>
<path class="c" color="#fff100" d="M552.5 160.7L556.6 159.6L553.5 155.5L549.4 156.6Z"/>
<path class="c" color="#ffe000" d="M548.4 161.8L552.5 160.7L549.4 156.6L545.3 157.8Z"/>
<path class="c" color="#fbff00" d="M555.7 164.8L559.8 163.8L556.6 159.6L552.5 160.7Z"/>
<path class="c" color="#fff100" d="M551.6 165.9L555.7 164.8L552.5 160.7L548.4 161.8Z"/>
<path class="m" d="M551.6 165.9L559.8 163.8L553.5 155.5L545.3 157.8Z"/>
<path class="c" color="#ffd000" d="M544.2 163.0L548.4 161.8L545.3 157.8L541.1 159.0Z"/>
<path class="c" color="#ffc100" d="M540 164.3L544.2 163.0L541.1 159.0L536.9 160.3Z"/>
<path class="c" color="#ffe000" d="M547.4 167.1L551.6 165.9L548.4 161.8L544.2 163.0Z"/>
<path class="c" color="#ffd100" d="M543.2 168.4L547.4 167.1L544.2 163.0L540 164.3Z"/>
<path class="m" d="M543.2 168.4L551.6 165.9L545.3 157.8L536.9 160.3Z"/>
<path class="c" color="#ffb300" d="M535.8 165.6L540 164.3L536.9 160.3L532.7 161.6Z"/>
<path class="c" color="#ffa600" d="M531.6 167.0L535.8 165.6L532.7 161.6L528.4 163.1Z"/>
<path class="c" color="#ffc200" d="M539 169.7L543.2 168.4L540 164.3L535.8 165.6Z"/>
<path class="c" color="#ffb400" d="M534.8 171.1L539 169.7L535.8 165.6L531.6 167.0Z"/>
<path class="m" d="M534.8 171.1L543.2 168.4L536.9 160.3L528.4 163.1Z"/>
<path class="c" color="#ff9a00" d="M527.3 168.5L531.6 167.0L528.4 163.1L524.1 164.6Z"/>
<path class="c" color="#ff8e00" d="M523 170.0L527.3 168.5L524.1 164.6L519.8 166.2Z"/>
<path class="c" color="#ffa800" d="M530.5 172.5L534.8 171.1L531.6 167.0L527.3 168.5Z"/>
<path class="c" color="#ff9c00" d="M526.2 174.1L530.5 172.5L527.3 168.5L523 170.0Z"/>
<path class="m" d="M526.2 174.1L534.8 171.1L528.4 163.1L519.8 166.2Z"/>
<path class="c" color="#ff8400" d="M518.7 171.7L523 170.0L519.8 166.2L515.5 167.8Z"/>
<path class="c" color="#ff7b00" d="M514.3 173.4L518.7 171.7L515.5 167.8L511.2 169.5Z"/>
<path class="c" color="#ff9100" d="M521.9 175.7L526.2 174.1L523 170.0L518.7 171.7Z"/>
<path class="c" color="#ff8700" d="M517.5 177.3L521.9 175.7L518.7 171.7L514.3 173.4Z"/>
<path class="m" d="M517.5 177.3L526.2 174.1L519.8 166.2L511.2 169.5Z"/>
<path class="c" color="#ff7200" d="M510 175.1L514.3 173.4L511.2 169.5L506.8 171.3Z"/>
<path class="c" color="#ff6a00" d="M505.6 177.0L510 175.1L506.8 171.3L502.4 173.2Z"/>
<path class="c" color="#ff7e00" d="M513.1 179.1L517.5 177.3L514.3 173.4L510 175.1Z"/>
<path class="c" color="#ff7500" d="M508.7 180.9L513.1 179.1L510 175.1L505.6 177.0Z"/>
<path class="m" d="M508.7 180.9L517.5 177.3L511.2 169.5L502.4 173.2Z"/>
<path class="c" color="#ff6400" d="M501.2 178.9L505.6 177.0L502.4 173.2L498 175.2Z"/>
<path class="c" color="#ff5e00" d="M496.7 180.9L501.2 178.9L498 175.2L493.6 177.2Z"/>
<path class="c" color="#ff6e00" d="M504.3 182.8L508.7 180.9L505.6 177.0L501.2 178.9Z"/>
<path class="c" color="#ff6800" d="M499.9 184.8L504.3 182.8L501.2 178.9L496.7 180.9Z"/>
<path class="m" d="M499.9 184.8L508.7 180.9L502.4 173.2L493.6 177.2Z"/>
<path class="c" color="#0000ff" d="M654.6 163.4L657.9 164.0L655 159.2L651.8 158.7Z"/>
<path class="c" color="#0000ff" d="M651.4 162.9L654.6 163.4L651.8 158.7L648.5 158.2Z"/>
<path class="c" color="#0000ff" d="M657.5 168.3L660.7 168.9L657.9 164.0L654.6 163.4Z"/>
<path class="c" color="#0000ff" d="M654.3 167.8L657.5 168.3L654.6 163.4L651.4 162.9Z"/>
<path class="m" d="M654.3 167.8L660.7 168.9L655 159.2L648.5 158.2Z"/>
<path class="c" color="#001eff" d="M648.1 162.5L651.4 162.9L648.5 158.2L645.2 157.7Z"/>
<path class="c" color="#0047ff" d="M644.8 162.1L648.1 162.5L645.2 157.7L641.9 157.3Z"/>
<path class="c" color="#0000ff" d="M651 167.3L654.3 167.8L651.4 162.9L648.1 162.5Z"/>
<path class="c" color="#0024ff" d="M647.7 166.9L651 167.3L648.1 162.5L644.8 162.1Z"/>
<path class="m" d="M647.7 166.9L654.3 167.8L648.5 158.2L641.9 157.3Z"/>
<path class="c" color="#006eff" d="M641.4 161.7L644.8 162.1L641.9 157.3L638.5 157.0Z"/>
<path class="c" color="#0094ff" d="M638.1 161.4L641.4 161.7L638.5 157.0L635.1 156.7Z"/>
<path class="c" color="#004cff" d="M644.4 166.5L647.7 166.9L644.8 162.1L641.4 161.7Z"/>
<path class="c" color="#0074ff" d="M641 166.2L644.4 166.5L641.4 161.7L638.1 161.4Z"/>
<path class="m" d="M641 166.2L647.7 166.9L641.9 157.3L635.1 156.7Z"/>
<path class="c" color="#00baff" d="M634.6 161.2L638.1 161.4L635.1 156.7L631.7 156.5Z"/>
<path class="c" color="#00dfff" d="M631.2 161.0L634.6 161.2L631.7 156.5L628.2 156.3Z"/>
<path class="c" color="#009aff" d="M637.6 166.0L641 166.2L638.1 161.4L634.6 161.2Z"/>
<path class="c" color="#00bfff" d="M634.1 165.8L637.6 166.0L634.6 161.2L631.2 161.0Z"/>
<path class="m" d="M634.1 165.8L641 166.2L635.1 156.7L628.2 156.3Z"/>
<path class="c" color="#00fffc" d="M627.7 160.9L631.2 161.0L628.2 156.3L624.7 156.2Z"/>
<path class="c" color="#00ffd9" d="M624.1 160.8L627.7 160.9L624.7 156.2L621.1 156.2Z"/>
<path class="c" color="#00e3ff" d="M630.7 165.7L634.1 165.8L631.2 161.0L627.7 160.9Z"/>
<path class="c" color="#00fff7" d="M627.1 165.6L630.7 165.7L627.7 160.9L624.1 160.8Z"/>
<path class="m" d="M627.1 165.6L634.1 165.8L628.2 156.3L621.1 156.2Z"/>
<path class="c" color="#00ffb7" d="M620.6 160.8L624.1 160.8L621.1 156.2L617.5 156.2Z"/>
<path class="c" color="#00ff96" d="M617 160.9L620.6 160.8L617.5 156.2L613.9 156.3Z"/>
<path class="c" color="#00ffd5" d="M623.6 165.5L627.1 165.6L624.1 160.8L620.6 160.8Z"/>
<path class="c" color="#00ffb3" d="M620 165.6L623.6 165.5L620.6 160.8L617 160.9Z"/>
<path class="m" d="M620 165.6L627.1 165.6L621.1 156.2L613.9 156.3Z"/>
<path class="c" color="#00ff76" d="M613.3 161.0L617 160.9L613.9 156.3L610.3 156.4Z"/>
<path class="c" color="#00ff57" d="M609.6 161.1L613.3 161.0L610.3 156.4L606.6 156.6Z"/>
<path class="c" color="#00ff93" d="M616.4 165.7L620 165.6L617 160.9L613.3 161.0Z"/>
<path class="c" color="#00ff73" d="M612.7 165.8L616.4 165.7L613.3 161.0L609.6 161.1Z"/>
<path class="m" d="M612.7 165.8L620 165.6L613.9 156.3L606.6 156.6Z"/>
<path class="c" color="#00ff39" d="M605.9 161.4L609.6 161.1L606.6 156.6L602.9 156.8Z"/>
<path class="c" color="#00ff1c" d="M602.2 161.7L605.9 161.4L602.9 156.8L599.1 157.1Z"/>
<path class="c" color="#00ff54" d="M609 166.0L612.7 165.8L609.6 161.1L605.9 161.4Z"/>
<path class="c" color="#00ff37" d="M605.3 166.3L609 166.0L605.9 161.4L602.2 161.7Z"/>
<path class="m" d="M605.3 166.3L612.7 165.8L606.6 156.6L599.1 157.1Z"/>
<path class="c" color="#01ff00" d="M598.4 162.0L602.2 161.7L599.1 157.1L595.3 157.5Z"/>
<path class="c" color="#1cff00" d="M594.6 162.4L598.4 162.0L595.3 157.5L591.5 157.9Z"/>
<path class="c" color="#00ff1a" d="M601.5 166.6L605.3 166.3L602.2 161.7L598.4 162.0Z"/>
<path class="c" color="#02ff00" d="M597.7 167.0L601.5 166.6L598.4 162.0L594.6 162.4Z"/>
<path class="m" d="M597.7 167.0L605.3 166.3L599.1 157.1L591.5 157.9Z"/>
<path class="c" color="#37ff00" d="M590.8 162.9L594.6 162.4L591.5 157.9L587.7 158.4Z"/>
<path class="c" color="#50ff00" d="M586.9 163.5L590.8 162.9L587.7 158.4L583.8 159.0Z"/>
<path class="c" color="#1dff00" d="M593.9 167.5L597.7 167.0L594.6 162.4L590.8 162.9Z"/>
<path class="c" color="#37ff00" d="M590 168.0L593.9 167.5L590.8 162.9L586.9 163.5Z"/>
<path class="m" d="M590 168.0L597.7 167.0L591.5 157.9L583.8 159.0Z"/>
<path class="c" color="#69ff00" d="M583 164.1L586.9 163.5L583.8 159.0L579.9 159.6Z"/>
<path class="c" color="#80ff00" d="M579 164.7L583 164.1L579.9 159.6L575.9 160.3Z"/>
<path class="c" color="#50ff00" d="M586.1 168.6L590 168.0L586.9 163.5L583 164.1Z"/>
<path class="c" color="#69ff00" d="M582.2 169.3L586.1 168.6L583 164.1L579 164.7Z"/>
<path class="m" d="M582.2 169.3L590 168.0L583.8 159.0L575.9 160.3Z"/>
<path class="c" color="#97ff00" d="M575.1 165.5L579 164.7L575.9 160.3L571.9 161.1Z"/>
<path class="c" color="#adff00" d="M571.1 166.3L575.1 165.5L571.9 161.1L567.9 161.9Z"/>
<path class="c" color="#80ff00" d="M578.2 170.0L582.2 169.3L579 164.7L575.1 165.5Z"/>
<path class="c" color="#96ff00" d="M574.2 170.8L578.2 170.0L575.1 165.5L571.1 166.3Z"/>
<path class="m" d="M574.2 170.8L582.2 169.3L575.9 160.3L567.9 161.9Z"/>
<path class="c" color="#c2ff00" d="M567 167.2L571.1 166.3L567.9 161.9L563.9 162.8Z"/>
<path class="c" color="#d5ff00" d="M563 168.1L567 167.2L563.9 162.8L559.8 163.8Z"/>
<path class="c" color="#acff00" d="M570.2 171.7L574.2 170.8L571.1 166.3L567 167.2Z"/>
<path class="c" color="#c0ff00" d="M566.1 172.6L570.2 171.7L567 167.2L563 168.1Z"/>
<path class="m" d="M566.1 172.6L574.2 170.8L567.9 161.9L559.8 163.8Z"/>
<path class="c" color="#e8ff00" d="M558.9 169.1L563 168.1L559.8 163.8L555.7 164.8Z"/>
<path class="c" color="#faff00" d="M554.7 170.2L558.9 169.1L555.7 164.8L551.6 165.9Z"/>
<path class="c" color="#d4ff00" d="M562 173.6L566.1 172.6L563 168.1L558.9 169.1Z"/>
<path class="c" color="#e6ff00" d="M557.9 174.6L562 173.6L558.9 169.1L554.7 170.2Z"/>
<path class="m" d="M557.9 174.6L566.1 172.6L559.8 163.8L551.6 165.9Z"/>
<path class="c" color="#fff200" d="M550.6 171.4L554.7 170.2L551.6 165.9L547.4 167.1Z"/>
<path class="c" color="#ffe200" d="M546.4 172.6L550.6 171.4L547.4 167.1L543.2 168.4Z"/>
<path class="c" color="#f8ff00" d="M553.8 175.8L557.9 174.6L554.7 170.2L550.6 171.4Z"/>
<path class="c" color="#fff500" d="M549.6 177.0L553.8 175.8L550.6 171.4L546.4 172.6Z"/>
<path class="m" d="M549.6 177.0L557.9 174.6L551.6 165.9L543.2 168.4Z"/>
<path class="c" color="#ffd300" d="M542.2 173.9L546.4 172.6L543.2 168.4L539 169.7Z"/>
<path class="c" color="#ffc500" d="M537.9 175.3L542.2 173.9L539 169.7L534.8 171.1Z"/>
<path class="c" color="#ffe500" d="M545.4 178.2L549.6 177.0L546.4 172.6L542.2 173.9Z"/>
<path class="c" color="#ffd700" d="M541.1 179.6L545.4 178.2L542.2 173.9L537.9 175.3Z"/>
<path class="m" d="M541.1 179.6L549.6 177.0L543.2 168.4L534.8 171.1Z"/>
<path class="c" color="#ffb700" d="M533.7 176.7L537.9 175.3L534.8 171.1L530.5 172.5Z"/>
<path class="c" color="#ffab00" d="M529.4 178.2L533.7 176.7L530.5 172.5L526.2 174.1Z"/>
<path class="c" color="#ffc900" d="M536.9 181.0L541.1 179.6L537.9 175.3L533.7 176.7Z"/>
<path class="c" color="#ffbc00" d="M532.6 182.5L536.9 181.0L533.7 176.7L529.4 178.2Z"/>
<path class="m" d="M532.6 182.5L541.1 179.6L534.8 171.1L526.2 174.1Z"/>
<path class="c" color="#ff9f00" d="M525.1 179.8L529.4 178.2L526.2 174.1L521.9 175.7Z"/>
<path class="c" color="#ff9500" d="M520.7 181.4L525.1 179.8L521.9 175.7L517.5 177.3Z"/>
<path class="c" color="#ffaf00" d="M528.3 184.0L532.6 182.5L529.4 178.2L525.1 179.8Z"/>
<path class="c" color="#ffa400" d="M523.9 185.7L528.3 184.0L525.1 179.8L520.7 181.4Z"/>
<path class="m" d="M523.9 185.7L532.6 182.5L526.2 174.1L517.5 177.3Z"/>
<path class="c" color="#ff8b00" d="M516.3 183.2L520.7 181.4L517.5 177.3L513.1 179.1Z"/>
<path class="c" color="#ff8200" d="M511.9 185.0L516.3 183.2L513.1 179.1L508.7 180.9Z"/>
<path class="c" color="#ff9a00" d="M519.5 187.4L523.9 185.7L520.7 181.4L516.3 183.2Z"/>
<path class="c" color="#ff9100" d="M515.1 189.2L519.5 187.4L516.3 183.2L511.9 185.0Z"/>
<path class="m" d="M515.1 189.2L523.9 185.7L517.5 177.3L508.7 180.9Z"/>
<path class="c" color="#ff7a00" d="M507.5 186.8L511.9 185.0L508.7 180.9L504.3 182.8Z"/>
<path class="c" color="#ff7300" d="M503.1 188.8L507.5 186.8L504.3 182.8L499.9 184.8Z"/>
<path class="c" color="#ff8800" d="M510.7 191.0L515.1 189.2L511.9 185.0L507.5 186.8Z"/>
<path class="c" color="#ff8100" d="M506.3 192.9L510.7 191.0L507.5 186.8L503.1 188.8Z"/>
<path class="m" d="M506.3 192.9L515.1 189.2L508.7 180.9L499.9 184.8Z"/>
<path class="c" color="#0000ff" d="M660.4 173.3L663.6 173.9L660.7 168.9L657.5 168.3Z"/>
<path class="c" color="#0000ff" d="M657.2 172.8L660.4 173.3L657.5 168.3L654.3 167.8Z"/>
<path class="c" color="#0000ff" d="M663.2 178.4L666.4 179.0L663.6 173.9L660.4 173.3Z"/>
<path class="c" color="#0000ff" d="M660 177.8L663.2 178.4L660.4 173.3L657.2 172.8Z"/>
<path class="m" d="M660 177.8L666.4 179.0L660.7 168.9L654.3 167.8Z"/>
<path class="c" color="#0000ff" d="M653.9 172.3L657.2 172.8L654.3 167.8L651 167.3Z"/>
<path class="c" color="#0001ff" d="M650.6 171.9L653.9 172.3L651 167.3L647.7 166.9Z"/>
<path class="c" color="#0000ff" d="M656.8 177.3L660 177.8L657.2 172.8L653.9 172.3Z"/>
<path class="c" color="#0000ff" d="M653.5 176.9L656.8 177.3L653.9 172.3L650.6 171.9Z"/>
<path class="m" d="M653.5 176.9L660 177.8L654.3 167.8L647.7 166.9Z"/>
<path class="c" color="#0029ff" d="M647.3 171.5L650.6 171.9L647.7 166.9L644.4 166.5Z"/>
<path class="c" color="#0051ff" d="M643.9 171.2L647.3 171.5L644.4 166.5L641 166.2Z"/>
<path class="c" color="#0004ff" d="M650.2 176.5L653.5 176.9L650.6 171.9L647.3 171.5Z"/>
<path class="c" color="#002cff" d="M646.9 176.2L650.2 176.5L647.3 171.5L643.9 171.2Z"/>
<path class="m" d="M646.9 176.2L653.5 176.9L647.7 166.9L641 166.2Z"/>
<path class="c" color="#0078ff" d="M640.5 170.9L643.9 171.2L641 166.2L637.6 166.0Z"/>
<path class="c" color="#009dff" d="M637.1 170.7L640.5 170.9L637.6 166.0L634.1 165.8Z"/>
<path class="c" color="#0054ff" d="M643.5 175.9L646.9 176.2L643.9 171.2L640.5 170.9Z"/>
<path class="c" color="#007aff" d="M640.1 175.7L643.5 175.9L640.5 170.9L637.1 170.7Z"/>
<path class="m" d="M640.1 175.7L646.9 176.2L641 166.2L634.1 165.8Z"/>
<path class="c" color="#00c2ff" d="M633.6 170.5L637.1 170.7L634.1 165.8L630.7 165.7Z"/>
<path class="c" color="#00e6ff" d="M630.1 170.4L633.6 170.5L630.7 165.7L627.1 165.6Z"/>
<path class="c" color="#009fff" d="M636.6 175.5L640.1 175.7L637.1 170.7L633.6 170.5Z"/>
<path class="c" color="#00c4ff" d="M633.1 175.4L636.6 175.5L633.6 170.5L630.1 170.4Z"/>
<path class="m" d="M633.1 175.4L640.1 175.7L634.1 165.8L627.1 165.6Z"/>
<path class="c" color="#00fff5" d="M626.6 170.4L630.1 170.4L627.1 165.6L623.6 165.5Z"/>
<path class="c" color="#00ffd3" d="M623 170.4L626.6 170.4L623.6 165.5L620 165.6Z"/>
<path class="c" color="#00e8ff" d="M629.6 175.4L633.1 175.4L630.1 170.4L626.6 170.4Z"/>
<path class="c" color="#00fff4" d="M626 175.4L629.6 175.4L626.6 170.4L623 170.4Z"/>
<path class="m" d="M626 175.4L633.1 175.4L627.1 165.6L620 165.6Z"/>
<path class="c" color="#00ffb2" d="M619.4 170.5L623 170.4L620 165.6L616.4 165.7Z"/>
<path class="c" color="#00ff91" d="M615.8 170.6L619.4 170.5L616.4 165.7L612.7 165.8Z"/>
<path class="c" color="#00ffd2" d="M622.4 175.4L626 175.4L623 170.4L619.4 170.5Z"/>
<path class="c" color="#00ffb1" d="M618.8 175.6L622.4 175.4L619.4 170.5L615.8 170.6Z"/>
<path class="m" d="M618.8 175.6L626 175.4L620 165.6L612.7 165.8Z"/>
<path class="c" color="#00ff72" d="M612.1 170.8L615.8 170.6L612.7 165.8L609 166.0Z"/>
<path class="c" color="#00ff54" d="M608.4 171.1L612.1 170.8L609 166.0L605.3 166.3Z"/>
<path class="c" color="#00ff91" d="M615.1 175.7L618.8 175.6L615.8 170.6L612.1 170.8Z"/>
<path class="c" color="#00ff72" d="M611.4 176.0L615.1 175.7L612.1 170.8L608.4 171.1Z"/>
<path class="m" d="M611.4 176.0L618.8 175.6L612.7 165.8L605.3 166.3Z"/>
<path class="c" color="#00ff36" d="M604.6 171.4L608.4 171.1L605.3 166.3L601.5 166.6Z"/>
<path class="c" color="#00ff1a" d="M600.8 171.8L604.6 171.4L601.5 166.6L597.7 167.0Z"/>
<path class="c" color="#00ff54" d="M607.7 176.3L611.4 176.0L608.4 171.1L604.6 171.4Z"/>
<path class="c" color="#00ff37" d="M603.9 176.6L607.7 176.3L604.6 171.4L600.8 171.8Z"/>
<path class="m" d="M603.9 176.6L611.4 176.0L605.3 166.3L597.7 167.0Z"/>
<path class="c" color="#02ff00" d="M597 172.2L600.8 171.8L597.7 167.0L593.9 167.5Z"/>
<path class="c" color="#1cff00" d="M593.1 172.7L597 172.2L593.9 167.5L590 168.0Z"/>
<path class="c" color="#00ff1b" d="M600.1 177.1L603.9 176.6L600.8 171.8L597 172.2Z"/>
<path class="c" color="#00ff00" d="M596.3 177.6L600.1 177.1L597 172.2L593.1 172.7Z"/>
<path class="m" d="M596.3 177.6L603.9 176.6L597.7 167.0L590 168.0Z"/>
<path class="c" color="#36ff00" d="M589.2 173.3L593.1 172.7L590 168.0L586.1 168.6Z"/>
<path class="c" color="#4fff00" d="M585.3 173.9L589.2 173.3L586.1 168.6L582.2 169.3Z"/>
<path class="c" color="#1aff00" d="M592.4 178.1L596.3 177.6L593.1 172.7L589.2 173.3Z"/>
<path class="c" color="#34ff00" d="M588.5 178.7L592.4 178.1L589.2 173.3L585.3 173.9Z"/>
<path class="m" d="M588.5 178.7L596.3 177.6L590 168.0L582.2 169.3Z"/>
<path class="c" color="#67ff00" d="M581.4 174.7L585.3 173.9L582.2 169.3L578.2 170.0Z"/>
<path class="c" color="#7eff00" d="M577.4 175.4L581.4 174.7L578.2 170.0L574.2 170.8Z"/>
<path class="c" color="#4cff00" d="M584.5 179.4L588.5 178.7L585.3 173.9L581.4 174.7Z"/>
<path class="c" color="#64ff00" d="M580.5 180.2L584.5 179.4L581.4 174.7L577.4 175.4Z"/>
<path class="m" d="M580.5 180.2L588.5 178.7L582.2 169.3L574.2 170.8Z"/>
<path class="c" color="#94ff00" d="M573.4 176.3L577.4 175.4L574.2 170.8L570.2 171.7Z"/>
<path class="c" color="#a9ff00" d="M569.3 177.2L573.4 176.3L570.2 171.7L566.1 172.6Z"/>
<path class="c" color="#7aff00" d="M576.5 181.0L580.5 180.2L577.4 175.4L573.4 176.3Z"/>
<path class="c" color="#90ff00" d="M572.5 181.9L576.5 181.0L573.4 176.3L569.3 177.2Z"/>
<path class="m" d="M572.5 181.9L580.5 180.2L574.2 170.8L566.1 172.6Z"/>
<path class="c" color="#bdff00" d="M565.2 178.1L569.3 177.2L566.1 172.6L562 173.6Z"/>
<path class="c" color="#d0ff00" d="M561.1 179.2L565.2 178.1L562 173.6L557.9 174.6Z"/>
<path class="c" color="#a5ff00" d="M568.4 182.8L572.5 181.9L569.3 177.2L565.2 178.1Z"/>
<path class="c" color="#b8ff00" d="M564.3 183.9L568.4 182.8L565.2 178.1L561.1 179.2Z"/>
<path class="m" d="M564.3 183.9L572.5 181.9L566.1 172.6L557.9 174.6Z"/>
<path class="c" color="#e2ff00" d="M557 180.3L561.1 179.2L557.9 174.6L553.8 175.8Z"/>
<path class="c" color="#f4ff00" d="M552.8 181.5L557 180.3L553.8 175.8L549.6 177.0Z"/>
<path class="c" color="#cbff00" d="M560.2 184.9L564.3 183.9L561.1 179.2L557 180.3Z"/>
<path class="c" color="#ddff00" d="M556 186.1L560.2 184.9L557 180.3L552.8 181.5Z"/>
<path class="m" d="M556 186.1L564.3 183.9L557.9 174.6L549.6 177.0Z"/>
<path class="c" color="#fffa00" d="M548.6 182.7L552.8 181.5L549.6 177.0L545.4 178.2Z"/>
<path class="c" color="#ffea00" d="M544.3 184.0L548.6 182.7L545.4 178.2L541.1 179.6Z"/>
<path class="c" color="#eeff00" d="M551.8 187.3L556 186.1L552.8 181.5L548.6 182.7Z"/>
<path class="c" color="#feff00" d="M547.6 188.6L551.8 187.3L548.6 182.7L544.3 184.0Z"/>
<path class="m" d="M547.6 188.6L556 186.1L549.6 177.0L541.1 179.6Z"/>
<path class="c" color="#ffdc00" d="M540.1 185.4L544.3 184.0L541.1 179.6L536.9 181.0Z"/>
<path class="c" color="#ffce00" d="M535.8 186.9L540.1 185.4L536.9 181.0L532.6 182.5Z"/>
<path class="c" color="#fff100" d="M543.3 190.0L547.6 188.6L544.3 184.0L540.1 185.4Z"/>
<path class="c" color="#ffe300" d="M539 191.4L543.3 190.0L540.1 185.4L535.8 186.9Z"/>
<path class="m" d="M539 191.4L547.6 188.6L541.1 179.6L532.6 182.5Z"/>
<path class="c" color="#ffc100" d="M531.5 188.4L535.8 186.9L532.6 182.5L528.3 184.0Z"/>
<path class="c" color="#ffb600" d="M527.1 190.0L531.5 188.4L528.3 184.0L523.9 185.7Z"/>
<path class="c" color="#ffd500" d="M534.7 193.0L539 191.4L535.8 186.9L531.5 188.4Z"/>
<path class="c" color="#ffc900" d="M530.4 194.6L534.7 193.0L531.5 188.4L527.1 190.0Z"/>
<path class="m" d="M530.4 194.6L539 191.4L532.6 182.5L523.9 185.7Z"/>
<path class="c" color="#ffab00" d="M522.8 191.7L527.1 190.0L523.9 185.7L519.5 187.4Z"/>
<path class="c" color="#ffa100" d="M518.4 193.5L522.8 191.7L519.5 187.4L515.1 189.2Z"/>
<path class="c" color="#ffbd00" d="M526 196.2L530.4 194.6L527.1 190.0L522.8 191.7Z"/>
<path class="c" color="#ffb300" d="M521.6 197.9L526 196.2L522.8 191.7L518.4 193.5Z"/>
<path class="m" d="M521.6 197.9L530.4 194.6L523.9 185.7L515.1 189.2Z"/>
<path class="c" color="#ff9800" d="M513.9 195.3L518.4 193.5L515.1 189.2L510.7 191.0Z"/>
<path class="c" color="#ff9000" d="M509.5 197.2L513.9 195.3L510.7 191.0L506.3 192.9Z"/>
<path class="c" color="#ffa900" d="M517.2 199.8L521.6 197.9L518.4 193.5L513.9 195.3Z"/>
<path class="c" color="#ffa100" d="M512.7 201.6L517.2 199.8L513.9 195.3L509.5 197.2Z"/>
<path class="m" d="M512.7 201.6L521.6 197.9L515.1 189.2L506.3 192.9Z"/>
<path class="c" color="#0000ff" d="M666.1 183.6L669.2 184.2L666.4 179.0L663.2 178.4Z"/>
<path class="c" color="#0000ff" d="M662.9 183.0L666.1 183.6L663.2 178.4L660 177.8Z"/>
<path class="c" color="#0000ff" d="M668.9 188.9L672 189.5L669.2 184.2L666.1 183.6Z"/>
<path class="c" color="#0000ff" d="M665.7 188.3L668.9 188.9L666.1 183.6L662.9 183.0Z"/>
<path class="m" d="M665.7 188.3L672 189.5L666.4 179.0L660 177.8Z"/>
<path class="c" color="#0000ff" d="M659.7 182.5L662.9 183.0L660 177.8L656.8 177.3Z"/>
<path class="c" color="#0000ff" d="M656.4 182.1L659.7 182.5L656.8 177.3L653.5 176.9Z"/>
<path class="c" color="#0000ff" d="M662.5 187.8L665.7 188.3L662.9 183.0L659.7 182.5Z"/>
<path class="c" color="#0000ff" d="M659.3 187.4L662.5 187.8L659.7 182.5L656.4 182.1Z"/>
<path class="m" d="M659.3 187.4L665.7 188.3L660 177.8L653.5 176.9Z"/>
<path class="c" color="#0000ff" d="M653.1 181.7L656.4 182.1L653.5 176.9L650.2 176.5Z"/>
<path class="c" color="#0006ff" d="M649.8 181.3L653.1 181.7L650.2 176.5L646.9 176.2Z"/>
<path class="c" color="#0000ff" d="M656 186.9L659.3 187.4L656.4 182.1L653.1 181.7Z"/>
<path class="c" color="#0000ff" d="M652.7 186.6L656 186.9L653.1 181.7L649.8 181.3Z"/>
<path class="m" d="M652.7 186.6L659.3 187.4L653.5 176.9L646.9 176.2Z"/>
<path class="c" color="#002eff" d="M646.4 181.1L649.8 181.3L646.9 176.2L643.5 175.9Z"/>
<path class="c" color="#0055ff" d="M643 180.8L646.4 181.1L643.5 175.9L640.1 175.7Z"/>
<path class="c" color="#0006ff" d="M649.4 186.3L652.7 186.6L649.8 181.3L646.4 181.1Z"/>
<path class="c" color="#002eff" d="M646 186.1L649.4 186.3L646.4 181.1L643 180.8Z"/>
<path class="m" d="M646 186.1L652.7 186.6L646.9 176.2L640.1 175.7Z"/>
<path class="c" color="#007bff" d="M639.6 180.6L643 180.8L640.1 175.7L636.6 175.5Z"/>
<path class="c" color="#00a0ff" d="M636.1 180.5L639.6 180.6L636.6 175.5L633.1 175.4Z"/>
<path class="c" color="#0055ff" d="M642.6 185.9L646 186.1L643 180.8L639.6 180.6Z"/>
<path class="c" color="#007aff" d="M639.1 185.7L642.6 185.9L639.6 180.6L636.1 180.5Z"/>
<path class="m" d="M639.1 185.7L646 186.1L640.1 175.7L633.1 175.4Z"/>
<path class="c" color="#00c4ff" d="M632.6 180.4L636.1 180.5L633.1 175.4L629.6 175.4Z"/>
<path class="c" color="#00e7ff" d="M629.1 180.4L632.6 180.4L629.6 175.4L626 175.4Z"/>
<path class="c" color="#009fff" d="M635.6 185.6L639.1 185.7L636.1 180.5L632.6 180.4Z"/>
<path class="c" color="#00c3ff" d="M632.1 185.6L635.6 185.6L632.6 180.4L629.1 180.4Z"/>
<path class="m" d="M632.1 185.6L639.1 185.7L633.1 175.4L626 175.4Z"/>
<path class="c" color="#00fff4" d="M625.5 180.5L629.1 180.4L626 175.4L622.4 175.4Z"/>
<path class="c" color="#00ffd3" d="M621.9 180.6L625.5 180.5L622.4 175.4L618.8 175.6Z"/>
<path class="c" color="#00e6ff" d="M628.5 185.7L632.1 185.6L629.1 180.4L625.5 180.5Z"/>
<path class="c" color="#00fff6" d="M624.9 185.8L628.5 185.7L625.5 180.5L621.9 180.6Z"/>
<path class="m" d="M624.9 185.8L632.1 185.6L626 175.4L618.8 175.6Z"/>
<path class="c" color="#00ffb2" d="M618.2 180.8L621.9 180.6L618.8 175.6L615.1 175.7Z"/>
<path class="c" color="#00ff93" d="M614.5 181.0L618.2 180.8L615.1 175.7L611.4 176.0Z"/>
<path class="c" color="#00ffd5" d="M621.2 185.9L624.9 185.8L621.9 180.6L618.2 180.8Z"/>
<path class="c" color="#00ffb5" d="M617.6 186.1L621.2 185.9L618.2 180.8L614.5 181.0Z"/>
<path class="m" d="M617.6 186.1L624.9 185.8L618.8 175.6L611.4 176.0Z"/>
<path class="c" color="#00ff74" d="M610.8 181.3L614.5 181.0L611.4 176.0L607.7 176.3Z"/>
<path class="c" color="#00ff57" d="M607 181.6L610.8 181.3L607.7 176.3L603.9 176.6Z"/>
<path class="c" color="#00ff96" d="M613.9 186.4L617.6 186.1L614.5 181.0L610.8 181.3Z"/>
<path class="c" color="#00ff78" d="M610.1 186.7L613.9 186.4L610.8 181.3L607 181.6Z"/>
<path class="m" d="M610.1 186.7L617.6 186.1L611.4 176.0L603.9 176.6Z"/>
<path class="c" color="#00ff3a" d="M603.2 182.0L607 181.6L603.9 176.6L600.1 177.1Z"/>
<path class="c" color="#00ff1e" d="M599.4 182.5L603.2 182.0L600.1 177.1L596.3 177.6Z"/>
<path class="c" color="#00ff5b" d="M606.3 187.1L610.1 186.7L607 181.6L603.2 182.0Z"/>
<path class="c" color="#00ff3e" d="M602.5 187.6L606.3 187.1L603.2 182.0L599.4 182.5Z"/>
<path class="m" d="M602.5 187.6L610.1 186.7L603.9 176.6L596.3 177.6Z"/>
<path class="c" color="#00ff03" d="M595.5 183.0L599.4 182.5L596.3 177.6L592.4 178.1Z"/>
<path class="c" color="#17ff00" d="M591.6 183.7L595.5 183.0L592.4 178.1L588.5 178.7Z"/>
<path class="c" color="#00ff23" d="M598.6 188.1L602.5 187.6L599.4 182.5L595.5 183.0Z"/>
<path class="c" color="#00ff08" d="M594.8 188.7L598.6 188.1L595.5 183.0L591.6 183.7Z"/>
<path class="m" d="M594.8 188.7L602.5 187.6L596.3 177.6L588.5 178.7Z"/>
<path class="c" color="#30ff00" d="M587.7 184.3L591.6 183.7L588.5 178.7L584.5 179.4Z"/>
<path class="c" color="#48ff00" d="M583.7 185.1L587.7 184.3L584.5 179.4L580.5 180.2Z"/>
<path class="c" color="#11ff00" d="M590.8 189.3L594.8 188.7L591.6 183.7L587.7 184.3Z"/>
<path class="c" color="#2aff00" d="M586.9 190.1L590.8 189.3L587.7 184.3L583.7 185.1Z"/>
<path class="m" d="M586.9 190.1L594.8 188.7L588.5 178.7L580.5 180.2Z"/>
<path class="c" color="#5fff00" d="M579.7 185.9L583.7 185.1L580.5 180.2L576.5 181.0Z"/>
<path class="c" color="#75ff00" d="M575.7 186.7L579.7 185.9L576.5 181.0L572.5 181.9Z"/>
<path class="c" color="#42ff00" d="M582.9 190.8L586.9 190.1L583.7 185.1L579.7 185.9Z"/>
<path class="c" color="#59ff00" d="M578.9 191.7L582.9 190.8L579.7 185.9L575.7 186.7Z"/>
<path class="m" d="M578.9 191.7L586.9 190.1L580.5 180.2L572.5 181.9Z"/>
<path class="c" color="#8aff00" d="M571.6 187.7L575.7 186.7L572.5 181.9L568.4 182.8Z"/>
<path class="c" color="#9fff00" d="M567.5 188.7L571.6 187.7L568.4 182.8L564.3 183.9Z"/>
<path class="c" color="#6eff00" d="M574.8 192.6L578.9 191.7L575.7 186.7L571.6 187.7Z"/>
<path class="c" color="#83ff00" d="M570.7 193.6L574.8 192.6L571.6 187.7L567.5 188.7Z"/>
<path class="m" d="M570.7 193.6L578.9 191.7L572.5 181.9L564.3 183.9Z"/>
<path class="c" color="#b2ff00" d="M563.4 189.7L567.5 188.7L564.3 183.9L560.2 184.9Z"/>
<path class="c" color="#c5ff00" d="M559.2 190.9L563.4 189.7L560.2 184.9L556 186.1Z"/>
<path class="c" color="#97ff00" d="M566.6 194.6L570.7 193.6L567.5 188.7L563.4 189.7Z"/>
<path class="c" color="#aaff00" d="M562.4 195.8L566.6 194.6L563.4 189.7L559.2 190.9Z"/>
<path class="m" d="M562.4 195.8L570.7 193.6L564.3 183.9L556 186.1Z"/>
<path class="c" color="#d6ff00" d="M555 192.1L559.2 190.9L556 186.1L551.8 187.3Z"/>
<path class="c" color="#e7ff00" d="M550.8 193.4L555 192.1L551.8 187.3L547.6 188.6Z"/>
<path class="c" color="#bdff00" d="M558.2 197.0L562.4 195.8L559.2 190.9L555 192.1Z"/>
<path class="c" color="#ceff00" d="M554 198.2L558.2 197.0L555 192.1L550.8 193.4Z"/>
<path class="m" d="M554 198.2L562.4 195.8L556 186.1L547.6 188.6Z"/>
<path class="c" color="#f7ff00" d="M546.5 194.7L550.8 193.4L547.6 188.6L543.3 190.0Z"/>
<path class="c" color="#fff900" d="M542.3 196.1L546.5 194.7L543.3 190.0L539 191.4Z"/>
<path class="c" color="#deff00" d="M549.8 199.5L554 198.2L550.8 193.4L546.5 194.7Z"/>
<path class="c" color="#edff00" d="M545.5 200.9L549.8 199.5L546.5 194.7L542.3 196.1Z"/>
<path class="m" d="M545.5 200.9L554 198.2L547.6 188.6L539 191.4Z"/>
<path class="c" color="#ffeb00" d="M537.9 197.6L542.3 196.1L539 191.4L534.7 193.0Z"/>
<path class="c" color="#ffde00" d="M533.6 199.2L537.9 197.6L534.7 193.0L530.4 194.6Z"/>
<path class="c" color="#fcff00" d="M541.2 202.4L545.5 200.9L542.3 196.1L537.9 197.6Z"/>
<path class="c" color="#fff500" d="M536.9 204.0L541.2 202.4L537.9 197.6L533.6 199.2Z"/>
<path class="m" d="M536.9 204.0L545.5 200.9L539 191.4L530.4 194.6Z"/>
<path class="c" color="#ffd200" d="M529.2 200.8L533.6 199.2L530.4 194.6L526 196.2Z"/>
<path class="c" color="#ffc700" d="M524.8 202.5L529.2 200.8L526 196.2L521.6 197.9Z"/>
<path class="c" color="#ffe800" d="M532.5 205.6L536.9 204.0L533.6 199.2L529.2 200.8Z"/>
<path class="c" color="#ffdc00" d="M528.1 207.3L532.5 205.6L529.2 200.8L524.8 202.5Z"/>
<path class="m" d="M528.1 207.3L536.9 204.0L530.4 194.6L521.6 197.9Z"/>
<path class="c" color="#ffbd00" d="M520.4 204.3L524.8 202.5L521.6 197.9L517.2 199.8Z"/>
<path class="c" color="#ffb400" d="M516 206.2L520.4 204.3L517.2 199.8L512.7 201.6Z"/>
<path class="c" color="#ffd200" d="M523.7 209.0L528.1 207.3L524.8 202.5L520.4 204.3Z"/>
<path class="c" color="#ffc800" d="M519.3 210.9L523.7 209.0L520.4 204.3L516 206.2Z"/>
<path class="m" d="M519.3 210.9L528.1 207.3L521.6 197.9L512.7 201.6Z"/>
<path d="M466.0 150.9 L465.9 149.6" stroke="#222" stroke-width="0.8"/>
<circle cx="466.0" cy="150.9" r="2.75" fill="#ffcccc" stroke="#906868" stroke-width="0.6"/>
<path d="M466.3 153.8 L465.9 149.6" stroke="#222" stroke-width="0.8"/>
<circle cx="466.3" cy="153.8" r="2.75" fill="#ffcccc" stroke="#906868" stroke-width="0.6"/>
<path d="M483.6 175.3 L482.9 165.5" stroke="#222" stroke-width="0.8"/>
<circle cx="483.6" cy="175.3" r="2.75" fill="#ffcccc" stroke="#906868" stroke-width="0.6"/>
<path d="M501.0 191.5 L500.8 185.9" stroke="#222" stroke-width="0.8"/>
<circle cx="501.0" cy="191.5" r="2.75" fill="#ffcccc" stroke="#906868" stroke-width="0.6"/>
<path d="M519.3 214.2 L519.3 210.9" stroke="#222" stroke-width="0.8"/>
<circle cx="519.3" cy="214.2" r="2.75" fill="#ffcccc" stroke="#906868" stroke-width="0.6"/>
<path d="M465.8 147.5 L465.9 149.6" stroke="#333" stroke-opacity="0.7" stroke-width="0.6"/>
<circle cx="465.8" cy="147.5" r="2.6" fill="#c40000" stroke="#500000" stroke-width="0.6"/>
<path d="M482.7 162.1 L482.9 165.5" stroke="#333" stroke-opacity="0.7" stroke-width="0.6"/>
<circle cx="482.7" cy="162.1" r="2.6" fill="#c40000" stroke="#500000" stroke-width="0.6"/>
<path d="M500.7 185.0 L500.8 185.9" stroke="#333" stroke-opacity="0.7" stroke-width="0.6"/>
<circle cx="500.7" cy="185.0" r="2.6" fill="#c40000" stroke="#500000" stroke-width="0.6"/>
<path d="M519.2 210.1 L519.3 210.9" stroke="#333" stroke-opacity="0.7" stroke-width="0.6"/>
<circle cx="519.2" cy="210.1" r="2.6" fill="#c40000" stroke="#500000" stroke-width="0.6"/>
<path d="M519.2 207.5 L519.3 210.9" stroke="#333" stroke-opacity="0.7" stroke-width="0.6"/>
<circle cx="519.2" cy="207.5" r="2.6" fill="#c40000" stroke="#500000" stroke-width="0.6"/>
<path d="M516.2 90.2 L516.2 93.6" stroke="#333" stroke-opacity="0.7" stroke-width="0.6"/>
<circle cx="516.2" cy="90.2" r="2.6" fill="#c40000" stroke="#500000" stroke-width="0.6"/>
<path d="M532.4 91.6 L532.6 103.8" stroke="#333" stroke-opacity="0.7" stroke-width="0.6"/>
<circle cx="532.4" cy="91.6" r="2.6" fill="#c40000" stroke="#500000" stroke-width="0.6"/>
<path d="M549.5 115.3 L549.5 118.3" stroke="#333" stroke-opacity="0.7" stroke-width="0.6"/>
<circle cx="549.5" cy="115.3" r="2.6" fill="#c40000" stroke="#500000" stroke-width="0.6"/>
<path d="M567.1 128.8 L566.9 137.1" stroke="#333" stroke-opacity="0.7" stroke-width="0.6"/>
<circle cx="567.1" cy="128.8" r="2.6" fill="#c40000" stroke="#500000" stroke-width="0.6"/>
<path d="M558.2 63.3 L558.1 67.9" stroke="#333" stroke-opacity="0.7" stroke-width="0.6"/>
<circle cx="558.2" cy="63.3" r="2.6" fill="#c40000" stroke="#500000" stroke-width="0.6"/>
<path d="M573.7 70.1 L573.6 73.5" stroke="#333" stroke-opacity="0.7" stroke-width="0.6"/>
<circle cx="573.7" cy="70.1" r="2.6" fill="#c40000" stroke="#500000" stroke-width="0.6"/>
<path d="M589.9 77.2 L589.7 82.9" stroke="#333" stroke-opacity="0.7" stroke-width="0.6"/>
<circle cx="589.9" cy="77.2" r="2.6" fill="#c40000" stroke="#500000" stroke-width="0.6"/>
<path d="M606.4 91.0 L606.1 96.4" stroke="#333" stroke-opacity="0.7" stroke-width="0.6"/>
<circle cx="606.4" cy="91.0" r="2.6" fill="#c40000" stroke="#500000" stroke-width="0.6"/>
<text x="409.3" y="171.8" font-size="12.1" text-anchor="end">20</text>
<text x="407.6" y="159.1" font-size="12.1" text-anchor="end">22</text>
<text x="405.9" y="146.4" font-size="12.1" text-anchor="end">24</text>
<text x="404.2" y="133.7" font-size="12.1" text-anchor="end">26</text>
<text x="402.5" y="121.0" font-size="12.1" text-anchor="end">28</text>
<text x="400.8" y="108.3" font-size="12.1" text-anchor="end">30</text>
<text x="399.2" y="95.6" font-size="12.1" text-anchor="end">32</text>
<text x="397.5" y="82.9" font-size="12.1" text-anchor="end">34</text>
<text x="395.8" y="70.2" font-size="12.1" text-anchor="end">36</text>
<text x="406.7" y="215.5" font-size="12.1" text-anchor="middle">40</text>
<text x="427.8" y="238.4" font-size="12.1" text-anchor="middle">33</text>
<text x="448.5" y="261.8" font-size="12.1" text-anchor="middle">26</text>
<text x="469.5" y="285.0" font-size="12.1" text-anchor="middle">19</text>
<text x="490.2" y="307.8" font-size="12.1" text-anchor="middle">12</text>
<text x="513.9" y="331.3" font-size="12.1" text-anchor="middle">5</text>
<text x="531.2" y="331.3" font-size="12.1" text-anchor="middle">5</text>
<text x="560.3" y="311.9" font-size="12.1" text-anchor="middle">7</text>
<text x="588.6" y="294.9" font-size="12.1" text-anchor="middle">9</text>
<text x="620.0" y="277.0" font-size="12.1" text-anchor="middle">11</text>
<text x="648.6" y="259.5" font-size="12.1" text-anchor="middle">13</text>
<text x="678.0" y="241.6" font-size="12.1" text-anchor="middle">15</text>
<text transform="translate(371.3 142.4) rotate(-90)" font-size="15.1" text-anchor="middle">28D Compressive Strength (MPa)</text>
<text x="421.5" y="299.4" font-size="15" text-anchor="middle">B: RHA (%)</text>
<text x="633.6" y="322.9" font-size="15" text-anchor="middle">A: EMS (%)</text>
<text x="543.7" y="367.2" font-size="17.8" text-anchor="middle">(b)</text>
</svg></body></html>
